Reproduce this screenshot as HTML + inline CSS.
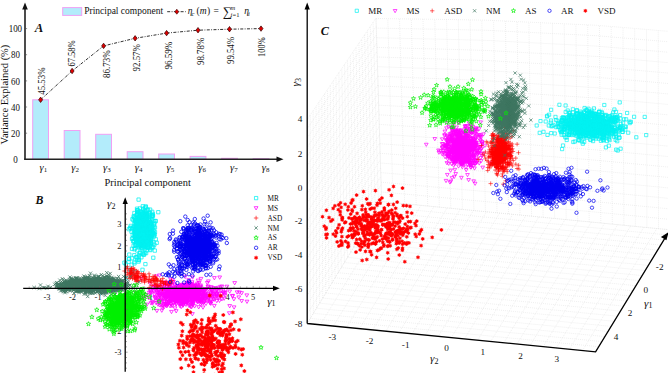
<!DOCTYPE html>
<html><head><meta charset="utf-8"><style>html,body{margin:0;padding:0;background:#fff;overflow:hidden}
svg{display:block}
text{font-family:"Liberation Serif",serif;fill:#111}
.p{fill:none;stroke:none}
.ta{font-size:9.6px}
.tp{font-size:9.8px}
.t95{font-size:9.5px}
.t104{font-size:10.4px}
.tb{font-size:8.4px}
.tc{font-size:9.2px}
.tl{font-size:7.3px}
.tlc{font-size:9px}
.it{font-style:italic}
.g{font-size:10.5px;font-style:italic}
.g9{font-size:11.2px;font-style:italic}
.sub9{font-size:8px;font-style:normal}
.sub{font-size:7px;font-style:normal}
.sub2{font-size:6.5px}
.sig{font-size:13px}
.lbl{font-size:12.8px;font-weight:bold;font-style:italic}
.lbl2{font-size:11.8px;font-weight:bold;font-style:italic}
.lbl3{font-size:12.2px;font-weight:bold;font-style:italic}
</style></head><body>
<svg width="668" height="373" viewBox="0 0 668 373">
<defs>
<marker id="bsq" markerUnits="userSpaceOnUse" markerWidth="1" markerHeight="1" overflow="visible"><path d="M-1.65 -1.65h3.30v3.30h-3.30z" fill="none" stroke="#00f2f2" stroke-width="0.75"/></marker>
<marker id="btr" markerUnits="userSpaceOnUse" markerWidth="1" markerHeight="1" overflow="visible"><path d="M-1.90 -1.32h3.79l-1.90 3.30z" fill="none" stroke="#ff00ff" stroke-width="0.75" stroke-linejoin="round"/></marker>
<marker id="bpl" markerUnits="userSpaceOnUse" markerWidth="1" markerHeight="1" overflow="visible"><path d="M-2.23 0h4.46M0 -2.23v4.46" fill="none" stroke="#ff0000" stroke-width="0.64"/></marker>
<marker id="bcr" markerUnits="userSpaceOnUse" markerWidth="1" markerHeight="1" overflow="visible"><path d="M-1.65 -1.65l3.30 3.30m0 -3.30l-3.30 3.30" fill="none" stroke="#3e7660" stroke-width="0.75"/></marker>
<marker id="bst" markerUnits="userSpaceOnUse" markerWidth="1" markerHeight="1" overflow="visible"><path d="M0.00 -2.31 0.58 -0.80 2.20 -0.71 0.94 0.31 1.36 1.87 0.00 0.99 -1.36 1.87 -0.94 0.31 -2.20 -0.71 -0.58 -0.80z" fill="none" stroke="#00f000" stroke-width="0.75" stroke-linejoin="round"/></marker>
<marker id="bci" markerUnits="userSpaceOnUse" markerWidth="1" markerHeight="1" overflow="visible"><circle r="1.73" fill="none" stroke="#0000f0" stroke-width="0.75"/></marker>
<marker id="bas" markerUnits="userSpaceOnUse" markerWidth="1" markerHeight="1" overflow="visible"><path d="M0.00 -1.98 0.62 -1.07 1.71 -0.99 1.24 0.00 1.71 0.99 0.62 1.07 0.00 1.98 -0.62 1.07 -1.71 0.99 -1.24 0.00 -1.71 -0.99 -0.62 -1.07z" fill="#ff0000" stroke="#ff0000" stroke-width="0.38"/></marker>
<marker id="csq" markerUnits="userSpaceOnUse" markerWidth="1" markerHeight="1" overflow="visible"><path d="M-1.60 -1.60h3.20v3.20h-3.20z" fill="none" stroke="#00f2f2" stroke-width="0.7"/></marker>
<marker id="ctr" markerUnits="userSpaceOnUse" markerWidth="1" markerHeight="1" overflow="visible"><path d="M-1.84 -1.28h3.68l-1.84 3.20z" fill="none" stroke="#ff00ff" stroke-width="0.7" stroke-linejoin="round"/></marker>
<marker id="cpl" markerUnits="userSpaceOnUse" markerWidth="1" markerHeight="1" overflow="visible"><path d="M-2.16 0h4.32M0 -2.16v4.32" fill="none" stroke="#ff0000" stroke-width="0.59"/></marker>
<marker id="ccr" markerUnits="userSpaceOnUse" markerWidth="1" markerHeight="1" overflow="visible"><path d="M-1.60 -1.60l3.20 3.20m0 -3.20l-3.20 3.20" fill="none" stroke="#3e7660" stroke-width="0.7"/></marker>
<marker id="cst" markerUnits="userSpaceOnUse" markerWidth="1" markerHeight="1" overflow="visible"><path d="M0.00 -2.24 0.56 -0.78 2.13 -0.69 0.91 0.30 1.32 1.81 0.00 0.96 -1.32 1.81 -0.91 0.30 -2.13 -0.69 -0.56 -0.78z" fill="none" stroke="#00f000" stroke-width="0.7" stroke-linejoin="round"/></marker>
<marker id="cci" markerUnits="userSpaceOnUse" markerWidth="1" markerHeight="1" overflow="visible"><circle r="1.68" fill="none" stroke="#0000f0" stroke-width="0.7"/></marker>
<marker id="cas" markerUnits="userSpaceOnUse" markerWidth="1" markerHeight="1" overflow="visible"><path d="M0.00 -1.92 0.60 -1.04 1.66 -0.96 1.20 0.00 1.66 0.96 0.60 1.04 0.00 1.92 -0.60 1.04 -1.66 0.96 -1.20 0.00 -1.66 -0.96 -0.60 -1.04z" fill="#ff0000" stroke="#ff0000" stroke-width="0.35"/></marker>
<marker id="dm" markerUnits="userSpaceOnUse" markerWidth="1" markerHeight="1" overflow="visible"><path d="M0 -2.7L2 0 0 2.7-2 0z" fill="#e00000" stroke="#300" stroke-width=".7"/></marker>
</defs>
<rect x="32.7" y="99.8" width="15.8" height="59.5" fill="#b3ecfb" stroke="#f0a0f4" stroke-width="1"/>
<rect x="64.2" y="130.5" width="15.8" height="28.8" fill="#b3ecfb" stroke="#f0a0f4" stroke-width="1"/>
<rect x="95.7" y="134.3" width="15.8" height="25.0" fill="#b3ecfb" stroke="#f0a0f4" stroke-width="1"/>
<rect x="127.2" y="151.7" width="15.8" height="7.6" fill="#b3ecfb" stroke="#f0a0f4" stroke-width="1"/>
<rect x="158.7" y="154.0" width="15.8" height="5.3" fill="#b3ecfb" stroke="#f0a0f4" stroke-width="1"/>
<rect x="190.1" y="156.4" width="15.8" height="2.9" fill="#b3ecfb" stroke="#f0a0f4" stroke-width="1"/>
<rect x="221.6" y="158.3" width="15.8" height="1.0" fill="#b3ecfb" stroke="#f0a0f4" stroke-width="1"/>
<rect x="253.1" y="158.7" width="15.8" height="0.6" fill="#b3ecfb" stroke="#f0a0f4" stroke-width="1"/>
<path d="M25 159.3V8" stroke="#383838" stroke-width="1.8" fill="none"/>
<path d="M24.1 159.3H278" stroke="#222" stroke-width="1.5" fill="none"/>
<path d="M25 2.5L22.2 9.5H27.8z" fill="#111"/>
<path d="M283.5 159.3L276.5 156.5V162.10000000000002z" fill="#111"/>
<text x="15.4" y="162.9" class="ta" text-anchor="middle" textLength="4.5" lengthAdjust="spacingAndGlyphs">0</text>
<text x="15.4" y="136.8" class="ta" text-anchor="middle" textLength="8.9" lengthAdjust="spacingAndGlyphs">20</text>
<path d="M25.5 133.2h1.6" stroke="#444" stroke-width=".6"/>
<text x="15.4" y="110.6" class="ta" text-anchor="middle" textLength="8.9" lengthAdjust="spacingAndGlyphs">40</text>
<path d="M25.5 107.0h1.6" stroke="#444" stroke-width=".6"/>
<text x="15.4" y="84.5" class="ta" text-anchor="middle" textLength="8.9" lengthAdjust="spacingAndGlyphs">60</text>
<path d="M25.5 80.9h1.6" stroke="#444" stroke-width=".6"/>
<text x="15.4" y="58.3" class="ta" text-anchor="middle" textLength="8.9" lengthAdjust="spacingAndGlyphs">80</text>
<path d="M25.5 54.7h1.6" stroke="#444" stroke-width=".6"/>
<text x="15.4" y="32.2" class="ta" text-anchor="middle" textLength="13.4" lengthAdjust="spacingAndGlyphs">100</text>
<path d="M25.5 28.6h1.6" stroke="#444" stroke-width=".6"/>
<text x="39.5" y="170.9" class="g">γ<tspan class="sub" dy=".9">1</tspan></text>
<text x="71.3" y="170.9" class="g">γ<tspan class="sub" dy=".9">2</tspan></text>
<text x="103.0" y="170.9" class="g">γ<tspan class="sub" dy=".9">3</tspan></text>
<text x="134.8" y="170.9" class="g">γ<tspan class="sub" dy=".9">4</tspan></text>
<text x="166.5" y="170.9" class="g">γ<tspan class="sub" dy=".9">5</tspan></text>
<text x="198.3" y="170.9" class="g">γ<tspan class="sub" dy=".9">6</tspan></text>
<text x="230.1" y="170.9" class="g">γ<tspan class="sub" dy=".9">7</tspan></text>
<text x="261.8" y="170.9" class="g">γ<tspan class="sub" dy=".9">8</tspan></text>
<text x="104.5" y="186" class="t104">Principal component</text>
<text transform="translate(7.5 94.6) rotate(-90)" class="t104" text-anchor="middle" textLength="99.8" lengthAdjust="spacingAndGlyphs">Variance Explained (%)</text>
<path d="M40.6 99.8 72.1 71.0 103.6 45.9 135.1 38.3 166.6 33.1 198.0 30.2 229.5 29.2 261.0 28.6" fill="none" stroke="#1a1a1a" stroke-width=".9" stroke-dasharray="3 1.4 .9 1.4"/>
<path class="p" d="M40.6 99.8 72.1 71.0 103.6 45.9 135.1 38.3 166.6 33.1 198.0 30.2 229.5 29.2 261.0 28.6" marker-start="url(#dm)" marker-mid="url(#dm)" marker-end="url(#dm)"/>
<text transform="translate(45.4 94.7) rotate(-90)" class="tp" textLength="27.2" lengthAdjust="spacingAndGlyphs">45.53%</text>
<text transform="translate(75.0 66.6) rotate(-90)" class="tp" textLength="26.3" lengthAdjust="spacingAndGlyphs">67.58%</text>
<text transform="translate(109.6 78.0) rotate(-90)" class="tp" textLength="27.6" lengthAdjust="spacingAndGlyphs">86.73%</text>
<text transform="translate(140.0 71.5) rotate(-90)" class="tp" textLength="27.5" lengthAdjust="spacingAndGlyphs">92.57%</text>
<text transform="translate(172.1 69.5) rotate(-90)" class="tp" textLength="27.7" lengthAdjust="spacingAndGlyphs">96.59%</text>
<text transform="translate(203.9 65.0) rotate(-90)" class="tp" textLength="27.3" lengthAdjust="spacingAndGlyphs">98.78%</text>
<text transform="translate(234.1 64.0) rotate(-90)" class="tp" textLength="27.0" lengthAdjust="spacingAndGlyphs">99.54%</text>
<text transform="translate(265.4 56.9) rotate(-90)" class="tp" textLength="19.5" lengthAdjust="spacingAndGlyphs">100%</text>
<rect x="62.7" y="7.6" width="19" height="7.8" fill="#b3ecfb" stroke="#f0a0f4" stroke-width="1"/>
<text x="84.2" y="13.8" class="t95">Principal component</text>
<path d="M167.2 11.7H185.7" stroke="#1a1a1a" stroke-width=".9" stroke-dasharray="3 1.4 .9 1.4"/>
<path d="M176.8 9.2L178.7 11.7 176.8 14.2 174.9 11.7z" fill="#e00000" stroke="#300" stroke-width=".6"/>
<text x="187.8" y="13.8" class="t95 it">η</text>
<text x="191.5" y="15.9" class="sub2 it">c</text>
<text x="196.4" y="13.8" class="t95">(</text>
<text x="199.7" y="13.8" class="t95 it">m</text>
<text x="206.9" y="13.8" class="t95">)</text>
<text x="213.6" y="13.8" class="t95">=</text>
<text x="222.9" y="16.2" class="sig">∑</text>
<text x="230.6" y="9.9" class="sub2 it">m</text>
<text x="230.6" y="16.6" class="sub2 it">i</text>
<text x="232.6" y="16.6" class="sub2">=1</text>
<text x="244.2" y="13.8" class="t95 it">η</text>
<text x="248.0" y="15.9" class="sub2 it">i</text>
<text x="34.8" y="31.9" class="lbl">A</text>
<text x="46.9" y="300.2" class="tb" text-anchor="middle">-3</text>
<text x="72.5" y="300.2" class="tb" text-anchor="middle">-2</text>
<text x="98.1" y="300.2" class="tb" text-anchor="middle">-1</text>
<text x="150.8" y="300.2" class="tb" text-anchor="middle">1</text>
<text x="176.4" y="300.2" class="tb" text-anchor="middle">2</text>
<text x="202.0" y="300.2" class="tb" text-anchor="middle">3</text>
<text x="227.6" y="300.2" class="tb" text-anchor="middle">4</text>
<text x="253.2" y="300.2" class="tb" text-anchor="middle">5</text>
<text x="121.5" y="227.3" class="tb" text-anchor="end">3</text>
<text x="121.5" y="248.6" class="tb" text-anchor="end">2</text>
<text x="121.5" y="269.9" class="tb" text-anchor="end">1</text>
<text x="121.5" y="312.5" class="tb" text-anchor="end">-1</text>
<text x="121.5" y="333.8" class="tb" text-anchor="end">-2</text>
<text x="121.5" y="355.1" class="tb" text-anchor="end">-3</text>
<path class="p" d="M150.4 222.1 136 234.6 152.2 211.8 146.5 228.7 139.8 242 135.3 238.9 145.9 238.5 148.4 238.9 145.2 242.5 146 227.4 139.6 215.5 141 226.7 148.3 248 143.8 233.1 145.2 210.6 144.8 237.3 145.7 226 139.7 234 145.3 224.5 147.4 234.6 146.3 231.7 149.8 227.1 146.7 214.5 150.4 231.6 145.4 226 140.6 216.8 141.4 233.7 143.4 231.9 143.1 227.9 146.8 224.8 138.2 237.2 143.3 226.7 142.4 233.2 141.1 239.1 146.1 243.5 142.1 224.3 139.8 234.3 133.5 241.1 137.2 211.6 140.6 227.5 149.7 233.6 152 232.6 150.1 229.4 145.3 232.6 145.8 218.5 144.5 227.6 135.3 231 150.1 209.6 141.7 240.9 145.6 243.6 138.2 217 148.2 235.7 142.3 241.8 147.7 214.4 141 233.9 138.6 232.2 139.4 227.6 141.3 233.5 133.5 220.1 137 214.6 148 209.8 137.2 241.3 145.9 230.7 145.4 264.1 139.9 221.8 134.2 233.2 137.9 245.4 146.3 223.9 141.6 236.9 142.4 248 141.1 225.6 144 224.7 146.4 239 139.6 220.6 134.9 232 149.9 222.9 146 228.7 144.4 237.9 134.3 236.8 151.7 228.5 147.7 235.2 142 228.5 147.8 234 145.5 229.8 143.2 244.7 146.5 240.1 136.5 235 141.1 232.6 140.6 224.7 146.7 230.6 152.5 233 147.1 234.1 146.3 224.4 135.1 236.5 146.8 228.1 152.3 216 138.4 232.9 145.2 243.9 141.2 230.4 142.5 221.7 151.5 228.7 135.7 228.1 142.4 235.5 142.1 230.5 149.2 224.8 153.9 224.6 130.6 228.1 141.8 224.4 149 220.4 153.3 257.7 140.1 233.6 132.1 229.2 146.7 225.2 146.3 232.5 144.4 218 139.4 243.1 138.4 221.6 135.6 230.8 137.5 234.4 149.8 225.5 147.7 242.9 147.7 223.4 148.1 245.9 151.7 228 143.4 231.2 142.1 232.3 138.9 212 147.6 242 146.6 220.1 146.1 233.7 146.4 241.3 151.1 233.2 133.7 216.3 143 231.6 142.4 234.7 146.7 234 143.3 224.6 148.9 224 140.7 245.4 144.8 226.8 143.4 226.9 147.6 227.9 141.4 222.8 139.7 225.5 148.2 224.4 148 232.5 137 226.5 146 226 150.3 218.9 135.8 233.9 130.7 225.9 152 223.6 136.5 238.6 150.1 249.4 143 236.5 135.3 228.9 146.1 211.5 146.2 236 137.3 250.5 144.7 239.9 143.3 239.8 152.3 227.6 137.7 225.6 142.3 240.8 140.9 218.6 143.7 220.1 147.6 224.2 139.6 253 136.2 232 142.4 227.9 150.9 241.4 155.7 221.1 151.8 233.8 144.3 237.1 141.1 238 142.6 235.2 147.6 239.6 144.5 225 142.6 226.7 154.4 244.6 140.8 243.8 135.8 233.8 140.1 213.9 143.2 214.6 148.7 241.2 142.4 242.9 131.5 231.7 137.6 221 137.1 236 151.6 235.2 155 232.2 147.1 229.6 140 227.6 140.9 219.2 144.9 219.4 151.4 242.8 136.9 220.4 146.3 235.8 142.5 224.6 149.1 223.6 140.2 233.6 135.6 227.2 153.3 246.8 141.1 219.2 145.9 207.1 139.1 240.8 139.9 244.4 135.7 220.3 141.2 219.8 132.7 238.1 141.1 247.7 138.6 232.6 156.7 242.8 155.8 239.3 143.6 221.8 146.6 240.6 147.2 227.8 138.8 223.4 139.1 231.4 150.1 233.8 148.1 240 135.8 222.2 143 219.3 136.6 214.9 144.5 234 149.8 232.9 147.5 226.8 144.2 236.2 147.6 227.2 145.1 234.7 148.5 226.9 146.4 223 149.8 232.5 139.9 208.4 139 218.9 151.9 226.9 140.7 230.7 153.6 220.8 149.2 226.4 149.2 232 144.5 241.8 136.8 227.2 145.4 236.5 150.1 238.6 142 212.9 144.9 230.2 137.4 213.5 141.7 237.6 142.8 217.8 139.6 217.1 149.9 233.5 147.3 235.8 148.7 224.6 138.7 230.3 142.8 244.6 149.6 234.7 139.2 219.1 139.7 240 137.5 242.7 141.3 247.2 133.6 245.8 143 224.6 143.4 209.5 147.8 224.4 135.4 229.2 138.2 242.1 143.4 234.9 141.2 223.8 148.8 229.3 145 218.7 145.1 208 146.6 213.8 140.9 223.4 136.9 236.6 142.5 220.9 148.6 244.3 136.8 227.6 144.3 235.9 137.4 233.1 139.7 231.6 146.5 236.3 143.1 213.1 143.7 245.3 154.7 234.7 146 230.9 138 245.1 146.7 250.5 135.5 244.8 137.7 233.2 143.4 233.3 137 235.7 141.7 229.6 143.5 230.5 146.6 234.7 145.9 234.1 151.4 231.7 145.8 234.9 145.1 233.3 150.4 244 139 227.8 139.7 231 138 232.4 141.6 219.4 144.4 229.7 152.9 232.9 139.7 232.8 142.9 241.1 145.5 229.1 141.7 239 142.2 214.3 150.4 222.7 145 235.3 137.6 212.4 148.8 220.3 149.3 226.6 144.5 237 147.1 225.6 146.6 219.5 148.4 232.3 152 233.4 142.7 214.2 141.9 239.8 143.1 223.3 132.7 234.7 155 227.5 138.5 261.6 136.6 232.4 145.3 221.9 146.7 216.5 139 225.9 147.4 217.7 133 227.8 142.5 232.4 138.1 227.9 143.3 228.4 137.4 210.2 144.6 229.4 145.4 231.8 146.4 229.4 138.5 219.8 143.4 232.1 143.1 232.1 135.6 245.7 144.3 235.9 136.8 239.7 136.3 241.8 140.9 245.1 145.7 243.9 144.3 230.4 150.3 245.8 151.6 216.8 146.8 237.8 146.5 228 141.8 225.5 136.2 257.1 147.2 234 149.1 213.7 143.6 229.9 145.6 228.6 143.7 226.8 152.3 232.3 136.4 224 145.2 224.4 146.1 253.1 134.9 235.5 132.4 219.2 144.1 224.9 142.1 239.4 144.6 225.6 144.9 233.7 140.5 227.3 150.4 224.6 150 224.2 136.7 239.9 140.4 242.3 140.9 215.8 145.2 227.9 145 231.8 141.3 229.7 141 231 146.5 243.9 140.7 212 139.2 241.6 143.4 254.4 150.1 224.9 142.5 253.5 146.5 236.3 149.6 230.5 141.2 229.8 138.6 199.6 143.3 219.7 141.1 245.8 140.8 231.3 144 226.6 150.6 242.7 144.3 241.1 141.2 242.9 142.9 219.1 140.8 211.3 151 224.1 134.5 217.7 148.6 228 138 231.9 147.4 220.4 142 241.5 142.3 244.6 154.8 250.6 143.3 231.4 142.7 233.8 138.1 234.9 139.3 232 148.2 228.1 147.4 209.6 145.4 228.6 135.6 233.4 148.3 226.4 148.1 227.4 143.3 236.6 141.8 229.3 145.5 241.6 142.2 231 139.9 233.4 144.1 237.2 155.3 221 146.6 244.1 141.4 257.3 140.4 237.9 145.8 237.2 146.3 236.3 136 241.8 149.3 231.9 143.1 223.8 147.8 247.6 144.5 218.2 145.3 233.1 140.8 241.3 148.5 227.3 138.6 223.3 150.9 226.8 150.2 226.3 146.3 230.6 137.7 210.4 147.6 225.9 143 236.2 142.9 236 145.8 218.9 153 227.7 146.3 214.5 128.9 229.2 141.3 228.7 140.3 237.2 151.7 247.8 141.9 232 143.7 243.4 134.4 230 144.2 234.1 152 219.2 143 230.3 141.6 231.9 144.7 223.4 154 236.4 152.8 233.8 153 215.8 136.9 237.2 145.3 246.1 149.1 223.7 141.6 231 150.3 223.2 141.6 234.7 138.9 234.7 138.2 230.3 143.4 221 154.5 223 150.5 226.6 148.4 238.6 140.4 234.6 145.3 238.3 148.9 233 150.4 231.2 141.9 226.7 146.8 216.4 147.2 233.6 149 224 152.6 215.4 153.5 242.3 139.3 234.7 147.2 216.2 144 220.4 150.7 239.3 151.1 237.6 137.5 213.7 143.5 232 152 236.3 135.4 218.3 148.4 243.5 149.3 241.8 137.6 226.1 139.4 225.7 146.7 238.2 149.1 230.4 140 235.6 139.4 233 135.7 244.1 139.5 237.6 145.1 239.2 139.6 232.3 142.8 206.3 144.3 239.3 146.3 229.1 147.6 225.5 136 237.5 151.3 231.8 144.7 237.5 152.5 247 145.3 223 145.3 225.2 145.4 222 143.3 236.9 142.5 223.7 144.6 245 142.8 223.4 148.9 230.1 145.4 228.2 147.6 235.2 148.5 236.4 141.3 215.4 141.5 215.1 146.6 228.6 139.2 239.6 141.3 227.3 140.5 219.7 148.4 227.5 150.3 236.9 146 235.2 142.4 234 144.3 236.9 147 241.2 136.7 226.1 140.3 233 140.7 234.5 146.3 223.4 143 226.4 146.7 239.2 145.3 244.1 139.7 231.6 135.5 223.6 139.3 231.2 147.3 228.8 135.8 231.7 141.6 222 148.8 224.3 136 227.9 142.9 240.7 145.8 220.1 135.3 219.7 130.2 227.7 148.9 231.9 139.6 220.2 153.6 233.2 139.5 241.9 142.6 233 144 254.8 135.4 236.2 150.5 250.1 145.5 220.9 133.9 217.2 145 215.6 144.7 224.8 141.3 225.1 144.2 233.3 140.4 215.7 143.5 232.3 146.5 229.9 144.9 217.8 137.5 221.1 134.1 226.6 147.1 225.2 144.3 231.6 143.3 227.5 144.6 213.6 141.5 224.9 139.5 226.9 151.9 215.2 145.7 206.4 140.2 216.2 137 208.7 135.3 221.3 136.1 235.3 142.6 228 141.9 223.2 145.3 222.7 142.6 217.1 145.3 221.7 147.4 233.5 140.8 226.4 138.8 220.7 144.8 227.7 150.1 228.8 140.4 229.9 146.4 237.6 144.3 237.7 142.9 225.4 150.6 234.9 137.8 241.5 145.6 227.5 149.8 212.7 139.7 222.7 132 238.9 146.1 227.8 147.2 227.6 142.1 232.1 135.2 226.2 144.4 235 144.5 235.6 136.1 241.1 144.8 213.7 144.2 228.9 145.1 233.5 148.9 237.5 143 235.7 145.5 235.5 149.3 233.2 140.9 221.9 145.9 222 144.1 236.3 140.9 228.1 142.3 231.7 146.6 246.9 136.9 218.4 151.4 238.6 145.6 228.4 142.6 221 140.7 224.4 145.3 225.5 145 242.3 141.2 231 143 208.7 140.4 225.9 147.3 221.9 137.9 232.7 144.7 249.2 141.1 230.9 135.2 237.1 139.6 217.9 142.1 243.1 140.6 217.1 145.1 234.6 139.6 214.6 142.4 240.9 145.3 245.8 142.4 229.6 142.3 249.1 150.2 221.8 146.7 230.6 143.6 222.8 145.3 244.5 154 231.1 134.4 223.4 145.1 234.5 138.7 229.3 138.9 222.3 145.9 228.2 147.8 231.8 151.6 225.4 143 241.9 137.3 233.3 146.3 232 139 235.6 148.8 225.8 142.3 241 142.3 223.3 140.3 246.2 140.4 252.8 134.4 213 135.2 248.3 149.2 233.2 137.8 224.4 149.4 227.8 142.9 221 145.5 243 148.1 247.1 144.4 241.2 146.6 238.1 146.1 216.5 144.8 216.8 154 234.5 147.9 232.3 143 225.5 139.9 219.6 149.1 218.7 148.7 225.7 143 233.8 143.9 237.3 149 236.3 149.4 223.7 144.3 230.9 139.2 247.2 158.3 212.2 139.4 235.3 141.7 235 143 224.9 136.5 224.7 152.8 213.9 145.2 222.5 136 221.8 147.2 239.7 145.8 243.6 137.3 223.7 147.8 226.5 149.8 228 146 247 154.1 226.8 145 246.2 134.4 241.2 151.6 232.4 133.4 241.5 149.5 231.6 145.9 232.3 144.9 247.3 146.1 237.4 143.8 230 142.6 244.5 140.2 237.7 137 241.7 148.6 232.4 149.1 241.5 152.9 233.9 144.4 226 139.4 228.9 140.8 224.1 143.7 212.5 145.9 234.5 140.6 237.8 149.1 215 139.5 238.5 147.4 243.7 144.7 253.3 138.2 226.6 145.5 216.8 148 222.6 144.1 213.8 138.6 235.2 137.3 210.3 144.8 241.5 138.3 228 146.4 229.4 142.7 224.4 146.5 232.4 147.8 228.4 142.8 235 125.9 264.4 131.6 271.6 134.9 272.2 137.3 259.8 134.4 249.3 139.2 255.2 130.1 269.8 129.2 258.9 138.6 257.3 128.7 259.1 132.3 273.5 124.4 262.7 138.8 259.7 136.8 257.4 129.3 254.6 134.4 262 134.5 263.4 139 260.1 142.5 269.8 134.3 255.2 132 248.8 131.9 258.3 131.6 264.7 126.2 278.2 128.6 261.8" marker-start="url(#bsq)" marker-mid="url(#bsq)" marker-end="url(#bsq)"/>
<path class="p" d="M193.2 293 210.1 303 173.9 299.4 185 302.1 185.2 276.6 162.1 294.2 205.5 296.1 162.4 307.7 188 286.1 211.4 290 170.3 289.3 157.6 287.3 156 276.2 164.6 296.5 175 285.3 169.4 298.9 187 284.6 199 300.7 190 296.1 181.5 289.5 185.3 288.8 172.5 280.3 201.4 302.7 170.3 300.8 177.1 292.2 181.6 296.7 189.2 291.5 179.2 293.3 210.7 300.6 167.6 303.6 174.2 297.2 154.1 291 184.6 287.5 180.8 291.1 221.2 290.7 180.5 292 164.4 295.1 188.4 298 185.6 290.5 168.7 301.8 189.7 286 176.7 288.4 180.9 299 182.4 290.5 166.3 293.4 172.8 299.1 182.6 296.6 174.2 292 178.5 296 185.5 289.4 182.9 297.4 183 302.5 181.3 287.5 201.3 296.9 189.2 293.5 202.4 295.5 170.1 306 185.1 289 198.6 289.6 190.9 294.5 204.9 298.4 165.8 295.5 179.3 298.2 187.3 299 182.4 292.1 178.6 288.9 188.4 283.1 188 289.6 170 296.4 181.2 306.7 179.8 295.8 176.1 288.8 188.5 289.3 171.7 305.5 180.2 290.5 158.3 300.5 141.3 297.1 190.1 302.4 195.7 298.9 214.4 299.4 150 290.4 175.8 297.1 173.3 291 190.7 288.5 167.4 296 202.5 290.6 181.8 303.5 200 297.1 186.1 295.1 184.6 295.6 186.8 293.3 187 298.1 178.5 273.2 183.4 300.9 179.2 289.8 204.7 290.6 168 295.9 211.6 301.8 221.4 293.8 200.6 299 171 300.4 165.7 304.6 224.1 293.7 179.9 285.4 135.5 292.6 185.3 288.5 188.7 280 191.7 294.9 187.8 302.2 185.8 287.6 190.3 290.9 185.5 288.6 180.1 293.6 176 294.4 168.8 289.9 176.3 294.5 173.1 293.6 203 307.3 164.5 303.9 195.5 293.8 166 283.7 203 296.1 194 294.6 183.7 290.6 216.8 293.9 179.9 305.8 171.5 296.1 192.7 297 170.1 300.7 183.3 297 186.4 296.1 169.7 296.9 170.4 298.5 198.1 280.4 183.4 304.5 192.6 277.2 187.2 295.9 169.2 286.1 181.6 300.8 177 286.4 161.5 288.9 193.4 303.2 214.8 292.7 180.1 303 193.8 290.9 191.4 289.4 171.5 311.7 174.3 292.8 212.1 290.1 193.6 292.1 205.1 294.7 191.5 285 184.2 289.6 167.7 297.1 166.6 289.1 196.7 293.3 216.4 294.2 190.3 294.7 184.1 298.1 182.2 296.1 174.3 291.7 201.8 293.1 199.9 298.2 199.6 290.6 156.9 310.7 153.4 290.7 197.3 299.4 159.4 275.3 165.4 293.9 176.2 311 198.1 295.6 192.2 286.8 193.4 286.2 176.9 288.4 176.5 295.9 202.2 288.6 200.8 300.5 178.3 296.7 194.1 287.8 197.5 283.4 183.7 291.9 189.4 302 179.7 288.5 184.1 302.7 197.5 302 176 289.7 175.9 297.5 203.8 298.3 194.6 291.2 184.9 290.9 157.1 292.7 171.5 296.9 176 300.4 180.4 296.8 206.4 295.8 186 304.5 194.6 296.5 174 295.7 184.1 301.7 197 296 173 302.6 185.6 292.6 175.6 292.1 193.5 295.1 189.8 287.2 166 290.8 173.1 298 158.7 291.1 218.3 297.7 173 295 176 301.7 193.2 302 186.1 293.3 152.6 303.2 173 295.1 167.2 297.3 185.7 291.4 182.4 284.6 190.3 287 184.9 294.8 186.7 301.1 169.8 301.2 187.2 293.7 163.5 298.2 199.2 282.8 201.4 290 195 289.6 209.9 302.2 187.7 289.8 193.2 300.3 200.2 291.8 190.5 293.7 194.6 296.7 192.4 293.3 208.4 281.2 208.5 298.3 194.9 290.8 198.3 292.2 198.5 290.6 191 291.9 192.8 290.9 184.8 300.7 163.5 304.2 156.1 288.1 196.7 291.1 179.6 303.7 189.6 287.8 139 299.7 159.2 293 169.9 286.7 193.5 295.5 202.3 296.3 166.7 305.9 167.9 293.8 200.5 285.3 209.3 297 191.9 296.7 187.5 282.5 157.7 292.4 192.5 292.3 195.2 289.8 204.3 301.5 166 284.6 193.7 285.6 218.4 287.6 198.7 290.7 199.1 292.4 169.1 292.6 167.4 303.3 212.7 291.7 194.4 295.6 204.9 295.8 180.7 288.1 176.1 294.3 187.3 301 183.4 292.3 195.9 288.4 184.3 292.9 181.2 288.8 207.8 294.1 164.3 286.3 187.5 296.7 188.7 291.7 148.7 297.8 171.5 293.6 201.5 296 180.6 304.2 182.7 292.5 211.4 287.2 185.7 284.5 167.4 294.9 156 300.4 178.9 293.3 205 294.5 202.3 293.3 173.3 289.4 174.8 293.5 200.8 286.7 193.7 293.3 180 300.4 188.7 293.4 201.4 292.3 155.4 296.6 163.3 282.8 205.8 292.6 174.9 300.2 193.7 297.9 180.3 292.8 175.1 298.2 200.3 286.4 222.1 286.4 163 306 199.2 288.7 186.3 293.2 192.8 300.8 168.1 291.8 159.6 295.4 183.2 301.9 200.4 296.9 174.6 293.4 197.3 290.7 169.9 292.8 190.7 290.7 194.1 298.1 186.8 302.6 170.5 284.4 151.4 291.2 171.9 297.3 196.3 288.2 204.7 290.3 207.9 295.2 182.4 301.8 170.4 290.1 189.9 283.9 190.8 306.5 157.3 287.2 190.1 289.5 180.4 289.8 194.7 298.8 190.4 290.3 192.6 285.5 162.4 300.6 166.6 297.2 174.8 288.4 166.9 283.4 191.9 283.7 161.8 299.5 196.6 293.5 200.6 301.6 169.5 292.4 173.3 297 194 286.7 189.8 290.6 186.8 297.6 180.2 287 205.4 293.8 199.7 291.8 181.8 298.9 167.2 294 170.9 304.2 177.6 300.4 181.3 296.6 180.1 287.7 182.9 305.5 169 289.1 172.8 288.5 179.5 291.6 170.7 301.4 204.2 301.3 177 297.5 176.3 293.4 158.6 295.1 167.3 305.3 208.5 289 184 299.7 172.7 299.2 178.7 286.5 211.2 296.5 181.8 293.5 150.8 292.8 197.7 297.6 185.1 285 179.3 297.9 164.1 307 175.3 301.9 189.6 291.4 181.4 299.7 191.6 301.9 183.4 304.7 192.3 297.3 151 303 196 294.8 194.3 296.1 183.6 289.8 165.9 290.1 164 301.4 176.6 292.6 200.1 299.9 180.2 289.9 162.7 293 160.8 294.4 190.9 288 197 295.5 170.2 292.5 143.7 298.1 188.9 299 179 295 214.2 296.7 185.4 289.8 199.2 287.9 186.1 292.4 181.1 293.3 180.9 297.1 181.7 290.8 196.3 299.4 183.7 284.6 169.6 285.4 186.4 291.6 175.1 308.2 189.9 298.6 201 298.7 179.2 298.9 175.8 288.3 202.8 291.2 192.1 293 178.1 290.9 183.1 302.8 206.6 288.8 203.8 291 185 290.6 174.5 288.9 194.6 306.1 168.8 286.1 214.4 277.9 183.9 300.1 194.6 285.9 146.3 295 166.5 304.3 178.4 295 173.6 299 188.7 296.7 187.6 282.8 191.2 290.7 192.1 282.1 212.3 296.6 184.8 299 195.3 289.1 172.5 305.4 191.5 307 168.2 297.4 154.4 294.5 161.8 310.4 173.3 292.9 178.8 300 182.2 299.7 207.9 286.5 181.5 288.7 194.8 287.1 181.2 294.1 162.8 290.6 174.3 288.6 174.4 297.6 159.8 305 197.3 295.2 202.1 294.7 195.9 287.1 152.4 301.8 193.8 296.7 203.6 297.3 184.5 288.5 168.6 295.8 174.1 294.9 181.4 285.3 171.4 294.8 180.7 286.3 187.1 291.9 198.6 292.2 191.5 296.9 176.6 288 185.9 299.1 188.2 291.5 188.9 305.5 179.6 292 187.2 288.1 178.5 291 153.1 287.9 187.7 296.2 183.7 296.7 177.1 300.4 166 298.2 162.7 295.4 177.7 292.9 177.7 298.6 188.5 285.7 161.8 298.3 223.1 292.2 197.8 301.2 193.9 299.3 216.4 288.5 204.9 289.2 173.3 281.8 199.2 298.8 185.5 290.4 169.5 301.8 195 296.1 159.7 300.1 192.8 299.3 162.7 291.9 199.8 301 182 290.2 141.2 278.4 161.3 304.3 166 298.4 175.3 300.4 189.1 300.4 176.1 304.2 177.1 287.3 176.2 290.2 169.5 294 178.9 298.4 186.9 287 178.1 297 205.5 297.9 168.4 295.4 154.6 285.8 181.3 295 158.4 297.5 198.1 293.2 184.2 300.1 186.9 296.5 192.4 313.9 173.8 295.3 158.6 289.8 176.5 289.9 207.8 299.7 171.8 295.4 174.7 301.7 165.4 288.6 193.5 300.2 194.1 285.1 198 296.8 181.7 291.5 192.8 305.1 167.7 295 168.6 291.9 176.2 303.7 169.2 292.9 177.8 294.6 161.4 293.8 176.7 295.6 197.5 284.8 164.2 301.3 190.2 291.5 185.3 294.7 203.2 295.9 175.8 300.5 216.6 295.6 201 278.7 161 291.7 189.3 294.8 205.2 295.8 193.8 298.1 198.9 294.6 186.8 301.9 186.5 302.4 203.4 297.9 169.7 288.3 181.1 288.8 156.9 291.9 187.2 294 182.6 294.1 193.4 288.3 179.8 302.3 171.5 294.7 160 295.2 163.4 287.4 207.3 282.8 208.3 286.5 183 290.3 192.3 301.5 169.3 289.7 174.1 295.7 172.2 298.4 180.2 290.5 191.9 287.4 211.1 287.4 195.5 290.8 174.9 288.3 154.6 297.3 168 291.4 168.8 285.4 194.9 286.2 184.6 302.9 193.8 295.3 173.1 281.8 188.2 295.8 156.7 287.6 174.1 299.6 212 290.5 179.6 293.1 195.6 298.9 185.5 297.2 177.3 296.6 163.8 289 176.4 300.3 185.9 286.7 166.7 301.6 193.1 286.8 196 297.3 174.7 284.3 188.1 290.8 165.6 298.4 197.3 289.1 183.1 296.7 225.1 295.1 189.9 305.6 173.5 287.5 182.1 296.8 131.3 297.3 196.3 297.3 190.1 289.2 212.5 294.4 196.1 295.2 166 293.3 188.2 292.7 191.5 296.6 199.6 299.1 184.8 298 178.9 287.1 184.7 299.3 187.7 294.5 171.9 285.7 181.1 300.7 179.1 294.8 197 300.7 213.9 295.5 191.7 303.1 196.3 294.1 186.6 291 187.1 292.5 181.5 286.6 195.5 287.2 180.2 291.7 166.6 292.1 217.2 290.2 165.2 288.9 170.6 279.2 206.5 297.6 165.8 282.3 177.5 294.6 154.5 287 177.1 294.4 155.7 298 170.6 288.6 196.9 287.1 196.1 297.4 204.6 295 187.3 292.5 184.3 290.2 168.3 285.7 158.1 304.4 208.9 298.4 172.3 301.4 174.4 294.5 159.2 290.3 165.3 295.3 187.1 294.7 180.4 289.5 182.4 285.8 198.7 307 186.6 291.5 176.3 290.2 190.5 293.7 176.5 292.8 170.7 282.6 183.1 291.2 163.5 288.7 170.5 298.1 177.8 298 156.1 302.8 199.1 290.2 180.3 294.8 198 291.5 200.5 304.2 186.9 300.6 203.5 302.1 196.7 293.4 210.9 293.6 195.3 297.6 169.5 289.5 198.9 291.7 216.6 293.6 167 303.6 194.4 297.9 173.7 292.5 149.2 292.6 192.6 293.1 160.1 285.6 199.4 292.8 180.9 293.2 210.8 303.5 165.2 297.1 192.1 288.8 192.6 290.3 176.5 297 176.2 296.6 159.9 295.9 178.9 294.4 172.6 298.7 192.9 303.3 181.4 292.9 194.9 291.2 188.5 290 190 293.3 184.2 288 192.7 290.6 186 299.3 189.9 284 201.4 299.8 156.4 288 176 299.6 185 294.7 196.3 299.5 198 291.3 200.2 292.8 195.1 297.4 170.4 291.4 174.7 300.2 166.8 303.4 194.3 298.9 172.8 299.9 166.9 294.8 187.7 295.5 157.9 299 180.9 294.1 150.8 292.1 182.6 291.6 190.7 297.5 165.2 284.2 180.7 288.9 185 290.8 167.9 291.7 188.6 289.3 189.8 290.8 178.6 286.4 175.4 298.9 175.1 289.5 196.3 285.9 219.7 277.3 185 284.9 193.3 286.4 178.7 292.2 185.8 298 199 290.2 190.1 297.2 183.3 288.9 174 295.3 179.6 292.5 189.1 294.1 168.6 291.4 199.5 300.4 146.9 304.4 202.4 295 179.5 295.9 195 296.2 162.9 295 195.6 298.6 184.7 292.2 183.8 294.7 191 297.3 183.4 295.4 189.9 288.6 189.3 293.9 196.7 299.1 179.6 300.2 171.7 295.8 167.9 291.1 168.3 302 165.1 282.6 179.3 289.2 166.2 298.8 184.5 289.4 150.2 283.5 173.9 295.2 180 292.8 188.3 298.2 172.2 295.4 186.6 285.3 198.2 294.4 159.3 302.8 190.7 291.2 172.8 299 180.4 291.5 187.3 285.2 181 292.3 189.8 294 169.1 302.2 201.1 300.5 182.5 291.2 189.2 295 218.7 290.8 210.6 292.6 224.1 298.4 217.2 294.9 219.5 300.5 237.1 292.2 225.3 292.8 203.4 303.1 229.7 305.9 213.7 299 241.6 293 206 303.6 214.3 305.7 232.5 295.7 246.8 295.2 206.3 300.1 220.6 296.3 214.6 288 241.7 300.8 247 301.5 226.9 286.5 234.1 307.2 216.5 290.1 210.7 289.5 229.7 291.3 218.7 296.5 232.5 296.1 220.6 286.6 238.8 297.2 221.9 299 223.6 292.4 234.7 282.9 225.7 289.8 239.4 292.3 216.8 300.8 213 293.6 233.9 299 229.3 313.1 216.8 296.4 210.7 295.3" marker-start="url(#btr)" marker-mid="url(#btr)" marker-end="url(#btr)"/>
<path class="p" d="M149.2 287.6 154.7 281.1 152 285.5 137.6 276.1 136.9 275.4 160.6 283.2 165.5 283.1 132.8 274.1 154.1 281.1 162.8 278.4 141.8 281.2 155.5 283.6 157.7 281.4 169.7 283.4 159.8 285.4 156.4 284.3 157.1 279.1 134.7 279.1 129.1 278.4 140.5 277.5 136.3 271 136.7 277.4 137.9 278.3 131.6 268.5 138 271.6 156.5 279 143.8 276 156.4 279 153.8 280.4 150.5 280.9 127.4 266.7 144.2 279.1 157.5 286.3 155.2 276.2 160.7 281.1 169.6 282.5 130.3 269.2 144.7 278.1 143.5 273.7 127 274.9 131.4 272.1 134.6 269.5 135.4 275.6 124.6 271 154.5 285 163.5 283.8 144.1 276.5 134.8 277.8 137.8 276.6 134 276.1 136 277.9 162.8 281.7 163.8 283 166.1 281.4 132.5 278.6 157.3 280.4 153.9 278 171.6 280.5 130.5 277.6 129.9 275.9 138.8 273.4 131.8 268.7 162.4 288.9 152.8 278.8 135.9 273.8 144.3 276.5 136.1 281.6 146.4 278 149.6 276.7 130 274.3 149.2 279.7 138 276.2 145.2 276.7 133.3 268.1 133.2 271.1 156.9 287.1 155.4 277.9 134.9 278.1 135.8 279.7 131.9 275.1 150.9 282.6 157.8 285.9 138.3 281.2 137.6 272.3 130.2 273.2 133.1 272.5 149 273.8 160.8 286 171.2 281.6 141.3 279.8 145 274.9 137.1 280.3 127.6 272.6 134.4 274.9 142.7 275.4 130.1 271 138.1 276.7 136.7 273.3 126.1 268.1 168.2 285.2 145.3 279.8 144.6 282.3 144.5 280.7 160.4 280.3 153.4 280.5 141.3 274 131 270.6 130.3 273.3 148.1 279.6 165.7 284.5 161.9 281.8 131.8 273 170.9 283.2 148.3 281.6 135.1 277.1 137.9 280.7 151.6 279.8 153 276.4 127.6 268.8 131.5 276.5" marker-start="url(#bpl)" marker-mid="url(#bpl)" marker-end="url(#bpl)"/>
<path class="p" d="M111.9 286.5 99 285.3 90.4 282.9 105.9 279.4 93.4 280.9 99.5 282.4 89.6 287.4 98.2 284.3 89.6 277.2 103.7 286.9 101.6 283.8 91.8 281.5 112.6 280.8 95.1 285.6 118.4 287.9 88.5 285.7 89.4 282.2 125.2 284.2 95.7 280.6 95.3 285.9 115.8 281.7 110.5 284.6 91.1 283.9 106.7 284.1 96.6 282.6 83.8 286.3 107.6 286.8 105.6 281.8 97.7 288.4 94 279.4 112.7 281 87.3 284.9 106.7 282.3 77.6 291.4 78.5 282 112.4 287.3 108 282 92.7 281.8 111.6 280.1 109.1 283.6 85.9 291.4 89.3 292.6 108 279.6 94.5 285.3 101.9 281.4 96.3 288.7 94.1 282.2 104.4 285.6 104.9 291.7 88.9 285.9 121.8 280.6 110.5 282.1 87.4 287.9 98.2 283.9 116.8 284.5 96.9 288.3 69.6 282.2 103.7 284.1 99.6 285.2 97.4 287.7 105.1 286.8 92.2 279.3 122.5 286.1 100.1 288.7 115.6 284.3 106.6 284.8 94.1 285.9 86.6 288.2 100 289.5 84 276.1 86.3 282.1 86.3 282.3 96.1 279.9 88.6 288.3 92.5 277.3 122.1 283.3 94.8 287.6 102.2 285.5 90.6 279 98.2 288.9 97 280.6 97.4 286.5 115.6 287.7 81.9 289.1 112.5 282.5 109.9 283.7 96.4 285.4 101.3 288.7 102 290 94.3 289.7 81.8 285.7 113.7 283.5 94.6 283.4 98.5 287.5 91.3 288.1 93 293.2 85.9 286.8 104.9 284.9 117.1 281.4 98.1 283.5 87.3 285.3 92.6 286.2 71.2 278.8 88.5 286.9 109.3 277.6 110.6 285.5 103.1 290.6 113.8 283.3 90.9 282.2 103.8 287.3 109.1 281.7 95.2 287 98.9 283.2 106.5 281.1 105.3 281.6 90 293.3 88.6 284 103.1 284.2 93.6 282.1 103.8 287 90.3 286.2 108.9 291.5 104.1 289.9 89.7 280 118.3 286.3 102.4 283.8 92.4 283.2 81.5 289.2 108.8 281.2 108.7 285.7 95.8 287.5 83.8 285.3 102.7 283.1 88.2 280.4 118.3 279.9 120.1 281.3 96.4 285.9 101.6 280.6 97.7 290.4 102.8 289 94.2 286 79.3 289.1 121.5 282.7 94 285.2 96.4 282.6 88.9 286.6 100.8 288.3 96.8 282.2 103.4 289.7 90.8 290 79 290.3 105.2 280.7 84.6 278.9 106.2 285.6 123.9 286.5 97.8 286.6 107.8 279.6 117.9 282.9 94.7 284.3 104.7 286.8 116.4 286.5 84.4 284.7 113.7 284 113.4 290.8 114.2 279.3 108.5 289 96.7 282.5 93.6 282 87 285.1 114.9 290.4 111.4 281.9 130.4 276.6 111.6 285 92.5 289.3 112.9 279.6 101.6 288.3 79.8 279.6 91.6 292 108.8 286.4 100.4 282.3 101.7 288 100.2 284.2 99.1 285.5 99.9 289.1 110.6 288.1 106.1 283 114.7 286.8 94.1 281.8 95.5 281.8 97.7 278.1 108.6 287.4 114.8 283.5 101.2 288.2 82.7 286.2 127.4 285.6 111.4 281.5 101.1 283.6 110.8 285.3 92.9 288.6 103.7 277.8 96.6 278.8 114.9 289.7 99.5 285.6 105.6 282.8 120.3 286.2 100.7 280.8 120.2 285.8 96.7 288 103.8 286.6 112.6 289.5 109.3 286.8 115.5 282.6 89.1 285.6 113.4 283.3 82.9 282 81.8 287.3 71.9 288.2 88.8 284.4 84.4 288.5 84 283.9 100.6 288.8 109.6 286.2 87 289 100.4 278.9 100 286.2 96.1 285.5 94.6 285.2 101.3 284.8 102.2 281 91.7 290.4 96 281.1 87 282.8 89.1 280.1 107.8 283.6 97.3 292 109.1 285.1 101.3 283.8 86.1 284.7 82 284.7 122.3 281.8 87.2 285.5 109.8 290.5 99.9 292 102 283.7 81.2 281 96 287.6 117.8 283.2 98.8 276.1 97.7 282.2 101.4 284.2 100.9 285.3 94.5 279.3 74 286 89.7 286.5 105.5 278.6 100.9 287.9 114.6 285.7 86.6 280.2 101.2 287.4 98 280.1 102.5 282.6 115.2 288.1 103.8 288.5 103.6 279 99.4 278.7 74.8 286.6 88.9 285.8 97 283.9 91.9 284.8 96.2 279.4 106.6 280.5 107.3 286.2 86.8 285.1 83.8 283.6 103.5 284.5 81.5 283.2 75.9 283.5 95.6 281.3 112.7 289.3 80.4 287.8 79.1 292.3 115.8 282.1 94.8 287.5 92.1 279.4 111.6 283.1 88.2 280.1 85.7 283.8 93.7 287.6 102.3 281.9 100.1 282.4 81.4 290 121 288.5 123.5 286.4 95.4 283.1 103.3 287.3 86 282.4 100.9 283.3 80.3 290.7 111.1 282.8 77.5 282.9 76.6 291.2 99.5 286.9 90.2 283.6 108.6 277.5 100.7 281 100.2 282.3 105.8 280.4 99.9 284.1 96.5 283.7 109.1 285.4 98.3 285.1 103 285.9 85.4 281.6 86.6 284.2 116.2 282.3 106.1 281.8 114.6 282.4 87.9 291.4 102.9 286.3 96.8 285.2 123.5 286.6 97 291.9 110.2 285.2 78.7 282.9 97.3 282.9 91.3 281 95.8 285 104.3 289.4 86.2 277.9 103.5 282.6 107.3 282.5 83.9 283.7 110.3 290.2 104.3 280.2 108.6 274.7 77.6 284.3 113.8 278.6 101.3 286.5 102 281.9 95 289.1 99.7 291.8 98.8 286.8 110.4 280.9 91.8 282.2 113.6 282 101.6 280.9 111.8 281.1 98.7 284.3 110.4 287.9 84.7 285.6 103.5 285.3 80 278.1 113.8 281.9 88.5 283.6 112.6 278.3 84.6 289.5 90.5 284.2 81.9 285.5 96.2 283.7 86.3 284.5 95.5 279.6 121.3 287.7 102.7 291.8 105.5 287.1 83.3 282.8 78.2 283.9 102.4 283.3 112.4 285.5 77.5 278.2 93.4 286.1 87.3 289.8 94.4 288.1 92.7 283.5 91.5 292.9 117.4 283.4 101.1 287.1 93.9 290.9 91.3 282.9 92.5 280.9 93.9 282.6 84.7 284.7 105 286.9 118.6 276.5 108.9 283.7 104.7 280.5 94.2 283.3 94.5 287 84.7 278.5 98.1 287.6 93.1 290.8 102.7 284.4 119.2 283.3 103.4 281.3 111.3 291.1 117.8 285.2 107.4 284.8 109.8 287.6 87.4 286.7 71 286.8 100.7 289.5 92 283.9 115.5 290.9 107.8 286.5 94.9 288.4 103.5 281.6 93.6 288.6 109.2 283.5 88 277.4 99.6 282.2 119.4 284.8 79.6 288.2 104.1 283 90 280.5 97 282.7 97.8 281.3 103.3 282.9 113.5 282.8 115.2 294.6 85.7 293.9 88.4 282.8 107.1 276 81.4 283.3 121.9 282.3 86 284.1 109.1 283.9 69.2 284.8 127.9 283.1 101.7 286.4 90 285 84.9 286.5 95.2 287.9 96 278.5 95.3 284 92.9 281.8 76.6 285.5 103.3 292.8 105.5 280.4 98 276.8 112.8 282.9 119.6 286.4 94.8 289.4 118.1 284.8 88 284.6 121.3 287.7 114.9 283.2 93.7 282.8 92.4 288.3 97.8 288.2 106.8 272.7 94.6 285.6 104.2 284.5 110.6 283.6 94.7 279.1 89.6 284.6 112.4 281.3 84.3 294 99.1 283.4 107.5 287.6 113.3 283.2 96.4 280.2 101.7 294 77.9 287.2 113.8 283.2 78.9 286.7 80.8 279.7 100.3 279.7 100.2 286.5 109.4 283.1 85.1 288.5 116.9 281.3 99.9 284.4 96.3 281.8 95.4 284.5 126.2 289.6 110.3 289.2 90.2 286.9 89.4 275.6 99 283.9 75.6 287 105.1 286.1 99.6 289.8 99.2 287.7 79 287.5 110.7 286.9 119.5 285.7 96.2 277.7 120.5 286.3 101.9 283.5 112.4 290.1 98.4 284.6 113.1 290 106.4 276.2 119.5 284.1 93.9 283.9 88.3 280.1 69.9 286.4 101.8 284.1 92.1 283.8 80.3 286.7 83.8 283 118.4 282.9 94.2 279.1 96.4 287.4 96.2 280.6 98.8 287.9 109.1 287.5 73.6 286.5 83.7 285.1 98.4 287.7 121.3 289.8 105.2 280.7 123.7 276.5 104.7 277 108.6 281.6 94.1 281.2 114.4 294.6 86.2 282.4 100 284.8 96.1 279.3 108.5 285.6 99.1 282.2 104.8 281.7 102.1 291.1 105.4 284.5 108.3 285 92.4 283.7 109 289.1 98.1 285.7 92.1 282.6 105 280.5 119.7 287.9 102.1 283.9 92.8 284.5 94.9 285.8 111.7 292.1 84.1 290.7 91.9 280.2 85.1 282.3 70.7 282 108.3 285.1 112.5 284.1 94.2 286.5 86.4 285.3 88.8 286.9 95.3 282.1 90.4 286.3 74.1 286.5 94.2 282.5 79.8 282.2 94.7 282.9 102.6 280.1 100 289.4 82.1 282.3 89.9 291 107.3 280.2 72.5 283.5 111.7 284.3 107.1 279.7 93.6 285.8 116.7 285.6 71.8 287.8 84.6 280.4 100.2 291.6 87.7 286.5 122.3 289 105.4 287.4 90.6 285.3 85.2 292.4 99.2 285.4 104 288.8 82.3 290.6 97.7 285.7 98.2 285.3 114.2 286.7 91.2 284.9 106.9 283.4 111.5 284.3 93.4 290.5 101.8 285.9 92.3 284.3 98.6 285.5 70 277.1 108.1 289.4 78.7 283.1 97.6 286.2 101.4 287.4 118.3 287.6 101.9 284.1 99.2 282.5 111.6 290.9 100.6 282.9 74.8 280.3 111.4 286 125.3 288.9 107.5 288.7 89.7 281.7 96.7 282.9 120.8 289.1 116.5 285.5 99.4 278.5 96.9 286.8 127.3 292.8 103.2 285 93.9 283.1 82.8 279 104.8 277 97.7 291 109.3 283.9 104.7 284.9 98.6 286.6 119.4 281.9 97.4 285.9 95.3 283.4 101.7 286.2 114.2 286.4 72.1 280.1 96 289.3 87 283.6 94 285.5 91.2 288.7 118.9 288 95.4 284.3 104.6 286.9 107.3 287.2 99.8 281.1 83.8 290.3 88.6 286.9 109.5 280.8 115.3 285.1 99.5 284.1 95.3 281.5 84.2 287.4 95.1 292.9 86.2 288.2 88.7 284 103.5 287.3 111.1 282.3 106.9 289.9 93.1 287.3 91.8 284.8 106.6 287.3 117.3 278.3 66.6 281.2 83.6 278.4 138.9 282.2 121.7 286.1 86 279 96.8 287.9 104.3 287 81.2 284.7 100.6 281 100.2 285.5 82.8 282.1 105 282.7 89.1 285.6 81.9 288.2 100.4 286.5 86.2 283.5 100.3 284.5 104.8 280.6 108.8 285.5 111.9 281.2 80.1 284.2 98.7 284.9 91.6 287.3 87.8 286.4 95.1 284.3 71.3 287.8 118.2 288.6 118.2 287.9 79.8 283.1 120.9 281.4 94.5 280.5 120.5 285.1 105.3 287.6 118.6 286.9 77.6 284.1 121.8 282.5 96.6 288.9 96.8 284.2 85.3 282.5 120.2 279.2 108.8 280.9 88.4 287.6 114.9 285.6 116.9 287.3 84.2 278.6 105.2 285.3 97.7 283.3 71.4 286.8 97.8 285.5 91.1 287.2 107 283.7 84.6 279.1 85.1 292.5 89.9 284.5 104.1 290.2 103.2 288.3 91.2 281 96.7 290 91.6 284.8 100 287.9 98.1 283.7 89.8 282.7 78.7 281.1 106.4 293 85.6 286.2 108.7 281.6 125.9 278.2 74.7 282.2 87.1 283.3 92.4 286.2 95.7 282.2 95.7 280.3 79.7 290.7 102.7 278.9 87.7 277.3 99.2 288.2 114.6 285.8 101.4 282.4 93.4 286.1 80.1 284.6 74.7 289 91.1 285.7 97.7 278.8 105.7 283.3 96.4 286.5 86.6 289.7 98.4 280.2 124.9 287.1 106.6 280.7 84.2 288.4 119.9 282.6 103.1 285.1 91.3 288 94.5 276.4 87.1 280 101.6 286.7 100.1 284.5 115.1 282.6 98.4 276.6 79.1 281 122.9 284.6 105.1 284.1 111.4 287.1 116.7 290.6 109.2 286.4 96.9 283 93.2 282.1 106.8 285.3 91.4 287.4 96 285.7 98 283.9 106.1 291.3 95.9 279.7 102.5 283.8 114.3 286.5 99.6 279.6 106.7 291 100.8 281.7 101.6 288.8 91.5 284.3 99.2 280.7 101.9 287.5 78 280.4 109 283.8 95 286 98.9 280.3 97.6 287.8 99.5 288.3 80.5 286.6 105.2 280 87.8 290.3 104.1 285 93.9 279.6 108.8 285.2 103 283.3 128.4 286.4 108.9 282.1 91.5 283 114 280.7 118.9 283.1 85.5 291.4 87.8 288.5 71.2 278.1 89.6 285.4 104.5 285.5 98.4 280 73.2 281.9 85.9 289.2 106.2 291.6 107.8 290 115.2 284.9 104.1 287.5 88.8 284.5 101.3 284.8 104.2 283.7 76.6 290.4 94.7 285.2 117.1 281.2 78.6 283.8 87.7 283.6 98.3 286.1 104.7 292.1 126.6 287.9 122.4 280.9 90.6 284.7 93.1 283.9 85.5 280.8 95.6 279.9 95.2 282 110.4 281.5 101.6 282 97 283.1 92 283.8 97.4 285.3 106.9 285.6 87.8 282.7 78.3 281.7 97.2 288.6 107.5 289 86.9 286 87.8 285.1 109.4 284 110.2 273.5 100.2 284.6 100.9 286.8 88.1 288.7 85.6 284.9 102.7 284.9 109.3 285.2 115.8 280.8 110.3 280.2 99.9 282.1 89.2 288.8 95.4 284.8 105 280.9 91.5 283.5 105.5 291.8 106.4 287.2 82.9 282.9 86.3 288.7 104.1 288.4 93.5 286.9 122.5 290.1 112.9 285.8 116.4 286.5 118.4 282.9 90.2 282.9 114.6 281.5 117.4 285.2 96.8 285.8 95.2 287.3 92.8 279.4 96.1 289.9 65.4 288.4 123 280.5 106.4 292.5 98.5 283.7 103.5 291.9 91.4 285.2 87.4 278.5 103.4 284.1 95 281 86.1 285 87 292.1 75.7 281.8 97.5 282.6 93.3 282.5 115.5 283.3 116 285.6 95.1 279 113.4 286.9 102.5 282.8 117.1 279.5 99.5 283.5 91.5 286.2 104.6 286.2 105.2 295.4 92 290.6 92.6 289.4 74.5 283.7 102.1 282.5 78.5 286.7 106 283.7 104.9 282.5 106.8 283.4 96.5 282.4 126.1 286.2 112.5 283.1 81.4 284.1 110.5 282.4 99 278.7 101.2 284.9 115.9 284.3 106.1 286.7 112.4 281.2 78 285.6 99.7 283.5 101.5 287.3 100.9 278.6 87.4 277.5 112.4 281.2 96.8 286.7 85.1 285 96.3 285.5 110.3 279.3 61.2 287.2 113.2 283.5 102.2 280.2 98 284.1 95.5 284.9 110.2 279.7 107.3 281.9 107.1 283.1 98.9 285.8 110.8 287 117 281.9 86.5 285.3 92.3 279.9 114.7 287.6 104.8 286.3 98.9 290.3 90 285.9 78.5 285.6 126.3 284.4 99.1 283.7 116.3 284.1 107.8 285.6 87.7 296.5 105.1 286.4 118.1 289.5 122.9 285.9 102.8 289.7 94.2 281.8 94.2 284.9 89.9 287.2 116.9 282.7 94.7 286.6 99.8 287.3 91.3 287.4 98.5 282.7 85 286.9 103.4 280.2 95.3 285.9 100.3 287.6 107.5 288.1 103.3 285.2 91.6 281.2 96.4 289 101.4 285.5 106.2 285.9 86.1 287.4 98.6 279.9 109.1 278.2 84.6 283.8 107.7 286.8 86.9 283.9 94.9 285.7 90.6 279 88.9 292 114.3 291.2 118.6 287 103.3 281.7 98.1 281.8 83.2 290.2 102.5 275.8 96 285.1 84.7 286.6 95.9 289.3 87.7 281.7 85.2 286.9 100.9 289.3 100.8 282.5 100.6 293.5 80.5 280.6 78.9 287.7 95.2 283.2 88.2 288.7 108.7 280.4 95.8 285.1 72.1 280.5 92.5 282.6 111.3 287.5 92.9 279.9 97.4 284.9 100.4 286.1 105.7 288.2 105.3 288.4 91 291.6 103.8 288.3 82.8 284.4 83.3 283.8 100.9 292.5 79.4 285.8 95.1 289.2 111 294.6 110.3 291.7 98 287.5 94.7 284.2 127.7 281.6 106.2 278.1 111.8 279 113 287.1 124.1 287.8 80.2 285.7 126.2 283.1 108.8 289.2 103.9 281.7 98.1 291 96.7 281.9 100.8 283.5 97.4 288.7 120.8 289.7 87.7 278.3 112.9 283.9 120.3 292.5 84.8 277 92.4 285.1 98.4 286.7 105.7 288.7 88.9 280.3 107.2 284.7 91.5 293.1 101.4 281.9 83 287.3 93.6 283.1 110.1 284.1 120.1 290.1 99.3 288 100.3 282.2 109.1 279.3 101.1 287.6 109 283.2 102.4 284.6 78.8 284.7 96.5 282.3 105.3 279.4 97.8 285.4 112 279.6 115.7 287.1 112.5 284.8 106.2 283.1 106.2 285.2 125.2 284 108 280.7 107.1 283.6 95.7 282.4 109 283.9 104.7 286.6 100.6 281.7 77.7 286.1 98.3 281.4 89.7 283.9 100.3 285 77 286.3 88.9 281.9 115.3 286.7 103.6 282.3 101.6 284.9 117.6 281.5 87.9 288.5 93.9 278.6 109.3 283.7 89.8 283.4 90.3 285.4 92.6 286.8 109.7 287.5 100.8 285.5 87.2 286.3 84 289.7 87.7 277.5 71.8 279.4 106.4 283.1 84.8 288.2 100.1 284.9 106 282.7 92.4 287.1 95.3 283.4 96.5 286.1 110.9 291.5 96.2 282.3 77.8 290.3 104.5 284.4 107.8 284.4 119.5 282.5 109.5 285 103 288.1 97.8 282.2 92.7 286.9 96.8 285.3 115.7 283.2 93.5 285.8 99.6 286.5 102.7 280.7 109.3 285.6 108.3 288.1 107.1 284.6 93.4 278.4 96.1 286.6 97.2 289.4 102.6 284.7 72 279.4 91.9 283.4 112.8 288.4 113.2 286.9 86.9 287.1 108.3 283.7 82.7 280.7 108.8 282.8 96.6 288.4 107.5 284.6 104.1 284.5 108.5 280.6 105.6 283.9 89.7 282 77.8 284.9 118.7 288.9 83.7 278.7 86 285.3 89.1 279.3 93.8 283.6 119.6 280.7 101 278.8 95.8 289 92.9 286.1 109 279.7 87.1 283.7 96.1 285.1 102.5 293.2 94.2 279.5 111.8 279.9 90.5 280 92.8 285.7 97.1 278.8 122.2 282.2 95.4 286.2 113.2 289.7 114.2 285.6 95 281.9 107.4 285.3 87.2 283.5 82.6 282.6 106.4 286 105.1 281.6 110.1 279.4 99.2 283.2 84.1 283.4 91.9 289.6 92.9 291.1 107.3 277.5 102.4 284.6 107.5 288.1 96.3 284.6 111 287.6 104.4 277.6 117.7 289.7 101.9 284.5 78 285.4 94.2 283.8 111.5 287.2 106.1 282.6 90.9 289.2 107.2 286.5 86 287.5 92.8 284.4 74.1 284.3 84.9 287.8 88.7 289.8 101.5 279.8 97 285.1 89.3 284.4 83.4 288.9 107.4 282.5 105 286.8 100.9 284 104 288.9 90.4 283.3 94.5 283.4 90.9 287.2 117.2 282.2 104.6 282.2 107.6 289.9 93.2 283.4 99.7 288.7 108.2 284.2 103.5 280.4 87.5 288.4 117.8 287.1 103.7 284.4 74.8 283.1 97.6 282.7 106.4 287.2 96.7 282.2 76 277.7 89.8 283.5 104 283.4 96.3 289.3 94.7 285.8 103.6 286.3 105.3 286.9 135.1 285.9 125.6 288.6 113.4 284.3 91.9 285.9 87.8 283.1 104.4 282.2 109.6 286.4 94.3 285.6 85.3 286.9 97.5 282.5 98.1 288.3 90.7 288.2 98.7 283.4 106.4 282.6 98 288.6 93.3 283.6 107.9 283.4 93 281.8 79.6 284.5 103.8 286.5 84.7 283.4 112.1 282.1 89.6 290.6 90.2 284.2 108.9 286.2 90.6 285.7 119.3 289 90.3 285.8 100 281.5 109.2 287 105 286.3 89.3 281 94.3 289.1 93.2 290.4 85.9 283.4 77.8 282.3 98.2 286.4 100.7 289.4 84.9 286 106.1 285.4 117.8 291.1 89.2 286.8 93.3 283.6 98.6 284.4 73.9 286.8 96.2 280.8 84.6 283.9 112.6 283.7 109.9 287.8 90.9 287.9 94.4 279.3 92.5 283.7 117.2 288.2 85.6 281.6 129.2 285.7 103.6 281.6 96 280.4 94.7 283.7 111.8 286.5 91.2 280.7 130 285.1 88.9 283.9 88.2 284.2 107.5 288.3 80 280 118.5 282.8 111.2 281.8 115.6 284.1 109.7 281.8 106.7 285.9 99.2 284.7 104 281.9 111.2 286.1 111.7 284.8 105.5 289.9 101.4 274.7 93.7 287.1 108.6 286.3 92.1 281.7 108.3 277.3 77.7 282.6 106 284.4 127.4 285.9 112.9 286.7 91 290.3 94.2 280.9 107 282.5 97.7 287 91.8 292.1 103 279 88.2 288.5 101.3 288.7 89.5 286.6 93.4 284.5 82.4 286.6 112.2 282.2 90.5 273.2 85.8 283.2 91.5 286 91.4 283.4 98.3 288.5 105.2 279.6 73.2 283.4 117.2 281.2 111.4 284.6 99.1 279.4 104.6 278.2 81.5 280.8 88.8 282.8 90.7 285.2 84.4 283.3 84.2 286.4 79.4 281.5 115.2 285.9 81.4 282.1 109 285.3 97.5 285.1 71 283.2 74.3 287.7 93.7 283.3 92.1 284.2 85.9 285.5 105.8 280.5 71.7 282.9 103.4 292.4 89.8 287.4 100.5 280.8 95.6 289.3 80.6 287.7 116 280.3 86.3 284.9 107.5 288.6 104.6 283.9 95.2 282.7 117.8 282.3 98.1 282.9 82.2 280.2 90.9 280.7 90.4 287.2 110.6 280.7 101.5 289.2 81.8 285.5 76.8 287.8 107.8 282.8 101.1 281.5 87.6 282.6 113.8 278.8 99 277.1 77.6 281.6 95.8 281.8 82.2 286.9 118.9 285.3 96.9 285.6 109 276.4 103.5 281.5 82.3 284.5 108.7 281.7 82.3 285 102.5 284.5 90.3 285.1 96.7 283.7 88.5 283.8 115.2 283.8 90.2 283.3 93 291.2 112.6 284.1 97.2 280.4 89.5 285.3 85.3 285.2 93.8 287.9 113.3 290.2 119.9 281.5 99.4 285.5 87.6 281.3 100.3 281.6 94.5 275.2 121.3 281.1 110.2 284.2 102.1 286 120.9 285.2 97.3 291.8 110.6 281.2 96.7 284.3 119.3 285 103.9 282.1 84.3 280.3 133.3 288.5 120.2 286.4 109.3 287.5 100.1 282.2 79.7 289 97.2 286.9 101.1 281 97.3 282.4 101.5 292.6 111.8 277.4 103.2 285 105.6 285.6 74.5 279.6 57.2 285.2 75.3 286.4 60.6 290.9 74.5 283.3 76.4 286.6 70.9 286.8 67 287.7 79.5 284.7 83.3 289 62.2 290.5 75 283.2 80.7 283.8 76.8 287.5 67 289.6 66.8 285.1 57.5 287.1 72.8 280.9 63.9 281.3 75.9 282 76 291.6 73.9 282.8 81.7 285.6 70.1 287.4 87.7 288.1 76.9 285 64.1 285.9 63.2 279.7 79.3 285.1 75.2 281.5 56.9 282.9 74.6 284.9 86.6 280.2 74.6 282 63.6 285.6 78.7 287.5 79.8 286.7 65.9 288.1 76.1 283.2 59.5 287.8 87.1 285 74.3 285.9 57.6 284.5 67.5 284.2 66.8 284.4 62.2 286.3 81.7 287.6 77.6 283.5 74.9 287.9 79.9 282.2 65.3 285.9 67.5 287.2 79.7 287.6 77.4 285.9 74 284.9 70.1 285.9 74 280.2 66 286.6 61.9 284.1 76.3 283.6 82.8 284.5 68.8 286.6 79.6 283.3 72.6 285.1 65.7 280.2 79.5 280.5 69.3 284.3 68.8 286.8 71.8 282.7 68.8 285.2 60.4 282.5 65.6 291 64.7 283.6 73.6 284.4 77.3 290.9 83.7 288.8 75.3 285 60.5 287.5 61.8 284.7 71.1 288.9 82.8 281.4 66.7 281.7 73.1 284.2 67.2 283.2 74.7 280.9 68.9 284.2 77.5 285.5 71.5 287.8 78.5 291.4 65.6 284 76.7 278.1 73.9 285.7 75.9 280.6 70 282.7 77.5 282.2 75.3 281.7 71.5 285.8 79.2 288.6 67.4 288.1 85.4 285.6 59.3 288.9 73.3 289.5 78.5 288.4 70.6 281.9 76.9 286.5 69 281 78.5 288.3 79.4 280.8 61.4 286.8 58.5 287.4 72.3 288.3 62.4 290.2 73.6 282.5 76.5 278.3 59.6 285 73.5 288.6 69.1 283.3 75.4 286.7 64.6 287.8 74.6 289.2 70.5 280.1 56.7 286.4 65.2 288.3 80.3 283.9 74 293 75.7 289.2 76.5 285.3 70.1 290 61.5 285.6 76 287.1 63.8 283.6 57.4 285.3 73.2 281.2 79.3 281 71.7 285.4 64.4 282.6 55.8 283.4 75.2 288.4 81.2 292.1 66.6 286.8 74.2 286.8 61 283.5 64.7 289.7 75.4 278.5 73.6 280.2 65.3 283.2 64.5 289.9 72.2 285.7 72.1 286.5 69 285.3 71.4 286.2 80.2 282.6 68 287.9 73.9 283.4 76 286.7 59.9 280.2 65.5 290.4 70.2 291 64.1 286.7 79.2 283.1 79.3 289.2 79.6 288.4 69 287.1 60.5 288.6 76.2 289.3 66.1 286 57 282.6 67.7 284.8 83.9 281.1 70.2 280.8 68.7 287.8 77.6 287.6 72.5 285.3 68.3 289.3 76.1 283.9 59.6 287.9 63 289.2 83.4 281.6 79 288.8 56.2 287 58.1 287.1 72.3 287.7 76.5 281 64.5 282.2 73.9 284.1 58.3 284.4 83.9 283.3 87.9 285.7 77.9 286.4 62.4 278.8 68 289.4 66.6 291.5 70.9 288.6 75.1 282.1 69.2 285.7 78.7 287.9 86 284.5 78.8 281.3 65 291.6 76.3 280 58.5 287.4 67.1 283.7 81.6 285.2 83.7 284.7 63 289.3 67.5 283.1 67.3 284.5 76.7 285.9 71.9 283.8 69.9 279.2 65.9 283.7 63.7 291.6 77.8 286.8 62.1 288 66.8 285.7 79.4 291.3 77.3 281.5 72.4 289.2 80.4 288.5 59.9 288.5 77.1 283.7 74.9 287.9 84.2 286.1 71.1 286.4 62.1 288.2 74.3 282.9 59.9 285.1 66.9 283.1 63.8 286.9 80.2 290.5 77.6 289.8 63.2 283.5 72.8 287.2 69.2 289 62.8 282.9 78.9 289.1 72.1 286.9 84.6 287.5 73.9 280.6 70.4 287.5 68.2 290 62.7 282.6 65.4 285.1 66.4 282.9 73 283.5 76.6 279.4 76 285.9 64.9 283.8 74.8 288.5 76.9 288.5 77.8 282.4 63 286.3 66.3 287.3 65.5 288.7 80.7 290.4 66.8 280.8 82.8 283.8 63.5 285.2 72.8 287.7 77.9 281 73.5 283.1 83.2 287.5 72.4 282.6 76.9 278.7 78 288.6 84.8 287.1 65.8 289.4 60.3 286.3 74.2 282 69.4 281.7 70.8 286.3 73.6 280.3 72.5 287 65 292.7 73.5 287.1 75.6 283.9 75.1 284.6 74 288.2 59.6 284.1 75.7 286.7 63.5 291 66.8 282.6 84 284.4 75.8 288.1 75.7 278.6 75.2 286.5 70.2 284.8 81.8 281.8 69.9 282.9 69.9 286.6 80 281.3 68 286.1 74.4 283.8 78.5 288.2 66.9 289.6 85.6 282.5 80.1 285.3 73.4 290.6 80 284.9 69.9 286.4 54.7 284.3 50.7 287.3 44.7 287.7 43.4 287.8 46.7 288.1 40.5 285 39.2 288.6 48 286.3 34.1 287.5" marker-start="url(#bcr)" marker-mid="url(#bcr)" marker-end="url(#bcr)"/>
<path class="p" d="M107.5 301.5 117.7 314.2 115.9 323.5 128.2 295.7 140 309.6 113.7 312.6 112 321 136.8 296.2 126.3 311.5 127.1 307.8 119.9 323.1 136.2 295.2 126.1 310.2 128.2 307.3 109.3 299.6 121.8 316.5 125.6 317.3 118.3 303.4 126.7 295.7 117.2 302.5 118.4 310.7 114.3 307.8 125.4 321.4 113.2 324.8 107.6 323.1 127.2 325.3 123.8 307.5 118 322.6 120.9 311.7 111.1 310.6 113 324 128.3 312.4 122.8 318.4 119.9 319.5 130.9 298 120.8 315.4 130 313.5 98.3 318.7 141.2 304.4 130.4 311.3 114.6 318 124.4 303.9 108.9 290.5 121.6 318.3 116.3 316 125.4 310.6 123.8 305.6 121 310.7 119.2 314.6 109.3 309.1 116.3 312.5 118.4 303.1 127.2 307.7 121.6 298 134.9 328.6 115.7 297.5 104.5 313.6 118.8 297.2 110.2 308.1 136.6 284.9 116.8 298.1 116.6 320 137.7 310.1 125.8 311.9 109.5 309.9 134.1 306.9 128.4 301.9 117.6 321.7 124.8 306.1 106.6 311.2 124.3 309.8 105 317.3 124.9 307.1 119.2 315.3 124.5 301 123.2 311.2 120.1 298.5 124.9 313.1 116.6 311.2 128.2 304.5 121.2 311.7 115.4 308.4 124.2 295.4 110.6 308.4 118.8 309.3 120.9 299.3 129.2 313.1 122.6 313.9 107.7 312.9 126.1 305.5 131.6 299.6 111.9 322.9 117.8 312 131.2 298.1 120.4 306.3 108.1 306.6 128.2 308.4 123.2 305 119.7 319.2 114.5 308 113.6 312.6 113.7 316.8 121.1 319.4 122.6 305 126.8 302.6 111.6 296.1 119 308 100.2 320.1 116.5 316.9 121.8 320.6 102.2 311.3 124.5 316.4 126.2 311.9 120.5 319.4 124.7 321.6 121.8 311.3 124 299.6 128.9 298.3 131.4 307.5 119.7 303.8 133.2 309.8 116.4 322.4 128.3 299 129.1 302.5 121.8 312.8 127.9 319.9 137.5 315.2 127.3 292.1 124.7 305.4 120.1 328.6 121.7 310.6 130.6 331 127.5 304.8 125.6 301.8 127 300.9 119.9 302.4 134.1 299.6 125.7 314.5 107.9 313 125.1 312.3 131.1 313.8 132.2 303.4 126.5 304.5 121.6 318.7 124.4 323.9 133.7 313.5 110.7 306.2 123.7 325.8 132.2 303.8 125.3 301.3 127.7 331.1 142.6 308.4 109.9 316 116.5 310.4 129.5 293.2 128.3 301.9 109.1 312.9 126.2 295 107.8 314.3 108.8 315.9 128.6 303.7 115.4 315.6 122 319.6 129.3 300.7 116.8 310.8 127.8 311.9 116.1 316.1 106.7 317.8 123.7 298 112.2 302.4 112 302.1 121.2 323.6 114.6 309.2 108.6 318.5 110.4 306.8 112.9 317.3 109.9 324 109 304.8 117.7 319.3 124.2 295.1 129.4 303.7 114.6 296.4 116.7 323 108.6 299.5 120.2 315.8 110.2 309.9 123 307.1 105.9 310 129.3 308.9 123.3 308.9 120.7 307.7 115.6 321.3 121.2 303 117.8 312.3 119.4 313.6 108.7 313.2 128.3 310.5 125.5 313.9 128.6 307.1 114 331.8 119.7 311.5 114.2 321.7 124.6 312.1 122 303 131.7 303.9 123 312.2 120.8 298.1 108.3 318.9 128.4 317.6 117.4 306 113 305.8 128.3 314.7 127.7 293 119.9 314.8 128.1 315.6 116.3 303.3 109.5 309.8 127.8 305.9 128.8 294.9 124.4 318.1 118.4 301 122.6 298.7 111.5 321.3 107.6 306.4 132.7 307.3 118.7 296.3 112.5 303.6 123.2 310.1 120.8 323.2 105.4 301.7 114.4 311.9 118.4 320.5 121.3 317 129.8 322.1 113.3 304.5 121.8 305.8 129.4 302.2 124.8 309.4 116.3 306.6 126.3 306.7 118.3 321.6 131 313.2 132.6 302.9 135 305.8 115.5 303.5 116.5 305.9 136.6 291.2 123.6 300.7 123.3 308.2 126 303.9 140.8 309.1 128.8 309.1 117.8 312.8 111.9 326.4 113.8 321.3 120.5 314.5 126.7 318.5 138 302.3 118 310.6 115.3 321.5 109.6 310.2 134.3 304.2 113.6 318.9 129.5 321.1 117.5 313.3 138 301.2 119.5 314 111.7 303.8 136.4 305.7 105.4 301.6 131.1 306.3 112.4 322.1 122.5 318.3 118.4 311.4 130 323.3 121.7 327.2 109.5 312.3 117 319.6 123.9 304.2 131.6 308.5 113.5 315.6 122.4 307.9 116.6 325.9 131.1 304.3 109.7 306.1 127.3 318.8 119.8 318.9 120.8 306.8 112.9 318 127.7 313.6 130.9 309.3 119.9 310.7 130.2 299.4 116.1 314.3 123.9 307.1 110 303.5 127.3 307.3 113.9 306.4 125.7 315 112.1 307.5 143.5 300.8 128.5 310.8 121.8 302.8 135.9 304.4 111.5 322.2 113.8 312.1 121.5 308.5 122.9 314.8 115.9 317.3 120.3 306.6 123.9 302.4 138 301.1 114.2 300.1 133.2 319.8 125 298.2 129.3 310.1 121.4 318 131.6 302.5 124.3 307.3 111.3 312.3 129.6 295.9 114.2 284.2 124.7 309.5 126 313.7 109.8 312.7 112.9 319.7 116.9 304.8 133 298.2 118.2 317.1 105.1 326.7 128 321 129.1 299.5 117.1 312.3 109.3 310.6 122.6 310.2 137.3 316.9 139.7 306.6 118.8 318.1 118.6 304.4 125.1 294.5 106.9 306.8 91.9 317 131.4 306 122 295.6 134.8 303.2 129.9 299.3 133 315.5 110.2 310.4 111.5 311.2 111.4 310 118.9 321.1 126.9 308.4 122.2 303.5 127.9 300.2 123.1 308.4 118.2 297.8 121.7 307.3 129.6 291.3 122 300.3 122.9 312.3 118.2 306.6 120.5 300.5 125.3 312.6 106.3 312.5 128.6 319.1 119.1 311 127.2 307.1 118.9 301 134.1 315 122.5 307.6 113.5 329.2 138.6 304.4 119.5 312.8 111.8 312.4 123.9 315.5 128.1 304 108.5 313 124.5 305.5 134.3 307.4 118.5 317.6 119.2 319.1 118.3 300.8 120.5 316.5 132.5 306.2 119.3 299 119.1 303.5 123.6 317.8 117.5 321.7 130.8 300 119.4 314.4 133.4 292.5 130.8 310.3 113.7 311 124.6 314.1 118.7 304 111 309.2 139.8 292 129.8 313.8 112.6 308.1 137.1 299.7 120.2 296.7 123.9 320.5 130.3 307 109.6 315.6 101.3 317 120.1 295.2 113.3 311.1 106.1 314 112.8 311.1 106.4 316.4 128 320.5 127.9 308.3 124 296.2 120.8 302.2 115.2 297.7 131.9 306.3 123.6 303.1 121 305.2 118.6 316.9 118.8 312.2 110.2 326.2 124.5 302.9 132.8 323.9 136.2 311.7 107.7 316.7 133.7 300.4 126.1 306.4 120.6 314.2 126.6 301.7 122.3 316.4 131.4 301.7 127.3 295.2 118.1 309.1 115 311.4 122.3 313.6 124.8 308.7 124.1 305.7 130.5 322.4 108.5 309.8 120 306.8 119.9 311 137.2 306.6 128.3 313.4 128.6 309.8 116.1 304 116.3 318.7 132 301.1 126.5 315.7 120.3 316.2 102.7 319.6 117 315.4 123.7 306.4 117.8 314.7 124.6 317.7 133.9 314.9 119.3 323.6 113.9 333.8 117.4 307.1 121.5 309.6 124.9 312.9 134.6 330.3 129.1 301.2 112.6 310.7 120.7 309.6 136.8 305.8 132.1 306.4 117.6 324.9 116.1 321.2 122.7 299.9 119.1 310.4 121.6 311.9 138.1 316.1 124.5 311 115.8 313.6 127.2 307.2 124.5 324.7 131.5 304.9 124.3 304.1 145.2 308.6 122 305.2 112.1 318.9 116.8 310.8 129.5 317.5 130.1 318.6 124 297.2 128.3 316.5 114.3 324.6 121.9 308.7 126.1 309.3 115.6 312.7 131.1 313.8 126.9 315.7 127.1 325.8 111.2 310.6 117.7 316.3 122.2 314.3 96.8 309.9 127.3 326.6 117.6 318.6 128.3 305.3 111.6 300.5 112.9 305.4 105.4 314.9 129 310 131 302.3 120.7 304.4 116.8 299.5 123.2 317.8 130.8 305.5 120.9 307.5 111.2 299.6 134.6 308 115.5 310.9 119.1 322.5 131.6 307.8 120.6 300.5 116 315.1 137.1 312.2 120.2 305.2 114.4 306.5 118.2 311.9 115 314.3 126.9 315.7 121.8 308.1 129.9 307.1 129 301.6 119.2 309.8 106.1 324.2 104.9 303.5 119.8 308 121.4 297.4 131.6 313.1 119.6 311.9 123.3 299.6 130.6 309.9 120.2 301 121.4 308.7 128.3 316.9 120.6 305 110.6 310.5 123.1 311.7 113.6 309.9 132.1 295.4 111.5 313.4 119 307.4 123 297 123.2 316.2 105.4 315.6 120.2 305.1 127 317.3 110.9 299.1 107.1 325.2 109.4 297.9 124.2 304.2 119 309.1 121.9 305 115.5 309.5 126.7 308.2 117.3 308.7 132 315.5 115.4 327.3 133.2 312.8 116.6 311.9 128.6 312.8 118.8 314.8 116.8 314.5 113.2 315.4 116.9 319.5 138.4 306.6 130.9 316.2 107.7 315 110.1 319.4 131.4 292 119.7 324.8 120.3 295.3 103.1 304.4 125 305.4 122.6 297.2 122.6 309.1 128.5 315.3 118 311.6 112.2 320.6 127.1 300.7 107.9 318.8 123.4 298.7 135.2 317.3 115.2 323.4 109.3 329.3 117 329.6 144.1 296 118 303.7 110 305.4 121.4 284.6 123 304.5 121.9 307.5 111.1 324.7 121.5 321.1 120.3 313.9 137 317 122.8 325.2 117 317.1 114.3 309.8 120.5 305.7 119.7 317 110.8 321.1 115.4 308.5 127.3 310.9 115.3 322.8 136.3 322.4 128.6 313 113.9 314.7 114 306.5 129.1 305.4 105 321.5 128 306.4 122.8 309.2 117.5 318.8 118.3 299.5 111.7 315.3 123.2 313.7 137.6 312.8 127.8 310.1 120.7 313.6 116.8 309 121 319.8 136 306.6 136.8 295.9 125.9 316.4 118.5 309.6 119.8 309.3 124.4 296 123.1 308.7 125 309.8 118.8 321.6 113.6 312.3 115.6 311.1 119.1 296.5 119.1 304.1 130 316.6 121.7 317.4 131.8 314.3 116.2 312.9 120 292.2 121.7 328.7 120 309.1 137 306.2 137.5 309.5 120.4 310.8 115.1 305.5 119.8 313.5 113.5 299.6 122.5 309.9 128.3 311.7 119.9 320 125.2 306.8 120.6 312.5 136.5 306.4 122.8 311.2 119.7 317.4 119.2 300.7 129.3 316 114 312.4 125 312 128.6 313.7 130.6 303.4 111.4 309.9 119.3 307.5 124.2 300 137.1 310.3 132.5 317.4 121.3 301.4 116.9 305.4 114 294.3 132.2 305.9 134.9 306.9 126.8 308.7 111.7 306 123.8 302.4 133.2 309.6 128.4 298.9 113 330.5 112.4 306.9 129.2 304.4 114.9 313.3 121.6 316.3 132 309.8 123.3 308.4 118.9 307.6 117 305 139.9 315.4 114.7 305.1 124 303.8 114.1 326.9 114.6 309.6 116.6 312.6 115.5 304.8 114.8 314.6 140.2 293.2 143.4 292.9 131.7 305.7 130.6 301.5 133.8 285.5 122.4 307.5 131.8 297.7 144.7 304.7 134.3 299.9 136.5 293 134.1 298.2 141.2 289.5 139.5 297.6 133.1 308.7 121.5 296.5 141.6 307.1 145.6 294.6 138.7 299 120.9 304.3 159.2 301.5 153.7 308.1 139 295.5 141.5 311.2 138.3 293 140.7 297.7 138.6 297.7 149.4 296.9 135.9 294.9 144.5 299 127.6 302.8 140.9 289.3 143.1 289 130.4 305.5 141.9 300.6 134.2 296.5 140.8 307.9 144.2 307 136.6 308.8 143.4 293.9 121.7 298.3 137 314.4 131.6 303.5 120.6 301.7 261 347.5 276.5 358 88.5 324" marker-start="url(#bst)" marker-mid="url(#bst)" marker-end="url(#bst)"/>
<path class="p" d="M193.7 229.1 194.7 253.6 202.1 232.3 203.1 247.7 195.1 253.7 200.6 265.3 194.5 244.2 192.4 251 187 239.7 169.6 239.1 208.8 249.5 204.2 252.4 194.2 241.6 218.6 253.2 204.8 255.6 201.2 259.2 208.2 241.5 197 254.4 198.9 242.4 195 250.8 195.9 257.8 174.6 243.5 193.3 251.5 196.3 236.5 195.1 251.3 203.9 259.7 193 245.5 191.7 230.1 214.5 244.3 194.6 239.2 198 246.9 190.9 249 184.3 262.3 188.8 235.4 216.2 232.3 192.3 249.6 170.1 238 198.3 243.2 191.7 238.5 184.4 250.9 196.6 231.6 181.8 237.4 201 264 208.3 259 203.8 229.1 205.9 238.8 186.3 252 207.9 242 193.2 254.9 191 256 193.9 253.5 179.8 249.3 186.8 229.8 197 254.3 180.5 245.7 203 240.3 199.3 239.8 193.9 244.4 190.6 238.7 193.4 243.9 195.7 252.7 211.5 247.9 206.3 255.9 209.9 235 197.8 246.1 200.1 263 200.2 243.3 176.8 245.8 180.3 241.7 200.6 269.5 212.9 251.4 204.6 234.2 192.1 260.5 205.7 244.4 213.1 263.2 181 253.5 189.8 239.2 187.8 230.2 191.1 243.3 184.7 239.9 198.3 245.9 189.9 254.1 206.4 259.9 190.4 241 195.4 253.4 195 241.8 181.3 231.8 207.6 235.1 204.7 247.3 196.8 254.8 204.1 247.5 210.2 248.8 201.2 249.8 215.5 252.4 196.8 246 192.8 256.6 194.1 224.4 172.9 233.7 198.5 271 197.4 230.1 191.3 257.9 209.3 227.8 199.7 246.5 197.8 233 202.7 242.3 194.5 241.6 168.8 264.4 184.6 247 191.6 256.6 204.1 252.2 184.5 255.9 192.2 258.2 200 227.2 198.3 240.7 206.6 237.1 209.7 247.8 186.7 265 199.7 233.5 195.3 235.7 194.2 249.3 200.2 265.7 194.8 263.3 183 261.9 207.4 246.4 204.9 249.6 196.2 248.8 187.8 230.4 187.5 245.9 195.2 251.2 200.9 250.4 201.9 243 181.1 245.7 197.1 245.2 187.7 220 184.3 249.2 201.3 245.4 184.2 234.2 198.5 238.6 204.5 265 198.4 230.7 207 244.3 185 244.3 192.1 260.7 182.8 236.8 195.1 268.8 209.8 260.1 199.9 241.5 200.3 241.6 212 242.4 203.5 263.9 208.7 254.2 191.6 253.1 208 241.9 192.5 260 195.9 267.3 191.9 227.3 205.7 268.3 184.3 233.9 208.3 252.3 192.9 233.9 189.2 236.5 178.2 259.9 182.2 265 190.2 239.4 202.2 263.5 204.9 265.9 201.7 242.2 199.8 232.2 201.9 254.3 178.1 244.3 198.8 244.5 187.5 250.8 185.9 230.5 205.5 250.6 187.8 252.1 198.3 253.3 186.2 247.7 206 265.5 207.9 248.1 193.8 262.1 197.9 239 192.9 259.5 199.4 242.1 200.7 247.8 196.1 240 194.8 239.4 194.8 261.3 199.7 241.4 204 250.8 198.9 229.9 185.6 239.6 199.4 249.3 197.2 239.3 214.2 250.6 183.8 229.3 176.9 257.1 223 238 194.5 241.4 207.6 246.1 196.7 256.6 196.6 243.2 215.9 235.6 183.5 246 198.1 232.1 200 247 191.5 261.5 199.7 251.1 197.6 255.5 195 223.3 196.1 246.6 188.4 229.3 193 246.8 192.5 229.1 185.6 251.1 202 249 208.1 254.9 199.6 246.8 202.1 242.1 186.9 263.7 188.1 241.3 193.6 267.7 203.3 246.6 214.6 248.5 198.8 243.2 198.4 241.5 196.5 240.5 203.5 265.3 199.9 248.6 169.8 234 198.8 234.6 190.6 254.5 189.3 251.8 189.7 257.9 197.6 235 211.4 256 196.8 254.8 201.2 259.2 204.5 224.2 195.5 254.9 186 234.5 196.2 254.4 208.9 231 208.7 240.7 195.7 248.1 192.3 243.6 202.8 257.7 203.5 242.8 200.4 233.1 187 239.9 199.9 227.5 200.3 235.8 201.1 243.8 201 240.3 199 237.3 203.1 263.5 205.4 252 195.7 247.1 206 268.1 188.5 243 192.4 244.2 207.5 262.9 195.9 238 200.6 246.8 183.5 236.8 205.1 242.6 204.9 254.6 226.8 243 199.6 244.2 185.3 235.5 201.7 252.9 200.2 236.9 190.9 255.2 188.3 253.6 192 267.9 192.3 228.2 194.9 238.2 197.8 253.2 196.6 252.9 186.7 237.9 197.5 245.3 195 248.1 201.6 241 197.7 234.8 212.6 241.6 196 263.6 197.7 243.1 191.9 248.5 208.7 254.5 192.2 256.5 195.5 235.3 191.1 250.8 205 255.3 190.6 244.2 199.3 240.3 190.9 252.2 197.4 235.6 195.8 246.8 194.2 236.1 194.9 232.3 197.9 249.1 215.2 244.8 186.7 248.9 205.3 259.5 200.1 245.5 201.8 236.8 196.3 231.3 189.6 240.8 198.2 243.2 185.2 252.2 196.7 258.7 196.6 245.2 195.5 241 193.8 251.1 202.9 269.6 206.6 240.9 194.8 230.8 211.5 230.4 201.1 231.5 206.5 233.2 204.8 249.8 208.1 250.9 205.8 265.8 213.9 259.2 207.3 240.7 186.1 244.6 206.3 251.2 204.4 240.6 191.4 245.8 192.4 239 200.6 247.7 196.2 242.1 204.7 248.8 211.8 238 204.8 246.5 200 238.4 206.8 255.6 197.3 234 218.8 233.8 200.6 235.5 213.8 233.7 182.2 257.1 198.1 230 199.9 233 206.5 241.8 191.9 247.2 202.8 245.5 205.9 240.2 193.2 255.3 190.9 247.6 221.6 234.6 213.3 261.6 185.8 248.3 210.7 266.7 209.8 259 204.2 256.8 199 254.8 201.1 248.5 188.2 236.9 216.1 248.3 199 226.4 184.3 254.6 196.5 238.7 215.2 246.1 188.1 242.2 174.9 246.9 200.4 252.6 203.9 252 185.8 238 181.8 248.3 206.4 274.9 199.6 245.4 209.3 250 199.7 250.1 190.3 250.8 209.2 244.5 216.5 242.9 187.2 252.1 197.2 246.8 186.9 232.9 213.5 244.5 204.8 236.1 201.4 261.2 198.7 247.2 204.2 241.9 213.1 246.9 185.3 216.6 193.3 222.4 188.8 254.4 214 230.3 196.9 258.2 195.3 244.8 192.4 260.9 217 251.8 208.6 239 183 236.9 202.5 240.4 192.4 263.6 195.2 250 192.5 245.5 185.6 232.9 203.9 256.5 193.1 240.9 197.6 246.9 198.5 245.1 207.7 239.4 184.7 259 200 236.7 207.7 247.2 203.6 218.5 186.6 241.1 199.4 242 193 246.2 179.4 245.8 183.8 238.3 193.9 240 198.3 257.8 194.8 263 182 246.5 182.2 248.6 190.7 244.9 207.7 215.7 188.7 231.7 180.5 246.6 214.2 234.5 174 245.4 188.5 227.8 180.4 243.8 208.1 246.2 191.8 249.8 205.5 236 199.4 236.5 176.8 248.4 201 247.9 189 232.8 193.8 257.5 203.3 239.8 208.6 239.1 192.2 243.8 179.8 237.5 198.6 254.4 188.9 274.2 198 248.4 200.1 260.7 201.4 247.2 208.6 254.4 190.6 234.5 197.1 248.7 204.7 231.3 194.2 248.3 195.6 242.9 183.6 253.7 196.4 240.9 211.2 242.1 212.4 256.3 207.1 242.3 191.6 257.7 201.7 247.9 193.4 242.8 192.7 240.9 174.1 249.9 219.6 266.5 202.5 237.9 201.1 246.9 199.5 251.4 195.8 246 201.1 256.4 196 252.8 192.2 259.3 205.8 228.8 212.4 257.2 186.9 244.1 196.8 244.4 183.1 228.1 205.6 254.1 198.4 247.8 184.5 251.3 189.3 257.3 196.9 242.3 197.9 262.2 176.2 240.4 201.1 232.6 192.5 251.2 180.5 243 193.6 244 195.3 240.5 194.7 238.2 186.8 249.2 181.5 263.4 208.7 258.2 181 250.1 186 261.7 199.6 248.9 197.8 245.4 191 244 201.7 257.6 194.5 238.5 209.7 247.9 205 235.1 208.3 246.9 204.5 248 199.3 249.1 179.5 243.1 186.9 243.4 205.3 247.6 199.9 234.2 205.2 257.7 199.6 248.8 193.6 231.9 195.3 250.6 197.9 233.1 190.3 250.9 190.5 248.4 186 244.9 200.2 261.5 187.4 249.6 179.7 246.8 204.6 236.7 185.5 258.4 201.9 253.4 190.6 239.4 204.3 235.6 184.3 246.9 200.3 239.8 214.7 248.6 210.6 222.4 191.9 251.8 188.2 237.9 202.8 254 197.1 225.3 182.2 238.9 193.3 253.1 209.7 232.1 191.2 248.9 203.1 253.6 189.3 252.4 198.5 248.6 203.6 251.7 202.3 258.7 207.9 237 195.8 247 196 255.7 187.9 264.9 210.6 258 208.6 247.9 190 246.9 208.4 245.3 196.5 252.6 189.4 249.4 195.7 245.9 202.4 249.3 197.2 236.5 205.8 258.2 204.6 241.2 199.7 228.9 194.1 256 184.3 255.1 193.6 241 175.9 239.4 190.5 247.3 195.4 253.9 194.5 248.1 186.7 246.5 200.2 262.8 208 232.5 186.6 250.7 209 251.5 188 258.2 189.7 246.1 190.8 253.8 195.7 245 189.4 241.2 194.9 258.4 209.2 234.7 188.7 251.6 207.6 246.5 187.9 229.4 183.2 245.5 195.5 243.3 197.4 235.6 204 245.5 173 230.6 174.2 251.7 200.2 248.9 202.6 228.3 212.2 256.8 216.4 249.3 200.3 247.4 210 243.2 184.7 258.4 201.6 245.7 192.7 232.7 201.2 234.7 205.6 231.8 202.1 242.2 197.6 239.4 208.9 248 209.7 236.1 193.3 240.3 193.3 246.5 204.3 255.8 199.6 249.3 205.8 264.9 197.9 264.5 194.5 268.3 205.3 258.6 196.3 249.8 183.5 234.5 212.1 242.2 199 255.2 212.5 255.3 190.1 244.9 204.5 255.9 189.9 237.8 204.9 245.5 191.4 241.3 213.6 245.5 200 251.5 201.9 264.9 212.6 235.5 211.6 244.9 181 241.6 193.7 243.4 197.6 249.5 198.7 248.6 211.1 234.6 184.3 251.8 203.1 235 199.1 248.3 193.2 248.4 192.5 246.3 195.3 263.9 200.4 224.5 205.1 221.6 199.9 245.2 182.5 255.2 187.7 225.3 188.1 266.5 192.4 256.3 205.2 242.7 197.5 232.9 191.4 243.6 208 258.4 205.9 246.9 191.4 242.2 208.2 254.4 195.6 253.2 191.2 228.8 195.2 250.8 195.5 260.1 200 245.3 203.4 237.2 205.9 245.2 194.1 253.6 196.5 255.7 203.5 260.6 199.2 252.8 195 263.9 200 239 197.8 244.6 216.8 253.8 182 268.8 193.7 246.7 210.9 257 200 264.7 201.7 244.8 198.6 245.6 192.2 239 199.8 233.5 192.2 240.2 215.5 235.7 212.8 228.3 189.2 241.3 207.1 258.2 193 249 198.3 225.3 206.6 256 188.6 263.8 188 228.4 210.7 243.4 193.6 241.8 186.7 266.8 189.8 251.5 201.1 254.1 193.7 246.5 199.1 246.9 193.9 243.5 181.1 244.4 195.7 253.6 189.4 222.1 206.7 233.4 174.3 242 207.4 240 193.9 250.6 187.2 255.8 195.9 241.6 195.7 250.4 188.6 241.2 197.3 243.7 192 235.2 197.3 252.2 210.3 274.6 197 242.9 191.3 239.9 178.1 259.3 186.3 256 200.1 257.8 192.4 260.4 205.2 233.8 203 244.1 206.9 256.1 199.3 253.6 212 250.9 198.2 235.5 188.7 240.3 200.7 243.6 202.6 247 200.1 238.6 208 248.1 210.3 236.9 189.5 251.3 196.5 242.7 179.7 246.5 187.7 253.3 206.5 260.3 191.7 241.5 192.8 263.4 216.1 237.5 176.8 248.5 197.7 225.6 218.6 251.1 209.5 261.3 209.4 252.2 200.3 255.4 207.6 242.5 192.2 255.1 204.6 236.2 209.9 251.3 187.7 246.5 213.9 244.3 195.5 243.6 204 263.7 207.3 238.1 204.5 251.4 190.2 242.1 196.9 242.7 216.1 256 206.1 257.3 194.8 219 186.3 240.4 199 235.5 192.2 245.8 198.7 235.9 208.5 244.4 207.8 250.1 186.8 244.7 186.7 245.5 192 255 203.4 242.1 220.8 239.5 181.6 251.9 200.6 245.1 197.1 254 199.8 248.8 195.2 248.7 186.5 242.1 209.8 261.4 190.1 249.9 204.2 251.1 203.2 240.4 195.1 242.6 192.9 250.3 193 255.3 194 243.4 206.5 242.3 190.5 248.9 189.4 243.4 192.1 242.7 207.8 251.4 213.6 253.5 196.4 234.1 189.9 254.7 179.9 240.6 188.2 230.8 199.9 240 186.9 254.9 199.5 257.5 197.4 230.8 196.7 252.9 199.3 233.5 190 248.5 181.3 258.8 205.4 259.3 191.3 230.2 207 250 187.1 244.4 186.9 253.7 184.7 256.2 200.1 247.3 196 235.6 194.9 259.2 204.3 229.9 185.2 251.8 208.8 253.4 193.2 256.8 192.4 244.2 219.3 239.2 179.8 253.6 214.4 256.2 210.2 245.8 199.3 236.6 202.9 235.9 195.5 231.8 199 240.4 199.4 256.1 192.5 264.8 217.5 245.8 207 252.8 196.1 245.8 220.1 234.1 177.8 244.7 196.5 240.5 199.6 252.8 193.1 239.1 183.6 245.9 195.6 251.1 186.7 260.7 215.2 256.9 201.9 234.9 194.8 255.2 197.3 245.2 190.3 244.5 190.5 256 212.1 235.8 199.8 270 205.9 253.9 202.9 245.7 191 239.5 194.7 244 191.9 239.8 178.5 252 210.6 239.5 201 248.7 196.4 225.8 210.4 236.5 198.9 258.9 212.7 246.7 195 267.2 205 259.2 197.7 270.8 189.5 262 205.5 250.2 196 260.9 196.9 260.7 190.6 250.3 197.2 247.4 204.6 240.4 189.4 237.2 206.8 250.9 205.4 258.7 193.3 251.6 217.2 259.3 209.8 248.1 191.1 254.4 198.7 247.6 210.7 255.1 197.9 237.4 198.9 248.8 194 247.4 201.8 246.3 208.9 241 182.6 257.1 205.2 241.6 195.9 228.9 180.7 257.5 197.1 240 200 244.5 202.3 241.7 206.7 224.5 209.4 241.4 188.4 231.5 180.5 249.9 197.8 254.5 189.8 251.3 188.1 262.1 198.7 253.6 187.8 228.1 189 242.1 208.6 242.5 213.4 245.4 197.3 257.3 191.5 241.7 207.7 268.1 185.5 236.1 192.7 258.9 211.1 244.7 210.8 247 193.2 244.3 212.8 247.1 200.6 249.8 195 267 192.3 237.5 193.1 264.6 202.3 250 205.8 239.2 176.6 241.8 202.7 262.3 196.7 228.5 226.3 238.2 195.8 245.3 190.9 225.4 199 249.3 185.9 237.3 180.3 221.2 200.5 240.7 187.2 236.4 185.7 242.4 198.4 261.8 209.7 261.9 193.9 254.1 196 264.4 197.6 241.1 186.7 246 188.3 252.9 200.7 239.8 209.5 236.2 195.9 252.2 203.6 252.8 197.6 255.1 195 264.6 193.5 259.4 210.9 234.9 203.4 229.2 208.7 230.9 178.8 261.6 207.6 251.8 205.6 245.7 207.8 237.2 197.8 254.3 193.3 257.8 219 269.2 206.9 238.8 203.2 238.9 198.8 237.8 179.6 237.4 200.7 264.2 206.3 255 196.4 244.4 189.1 248.1 193.2 245.9 177.4 251.5 196.5 250.6 209.5 263.7 205.3 236.3 198.2 242.7 187.3 240.8 202.3 233.2 195.4 253.9 195.8 258.1 201.2 245.5 191.9 257.6 205.8 249.5 191.6 251.3 203.1 248.8 183.9 228.4 196.2 238.4 179 256.6 187.3 263.6 215.7 259.8 207.2 231 182.3 237.3 198.7 238.6 204 240.3 185.3 234.2 202.9 260.1 198.7 228.3 207.2 244 195.4 245.9 200.3 246.1 198.8 243.1 193.7 248.7 210.6 227.5 185 240 193.3 243.6 193.7 244 218.3 235.4 208.4 256 190.1 237.2 206 249.7 207.2 243.1 193.6 267.6 192.3 242.4 203.1 249.6 194.5 269.4 221.7 237.3 198.7 228.7 208.4 250.3 212.5 245.1 201.3 251.4 185.6 236.1 194.5 251.4 181.3 271 189 281 169.2 272.3 177.4 269 174.3 269.2 179.4 274.2 183.9 268.4 181.6 276.3 181.9 268.4 167.4 273.6 192.3 275.6 177.8 272.9 175 273.2 168.6 275.5 185.1 265.9 180 267.2 174.3 276.7 170.1 282 184.2 275.2 173.5 265.2 180.5 265.4 180.5 268.9 180.9 273.6 193.1 271.4 184.8 266.3 184.1 282.5 178.6 265.6 179 263.8 171.9 275.8 181.8 273.2 162.7 274.3 177.4 283 186.4 269.9 168.3 274.6 170.6 266.7 189.4 282.4 177.5 271 166.1 275 179.8 268 173.1 271.7" marker-start="url(#bci)" marker-mid="url(#bci)" marker-end="url(#bci)"/>
<path class="p" d="M214.3 339.6 226.9 350.1 229.4 334.3 214.6 316.5 180.8 352 206 344.9 211.6 354.5 226.7 335.4 222.8 349.2 201.9 327 228.6 348.6 209.7 295.5 201.7 355.2 212.7 339 217.9 333.1 224.2 355.3 202 342.8 221.7 369.3 203.1 342.9 181.7 335.6 233.6 329.3 240.8 319.3 232.4 340.9 190.8 340.3 226.4 334.8 181.3 368 192.9 336.3 220.2 335.3 220.3 333.6 217.5 343 212.6 337 202.5 344.1 198.6 343.8 241.3 365.4 212.6 344.3 193.4 367 210.5 359.7 192.7 334.8 210.7 338.7 216.2 351.9 215.9 354.8 215.4 361.2 223.8 346 204.4 362.1 212.2 332.1 193.7 350.6 194.9 336.3 196.8 346.1 207.6 347 206.1 341.6 226.5 347.4 203 328.2 199 348.8 211.8 333.7 207 339.6 223.8 345.1 208.6 321 201.6 349.4 206.4 331.7 211.2 342.6 195.6 358.4 196.6 353.4 213.9 345 210.1 349.8 205.7 355.6 222 365.8 187.1 336.6 201.5 354.6 224.4 330.3 218.8 345.8 219.2 347.1 194 323.4 202.5 337.1 217.6 328.3 215.9 329.7 191.4 340.7 230.9 341.3 195.8 354.7 211 346.4 212.5 338.5 238.7 348.5 205.8 346 204.2 369.9 201.8 319.9 189.8 342.6 183.2 343.3 178.9 347.7 207.6 338.5 190.2 312.2 203.8 341.3 200.2 353.6 214.3 365.5 244.4 371.1 188.7 365.5 178.4 344.4 214.1 359.1 200.1 344.4 188.5 351.6 214.1 365.9 193.3 349.6 208.3 333.2 185.9 359.3 196.6 337.2 190.6 359.5 218.6 364.5 195.6 320.2 204 352.9 195.7 341.5 215.1 314.4 187.3 339.1 228.3 331.2 204.7 342.1 235.9 342.1 195.6 326.3 209.9 352.6 218.6 361 202.7 350.9 217.5 341.8 208.5 356.1 233 347.9 197.4 322.4 222.1 348 203.4 359.7 205.3 339.8 221.6 356.9 194.2 355.3 189.9 336.2 219 341.7 216.9 361.7 180.3 359.1 228.4 352.3 212.9 362.9 203.1 352.1 195.3 358.3 202.2 345.3 211.3 334.2 201 340.7 197.7 350.6 222.3 344.9 199.8 353 220.7 353.3 203.9 374 200.7 335.2 204.6 340.8 208.7 338.6 205.4 327.5 217.7 342.9 212.3 346.5 241.4 349.6 208.7 344 216.1 365.1 214.1 347.7 216.9 359.4 192 336.1 215.9 338.6 197 335.7 207.2 360.3 193.4 340.1 211.9 331.5 207.5 332 243.1 349 198.8 338.8 182.4 331.3 225.7 340.5 198.2 359.4 186.8 344.9 220.9 347.1 231 324.8 205.7 339.8 204.2 353.7 235.6 353.9 206.4 355.1 239 330.1 225.6 330.2 209.3 339.3 229.3 341.9 187.4 310.4 199.5 335.3 192.8 339.2 220.3 329 229.8 326.8 185.3 351.9 192.3 325.4 207.5 325.1 209.7 338.1 204.4 364.9 223.8 321.9 214.5 374.8 237.7 340.8 220.4 345.8 223.3 315 202.1 332.4 211.8 345.2 208.7 341.7 189.5 332 218.7 346.8 211.7 356 235.3 345.5 225.4 341.4 203.8 349.4 207.8 339.3 224.4 359.4 203.7 350.8 192.6 330.8 229.2 338.8 206.3 362.5 211.6 348.6 207.6 332 207.1 333.7 197.7 341.9 226.6 336.7 188.9 346.3 242.3 354.7 219.1 341.6 217.6 351.3 190.7 324.7 235 321.4 193.7 342.5 205.8 347.3 211.7 346.4 206.2 347.6 210.7 351.7 218.1 356 228.1 349.4 223.9 332.6 201.3 323.8 179.9 340.7 215.7 325.8 222.1 333.3 219.8 344.5 193.9 321.3 211.8 328.6 183.6 347.5 192 362.1 206.9 327.7 222 353.5 197.4 337.7 224.9 348 205.9 355.3 207.2 346 183.1 341 206.8 342.8 213.3 317.9 196.8 346.2 214 331.1 212.9 331.6 196.6 344.9 199.7 339.5 203.6 353.6 225.4 344.3 208 330.9 218.2 346.1 219.8 329 213.5 345 182.5 355.2 208 340.4 207 358.9 208.4 350.1 207 350.9 230.3 346.5 222.1 372.1 213 338.7 207.7 335.2 218.8 341.3 182.7 324.5 196.1 353.1 197.2 347.4 222.9 363.6 207 356.2 185.6 342.8 231 324.3 186.7 314.5 205.6 334.5 218.3 347.8 189.7 355.1 212.3 336.4 204.7 337.4 193.5 372.2 212.8 320.5 224.4 322.2 203.9 354.1 208.6 349.3 232.4 338.3 209 337.5 232.9 312.4 198.1 345.6 191.9 339.3 223.8 355.6 226 338 210.1 321.4 207.1 339.4 198.7 341.5 209.7 357.2 205.2 344.5 222.6 335.4 207.4 343.9 220.8 295.7 216.5 352.1 212.5 366.8 219 360.9 195.8 327.6 194.1 347.7 212.6 364.1 222.7 346.8 194.7 328.3 186.4 343.3 191.6 327.3 228.6 343.4 217.9 332.4 226.6 340.2 197.1 335.1 217.5 368.7 217.8 346.3 197.8 348.5 230.6 347.5 215 352.5 215.2 320.3 214.8 347.8 235.6 347.3 199.9 328.8 224 368.4 222.4 350 199.8 349.2 190.7 330.9 209.7 328.1 212.4 340.4 180.9 322.8 211.6 346 220.7 355.3 208.7 318.6 208.4 345.3 201.5 364.1 193.6 334.5 197.3 331.5 198 335.6 209.6 323.4 222.3 331.6 198.6 349.4 204.4 350.1 194.9 340.7 222.8 358.3 226.7 329.4 231 330.2 230.2 339.9 211.3 341.2 219.3 331.1 201.7 329.9 193.3 330.3 211.3 329.9 219.3 372.5" marker-start="url(#bas)" marker-mid="url(#bas)" marker-end="url(#bas)"/>
<path d="M29.2 287.7v-1.2M35.6 287.7v-1.2M42.0 287.7v-1.2M48.4 287.7v-1.8M54.8 287.7v-1.2M61.2 287.7v-1.2M67.6 287.7v-1.2M74.0 287.7v-1.8M80.4 287.7v-1.2M86.8 287.7v-1.2M93.2 287.7v-1.2M99.6 287.7v-1.8M106.0 287.7v-1.2M112.4 287.7v-1.2M118.8 287.7v-1.2M131.6 287.7v-1.2M138.0 287.7v-1.2M144.4 287.7v-1.2M150.8 287.7v-1.8M157.2 287.7v-1.2M163.6 287.7v-1.2M170.0 287.7v-1.2M176.4 287.7v-1.8M182.8 287.7v-1.2M189.2 287.7v-1.2M195.6 287.7v-1.2M202.0 287.7v-1.8M208.4 287.7v-1.2M214.8 287.7v-1.2M221.2 287.7v-1.2M227.6 287.7v-1.8M234.0 287.7v-1.2M240.4 287.7v-1.2M246.8 287.7v-1.2M253.2 287.7v-1.8M259.6 287.7v-1.2M266.0 287.7v-1.2M125.8 368.2h1.2M125.8 362.9h1.2M125.8 357.5h1.2M125.8 352.2h1.8M125.8 346.9h1.2M125.8 341.6h1.2M125.8 336.2h1.2M125.8 330.9h1.8M125.8 325.6h1.2M125.8 320.2h1.2M125.8 314.9h1.2M125.8 309.6h1.8M125.8 304.3h1.2M125.8 298.9h1.2M125.8 293.6h1.2M125.8 283.0h1.2M125.8 277.7h1.2M125.8 272.3h1.2M125.8 267.0h1.8M125.8 261.7h1.2M125.8 256.4h1.2M125.8 251.0h1.2M125.8 245.7h1.8M125.8 240.4h1.2M125.8 235.1h1.2M125.8 229.7h1.2M125.8 224.4h1.8M125.8 219.1h1.2M125.8 213.8h1.2" stroke="#666" stroke-width=".6" fill="none"/>
<path d="M23.2 288.3H275M125.2 371.7V203" stroke="#000" stroke-width="1.3" fill="none"/>
<path d="M125.2 197.2L122.60000000000001 204H127.8z" fill="#000"/>
<path d="M279.8 288.3L273 285.7V290.90000000000003z" fill="#000"/>
<text x="267.2" y="304.6" class="g9">γ<tspan class="sub9" dy="1.3">1</tspan></text>
<text x="107" y="207.4" class="g9">γ<tspan class="sub9" dy="1.3">2</tspan></text>
<text x="35.4" y="204.3" class="lbl2">B</text>
<path class="p" d="M256.1 198.1h.01" marker-start="url(#bsq)"/>
<text x="267.6" y="200.7" class="tl">MR</text>
<path class="p" d="M256.1 208.0h.01" marker-start="url(#btr)"/>
<text x="267.6" y="210.6" class="tl">MS</text>
<path class="p" d="M256.1 218.0h.01" marker-start="url(#bpl)"/>
<text x="267.6" y="220.6" class="tl">ASD</text>
<path class="p" d="M256.1 227.9h.01" marker-start="url(#bcr)"/>
<text x="267.6" y="230.5" class="tl">NM</text>
<path class="p" d="M256.1 237.8h.01" marker-start="url(#bst)"/>
<text x="267.6" y="240.4" class="tl">AS</text>
<path class="p" d="M256.1 247.8h.01" marker-start="url(#bci)"/>
<text x="267.6" y="250.3" class="tl">AR</text>
<path class="p" d="M256.1 257.7h.01" marker-start="url(#bas)"/>
<text x="267.6" y="260.3" class="tl">VSD</text>
<path d="M307.2 323.5L381.6 201.5M320.3 324.8L394.7 202.8M333.4 326.1L407.8 204.1M346.5 327.4L420.9 205.4M359.6 328.6L434.0 206.6M372.7 329.9L447.1 207.9M385.9 331.2L460.3 209.2M399.0 332.5L473.4 210.5M412.1 333.8L486.5 211.8M425.2 335.1L499.6 213.1M438.3 336.4L512.7 214.4M451.4 337.6L525.8 215.6M464.5 338.9L538.9 216.9M477.6 340.2L552.0 218.2M490.7 341.5L565.1 219.5M503.8 342.8L578.2 220.8M516.9 344.1L591.3 222.1M530.1 345.4L604.5 223.4M543.2 346.7L617.6 224.7M556.3 347.9L630.7 225.9M569.4 349.2L643.8 227.2M582.5 350.5L656.9 228.5M595.6 351.8L670.0 229.8M307.2 323.5L595.6 351.8M310.3 318.4L598.7 346.7M313.4 313.3L601.8 341.6M316.5 308.2L604.9 336.6M319.6 303.2L608.0 331.5M322.7 298.1L611.1 326.4M325.8 293.0L614.2 321.3M328.9 287.9L617.3 316.2M332.0 282.8L620.4 311.1M335.1 277.8L623.5 306.1M338.2 272.7L626.6 301.0M341.3 267.6L629.7 295.9M344.4 262.5L632.8 290.8M347.5 257.4L635.9 285.7M350.6 252.3L639.0 280.6M353.7 247.2L642.1 275.6M356.8 242.2L645.2 270.5M359.9 237.1L648.3 265.4M363.0 232.0L651.4 260.3M366.1 226.9L654.5 255.2M369.2 221.8L657.6 250.1M372.3 216.7L660.7 245.1M375.4 211.7L663.8 240.0M378.5 206.6L666.9 234.9M381.6 201.5L670.0 229.8M381.6 201.5L376.0 18.5M393.1 202.6L387.8 18.7M404.7 203.8L399.5 18.8M416.2 204.9L411.3 19.0M427.7 206.0L423.0 19.1M439.3 207.2L434.8 19.3M450.8 208.3L446.6 19.4M462.4 209.4L458.3 19.6M473.9 210.6L470.1 19.8M485.4 211.7L481.8 20.0M497.0 212.8L493.6 20.5M508.5 214.0L505.4 21.1M520.0 215.1L517.1 21.6M531.6 216.2L528.9 22.2M543.1 217.3L540.6 22.7M554.6 218.5L552.4 23.3M566.2 219.6L564.2 23.8M577.7 220.7L575.9 24.4M589.2 221.9L587.7 24.9M600.8 223.0L599.4 25.5M612.3 224.1L611.2 26.5M623.9 225.3L623.0 27.5M635.4 226.4L634.7 28.5M646.9 227.5L646.5 29.5M658.5 228.7L658.2 30.5M670.0 229.8L670.0 31.5M381.6 201.5L417.7 205.0L453.7 208.6L489.8 212.1L525.8 215.6L561.9 219.2L597.9 222.7L634.0 226.3L670.0 229.8M381.3 191.9L417.4 195.2L453.5 198.6L489.6 202.0L525.7 205.5L561.7 208.9L597.8 212.3L633.9 215.8L670.0 219.4M381.0 182.2L417.1 185.5L453.3 188.7L489.4 191.9L525.5 195.3L561.6 198.6L597.8 201.9L633.9 205.4L670.0 208.9M380.7 172.6L416.9 175.7L453.0 178.7L489.2 181.8L525.4 185.1L561.5 188.3L597.7 191.6L633.8 195.0L670.0 198.5M380.4 163.0L416.6 165.9L452.8 168.8L489.0 171.7L525.2 174.9L561.4 178.0L597.6 181.2L633.8 184.6L670.0 188.1M380.1 153.3L416.4 156.1L452.6 158.8L488.8 161.6L525.1 164.7L561.3 167.7L597.5 170.8L633.8 174.2L670.0 177.6M379.8 143.7L416.1 146.3L452.4 148.9L488.6 151.5L524.9 154.5L561.2 157.4L597.5 160.4L633.7 163.8L670.0 167.2M379.5 134.1L415.8 136.5L452.2 138.9L488.5 141.4L524.8 144.3L561.1 147.1L597.4 150.0L633.7 153.3L670.0 156.7M379.2 124.4L415.6 126.7L451.9 129.0L488.3 131.3L524.6 134.1L561.0 136.8L597.3 139.6L633.7 142.9L670.0 146.3M378.9 114.8L415.3 116.9L451.7 119.0L488.1 121.2L524.5 123.9L560.9 126.6L597.2 129.2L633.6 132.5L670.0 135.9M378.7 105.2L415.1 107.1L451.5 109.1L487.9 111.1L524.3 113.7L560.7 116.3L597.2 118.8L633.6 122.1L670.0 125.4M378.4 95.6L414.8 97.3L451.3 99.1L487.7 101.0L524.2 103.5L560.6 106.0L597.1 108.4L633.5 111.7L670.0 115.0M378.1 85.9L414.6 87.5L451.0 89.2L487.5 90.9L524.0 93.3L560.5 95.7L597.0 98.1L633.5 101.3L670.0 104.6M377.8 76.3L414.3 77.7L450.8 79.2L487.4 80.8L523.9 83.1L560.4 85.4L596.9 87.7L633.5 90.8L670.0 94.1M377.5 66.7L414.0 68.0L450.6 69.2L487.2 70.7L523.7 72.9L560.3 75.1L596.9 77.3L633.4 80.4L670.0 83.7M377.2 57.0L413.8 58.2L450.4 59.3L487.0 60.6L523.6 62.7L560.2 64.8L596.8 66.9L633.4 70.0L670.0 73.2M376.9 47.4L413.5 48.4L450.2 49.3L486.8 50.5L523.4 52.5L560.1 54.5L596.7 56.5L633.4 59.6L670.0 62.8M376.6 37.8L413.3 38.6L449.9 39.4L486.6 40.4L523.3 42.3L560.0 44.2L596.6 46.1L633.3 49.2L670.0 52.4M376.3 28.1L413.0 28.8L449.7 29.4L486.4 30.3L523.1 32.1L559.9 33.9L596.6 35.7L633.3 38.8L670.0 41.9M376.0 18.5L412.8 19.0L449.5 19.5L486.2 20.2L523.0 21.9L559.8 23.6L596.5 25.3L633.2 28.3L670.0 31.5M307.2 323.5L307.5 119.0M310.3 318.4L310.4 114.8M313.4 313.3L313.2 110.6M316.5 308.2L316.1 106.4M319.6 303.2L318.9 102.2M322.7 298.1L321.8 98.0M325.8 293.0L324.6 93.8M328.9 287.9L327.5 89.5M332.0 282.8L330.3 85.3M335.1 277.8L333.2 81.1M338.2 272.7L336.0 76.9M341.3 267.6L338.9 72.7M344.4 262.5L341.8 68.5M347.5 257.4L344.6 64.3M350.6 252.3L347.5 60.1M353.7 247.2L350.3 55.9M356.8 242.2L353.2 51.7M359.9 237.1L356.0 47.5M363.0 232.0L358.9 43.2M366.1 226.9L361.7 39.0M369.2 221.8L364.6 34.8M372.3 216.7L367.4 30.6M375.4 211.7L370.3 26.4M378.5 206.6L373.1 22.2M381.6 201.5L376.0 18.0M307.2 323.5L381.6 201.5M307.2 314.2L381.3 193.2M307.2 304.9L381.1 184.8M307.2 295.6L380.8 176.5M307.3 286.3L380.6 168.1M307.3 277.0L380.3 159.8M307.3 267.7L380.1 151.5M307.3 258.4L379.8 143.1M307.3 249.1L379.6 134.8M307.3 239.8L379.3 126.4M307.3 230.5L379.1 118.1M307.4 221.2L378.8 109.7M307.4 212.0L378.5 101.4M307.4 202.7L378.3 93.1M307.4 193.4L378.0 84.7M307.4 184.1L377.8 76.4M307.4 174.8L377.5 68.0M307.4 165.5L377.3 59.7M307.4 156.2L377.0 51.4M307.5 146.9L376.8 43.0M307.5 137.6L376.5 34.7M307.5 128.3L376.3 26.3M307.5 119.0L376.0 18.0" stroke="#dedede" stroke-width=".5" fill="none" stroke-dasharray="1 1"/>
<path class="p" d="M588.5 133.8 583.9 125.9 578.3 119.1 596.6 117.1 562 131.9 581.8 119.7 582.6 123.9 591.7 126.8 579.9 121.8 597.1 136.4 587.1 128.1 582 125 577.4 132.1 574.8 124.2 569.7 131.8 608.6 130.7 607.6 122.4 624.1 119.3 609.6 116 584.6 123.6 580.6 124.8 597.5 120.6 607.4 131.1 606.4 120.7 561.1 132.3 611.8 132.9 575.2 120.3 600.6 124.7 580.5 124.1 594.1 124.7 585.2 130.6 620.2 115.1 584.6 108 547.3 115.8 609.6 118.5 561.2 121.6 572.1 115.4 604.5 122.1 591.7 118.3 585.7 119.1 578.7 118.6 617.5 125.8 548.8 125.5 599 123.7 561.6 134.6 578.7 129.3 596.1 128.5 554.7 133.5 605.2 116.6 597.5 121.2 583.6 132.1 576.7 119.6 579.7 114.9 594.8 131.8 581.1 118.5 594.8 115.9 592.5 126.9 562 119.9 573.2 123 577.9 117.3 580.1 128.9 547 116.5 562.1 149.1 596.1 119.4 594 130.8 577.1 130.8 569.4 115 565.2 132.3 601.4 124.3 569.2 123.1 590.1 131.8 553.4 124.9 595.9 120.8 614.6 121.9 588.7 111.6 578.5 133.7 595.8 118.6 634.1 116.8 584.9 126.1 565.7 129.1 570 115 609.6 140.1 577.8 114.3 573.3 142 607.1 120.7 596.7 129 576.1 135.6 583.3 115.5 592.3 123.6 573.6 124.2 593.8 126 585.8 121.9 566.7 140 597.4 115.1 591.4 132.4 590.9 111.9 592.9 114.3 563.8 129.8 591 113.4 582.4 126.5 587 122.1 618.1 120.7 551.5 126.3 602.9 130.3 569.4 134.8 595.2 126.5 600.1 137 568.7 124 595.6 123.2 600.2 123 583.7 116.6 572 133.4 566.6 137.5 579.1 139.8 584.1 129.5 617.7 150.5 586.5 130.7 564.5 128.6 557.5 125.5 582.8 127.1 572.3 135 587.5 118.1 618.6 130.3 606.8 126.6 584.1 112.8 595.8 121 571.3 116.6 582.7 128.8 601.5 126.2 586.5 110.3 600.4 136.2 602.6 139.4 619.4 128.2 576.6 130.9 599.4 129.7 597.3 116 595.4 135.9 609.5 120.4 598.3 125.1 596.1 113.9 604.2 130 588.2 125.2 591 112.4 602.7 126 599.6 116.4 596.8 117.3 598 122.2 578.7 119.2 607.8 130.3 612.9 130.1 569.3 133.6 612.7 130.2 586.6 122.3 597.3 132 585.6 116.5 596.8 121.1 604.7 132.5 574.9 125.5 593.3 134 588.4 120.4 593.4 128.2 566.6 123.8 578.5 123.2 610.8 127.1 595.8 130.1 611.9 116.7 592.6 124.4 613.8 130.4 571.7 120.1 588.9 124.9 585.6 132.9 602.8 128.7 578 119.3 596.5 132.8 594.4 137.2 595.8 138.6 585.3 113.2 598.7 138.7 575.4 125.1 590.7 126.1 577.6 130.5 597.1 125.2 623.1 122.8 585.9 124.2 580.5 130.3 577.2 122.8 613.4 123.3 596 126.4 594 121 550.7 122.7 569.2 116.3 604 121.6 584.6 126.9 576.9 119.3 587.3 122.7 594.9 115.7 600.5 116.8 606.5 126.3 590.1 125.4 589.9 126.5 580.9 125.1 588.1 125.5 585 121.3 577.6 119.8 591.8 125.6 592.2 114 593.8 129.1 613.7 131.3 627.1 113 549.1 114.7 587.6 123.9 577.3 114 573.4 128.6 573.7 121.1 602.2 130.9 603.3 126.9 594.9 120.1 597 129 586.1 130.4 583.2 126.8 604.1 126.6 599 119.6 603.6 140.5 576.8 121.3 608.7 139.1 571.1 121.2 589.6 123.9 587.6 119.6 599.9 120.9 623.4 128 605.5 129.3 576.7 123.3 571.6 126.6 616.3 135.8 609.5 126.7 565.5 126.6 580.9 128.2 607.3 135.5 576.9 110.2 590.5 134.2 611.8 129.2 573.7 116.9 620.2 128 571.7 127.5 611.6 126.4 636.3 137.3 591.9 115.5 589 120.4 611.3 119.9 579.6 132.6 584.9 123.9 612 121.3 587.8 125.5 560.4 130.7 551 120.5 606.9 129.3 587.1 113.9 593.1 141.1 586.5 109.7 592.5 135.5 579.3 121.4 567 121.8 563.4 117.8 608.8 145.7 588.2 115.8 564.6 128.2 577.1 132.8 596.4 117.3 607.6 124.3 601.4 130.2 588.6 125.5 646.2 135.1 598.2 118.5 563.1 126.8 586.4 129.3 601.3 132.2 615.3 122.2 584.5 117 579.2 135.4 596.2 119.1 603.2 124.7 573 124.3 626.1 119.3 577.9 130.8 609.9 116.4 601.7 114.7 612 118.6 576.9 130.2 619.7 102.4 583.3 118.4 578.5 120.2 591.3 119.4 582.6 115.1 601.1 117.9 592.1 110.6 582.1 117.8 612.3 114.9 562.4 121.4 597.8 127.9 584.6 122.2 578.9 124.6 618.6 135.2 581.6 118.7 610.1 128.4 579.8 127.6 607.4 132 629.8 123.1 580.8 135.9 587.5 133.3 582.7 125.4 579 132.4 572.6 120.8 607.1 130.4 560.9 125.1 594 120.7 597.2 131.3 577.4 119.9 595.1 114.3 576.2 124.6 578.7 120.5 584.9 120.5 565.1 123.9 565.6 126.1 606 118.9 584.1 127.6 581.4 128.7 567.3 123.7 574.1 117.8 601.1 125.3 587.6 122.3 590.3 118.8 576.9 129.1 608 127.1 607.2 126.9 596.5 118.8 593.2 130 574.9 141.5 576.8 120.6 588.3 133.8 596 133.9 587.1 113.3 606.7 122.4 595.3 123.8 567.7 117.4 605.7 124.1 589.2 131.1 581.6 126.3 594.8 113.6 621 123.9 587.5 122.3 603.7 120.6 621.1 126.1 573 123.8 580.7 113.9 562 120.3 591.5 126.6 597.2 120.5 590.8 126.8 599 122.6 601.3 133 588 119.3 581.2 132.6 593.8 134 579.6 140.5 628.2 132.7 583.4 119.1 603.4 139.7 583.8 131.2 574.9 128.5 603.5 137.7 593.4 121.1 611.3 135.3 584.4 127.5 595.1 133.2 581.4 132.4 565.6 105.5 569.6 125.3 604.7 126 591.6 129.4 572.8 130.5 563 117.1 592.8 127.6 579.7 124.2 582.3 131.1 580.2 128.4 567.9 124.6 586.1 128.4 603.8 136.8 594.7 129.4 574.7 125 591.6 117.6 575.2 133.2 594.6 122.1 581.3 112.8 615.5 118.3 605.9 147.4 568.5 125.3 593.4 130.6 587.9 127.9 615.3 131 589 122.6 613.2 112.4 596.8 128.4 586 136 591.1 122.3 622 129.7 615.5 132.1 556.1 120 603.4 134.9 571.6 129 609 137.5 604.7 131 586.4 117 596.1 120.7 590.8 129.8 575.6 117 599.5 111.8 598.5 118.4 607.3 132.8 616 111.9 594 125 583.5 133.9 617.3 116.4 591.8 130.8 563 145.5 603.5 132.5 576.9 113 576.1 114.6 612.4 130.6 588.5 122.2 607.7 126.1 591.7 134.8 613.9 136.7 578.2 127.2 609 126 582.6 125.8 604.4 136.2 584.3 112.1 581.9 141.5 592.2 113.4 615.3 130.9 602.6 128.9 561.8 118.3 581 113.8 557.8 126.9 589.1 135.8 575.6 126.4 576.1 130.6 565.8 122.3 575.6 131.9 620.6 148.7 604.3 105 584.8 121.4 597.6 122.6 543.5 131.8 577.8 130.7 583.1 134 596.3 131.4 596.3 122.8 616.2 149.6 586.9 130.8 587.4 123.2 597.4 129.5 578.1 121.3 586.3 137.7 598.9 122 605.2 115.6 572.8 112.3 577.7 136 581.6 122.2 560 123.9 613.7 119 572.3 121.7 594.9 116.2 595.5 133 593.5 128 604.1 133.8 604.2 127 603.6 134.9 620.3 118.6 585.4 124.9 598.2 131.5 577.6 131.3 593.4 135.1 599.5 119.9 598.3 127.7 606 129 587.4 121.2 564.5 118.2 601.5 119.9 588.3 123.5 577.8 119 581.4 124.9 582.8 143.7 593.9 108.4 600.2 126.2 602.7 121.8 611.6 118.6 588.8 114.7 592.1 128.9 597.7 135.1 616.2 120.8 610.3 121.8 601.9 123.7 590.4 136.4 582.5 129.9 570 112.7 598.7 122.9 587.3 127.8 567.7 110.5 558.5 122.8 567.2 130.5 574.4 127 565.7 121.1 583.7 123.3 606.2 121.6 592.6 138.6 584.5 132.3 599.8 129.2 601.6 111.9 570.6 129.3 590.3 124.3 570.1 127.7 571.4 119.9 578.6 126.5 564.6 127.1 599.3 112 572.9 109.3 569 121.7 580 128.9 610.4 121 616.8 120.4 576.6 113.7 575.9 117.2 576.8 113.7 582.6 129.3 611.2 120.4 585.5 130.6 590.5 124.8 588.4 135.6 607 132.9 624.9 126.7 567.6 127.5 596.7 131.4 551.2 133.1 590.6 134.5 599.4 119.9 588.5 123.1 604.2 120.8 601.9 129.4 608.1 129.7 573.3 125.6 598.1 129.7 600.2 117.4 602.9 117.2 570.8 122 582.7 123.4 617.2 129.2 588.8 131.8 613.7 117.8 586 119.1 586.1 129.8 570.3 129 612.5 121.2 577.4 128.4 576.1 121.2 612.6 121.1 599.1 111.6 582.7 126.1 620.5 127 596.1 120.5 580.9 121.2 600.8 124.9 602.9 123.1 581.4 122.7 578.6 116.6 605.7 122.3 552.4 126 589.9 130.3 573.8 121.4 607.9 116.8 611.3 121.2 568.7 120.2 594.7 114.1 557.5 120.8 585.5 135.4 601.6 117.1 612.3 128.1 589.3 122.6 600.9 140.8 591.8 131.7 576.6 114.2 580.2 130.4 585 127.1 594 117.3 596.5 123.9 591.3 131.9 572.7 120.2 563.9 135 589.9 113.4 591.7 115.8 572.3 127.5 607.4 136.5 596.3 125.6 593.4 122.3 586.1 134.8 618.9 130.8 602.7 120 569 112.8 575.3 126.8 572.7 129.6 594.4 135.9 600.1 133.4 606.9 122.7 558.4 123.6 571.5 116.9 597.5 117.8 606.9 141 584.2 142 569.2 121.6 590.3 115.2 604.8 121.4 568.6 134.9 606.3 131.5 582.5 118.6 562.4 120 605.9 125.7 578.3 126 592.9 122.2 610.4 120.7 611.7 127.4 564 118.4 607.9 133.6 570.3 133.3 592.1 128.4 588.5 133.5 582.7 122 607.8 122.7 595.5 122 576.9 128.9 559.1 126.7 576.1 128.5 602 130.1 615.6 139.8 586.7 116.8 576 120.7 596.3 135.2 614.4 109.5 588.4 120.5 570.9 126.1 600.4 118.9 584.4 137.5 569.2 125.7 574.9 122.5 569.2 123.5 580.1 135.4 588.4 108.7 571.1 116.8 584.8 116.3 574.3 125.9 601.1 117.9 598.4 131 614.8 119.5 591.3 118.2 613.8 119.5 574.6 133.1 580.7 124.4 575.7 121.7 601.1 131 602.5 133.9 596.9 124 613.6 124.8 629.5 121.7 615.4 118 594.2 129.7 563.5 121.2 601.1 122.2 577.5 124.1 586 121.4 589.4 126.3 578 129.8 613.7 131.9 592.7 129.4 589.3 125.9 602.3 120.5 574.1 134.5 607.4 123.7 580.5 137.4 598.8 114.8 584.7 133.2 571 123.6 586.9 114.7 587.2 128.2 601.9 115 580.5 111.6 620.4 129.6 615 126.9 620 127.8 556.2 127.2 569.5 125.9 600.6 129.1 540.5 121.1 592.7 114 571.7 126 586.4 119.3 585.2 125.2 576 119.4 588.9 126.2 592.7 121.6 596.6 126.4 588.5 124.1 593.8 123.4 589.5 113.7 586.1 132.4 582.2 124.4 622.5 131.9 578.1 129.1 559.4 104.8 581 115.8 597.5 124 561.6 128.9 597.8 116.9 587.2 110.8 570.8 125.2 603.4 123.9 600.9 128.8 605.5 122.5 586 125.4 585.4 127.2 563.4 124.2 616.4 117.1 599.5 125.2 614.6 128.1 615.2 120.8 591.7 119.9 595.3 115.2 567 133.6 619.4 137.4 587 124.9 602.7 138 579.1 132 613 117.6 581.4 114.5 589.3 122.2 581.1 133.1 625.3 129.5 612.4 128.9 590.2 127.8 595 134 597.8 129 571.7 117 586.3 134.7 590.7 116 588.2 121.7 590.2 139.5 622.6 131.9 579.3 129.2 583.9 126.4 587.2 130.2 568.2 127.7 602.1 117.2 604.6 131 598.7 130.1 617.2 141.2 547.5 134.9 598.7 127.3 610.6 131.5 603.1 120.2 585 125.3 581.8 124.3 588.1 131.5 590 129.7 588.9 126.2 590.7 140 591.6 123.4 586.4 120.4 571.9 131.3 608.2 127.4 577.1 120.1 562.2 130.8 574.2 129 576.7 110.7 589.4 121.3 603.5 127.4 581.6 136.2 610.1 130.5 606 128.2 580.2 115 581.8 120.5 567.7 128.5 568 123.1 586.6 127.8 630.9 121.9 605.5 115.6 578.5 131 602.1 134.5 585.4 124.8 591.6 133.7 579.6 136.4 551.1 109.8 592.6 127.9 583.6 131 545.7 121.5 600.8 119.9 605.3 127.4 593.5 122.7 609.3 134.4 560.4 129.9 605.2 125.4 588.4 133.4 594.4 134.1 616.3 118 587.7 122.4 594.9 127.6 565.9 119.5 600.9 128 598.5 114.6 568.8 124.6 601.4 123.8 574.9 116.6 600.3 126 584 129.5 609.1 122.8 567.1 118.6 565.7 112 600.8 122.7 598.3 126 575.1 119.9 604.2 137.9 539.7 132.8 601.5 131.1 579.2 126.7 602.2 113.2 613.2 121 577.3 121.5 576.4 128 611.7 133.2 606 114.9 593.9 124.9 564.6 126.2 595.1 113.8 536.7 125.5 615.8 134 577.1 134.3 589.8 115.7 565.9 123.1 615.9 137.3 585.9 135.3 585.7 123.6 586.6 130.9 583.5 131.5 569.1 118.3 615.9 117.3 595 122.7 579.4 118.1 602.5 133.3 565.3 137.3 593.4 125.6 555.5 116.9 597.1 136.1 615.3 121 618.4 127.2 607.6 122.5 568.6 134.7 583.6 122.5 565.8 121.4 589.3 125.4 593.3 113.9 561.6 125.5 580 119.4 612.3 133.9 619.4 137.8 608.6 126.8 570.5 127.4 591.2 113.2 605.7 130.4 584.1 136 577.2 117.3 587.4 129.6 599.2 132.5 599 120.1 607.8 129.6 609.7 126.4 598.3 117.9 644.7 116.9 585.3 118.1 581.6 127.3 567.1 117.3 582.7 114.7 602 136.6 573.6 128.1 625.9 126.7 584.6 126.7 563.8 129.4 581.6 122.3 617.8 119.3 592 135.1 578.1 140.1 577.1 118.2 594.4 120" marker-start="url(#csq)" marker-mid="url(#csq)" marker-end="url(#csq)"/>
<path class="p" d="M461.5 156.7 475.7 138.2 469.9 148.5 461.8 147.9 453.8 123 480.2 136.2 468.6 146.6 467.5 174.8 452.6 139.5 463.5 163.1 475.3 163.5 461.9 147 460.8 162.8 451.9 159.8 466.6 146.5 466.9 125.9 456.4 146.9 471.3 146.4 458.1 151.1 469.9 137.4 462.7 154.7 475.1 183.5 451.7 140.4 472.2 144.5 463.8 144.2 474.4 147.6 457 150.3 451.1 133.6 449.7 134 458.5 166.2 473 142.6 446.9 162.9 447.5 135.6 463.4 145.1 450.8 181.4 462.6 141.7 448.7 126.7 444.6 145.5 474.5 168.2 482.7 167.4 446.2 153.4 464.5 155.1 463.4 152.7 461.1 133.2 471.8 149.2 480.4 137.1 452.6 128.5 474.6 155.5 467.1 148.1 454.7 157.7 426.3 144.5 468 142.4 471.4 144.8 472.8 141.9 464.3 138.1 457.4 158.9 453.8 141.9 457 149 459.2 150.3 469.8 156.8 462.1 151.7 459.4 154.8 463.1 153.7 475.5 144.2 467.3 148.9 460.5 137.1 452.3 152 470.1 159 442.1 147.3 466.4 146.9 452.1 147.2 457.4 153.7 468.8 142.3 460.8 156.6 475.1 142.2 466.7 135.7 451.6 163.8 465.2 141.7 475.9 142.4 470.1 150.3 461.7 151.7 459.3 139.8 469.7 162.5 474.8 140 459.1 150.7 472.5 145.4 446.7 151.9 462.3 142.6 456.6 141.7 452.6 135.3 447.7 152.4 471.7 154.3 448.6 155.6 455 143.1 466.8 146.4 458.4 133.9 476.7 162.4 466.1 140.8 445.7 146.2 482.2 142.6 476.2 129.5 467.3 154.7 477.6 144.7 453.2 145.4 470.5 138.8 466.2 158.1 454.8 169.6 480.8 157.8 466.7 144 472.3 151.4 456.7 147.7 475.2 129.7 472.7 131.9 456.6 127.3 477.6 154.5 446 145.5 477.4 136.9 465.1 136.1 473.4 165.8 470.7 142.8 467.5 137.7 448.3 155.9 475.1 140.1 458.3 135.8 475.1 133.7 440.4 151 458.6 133.4 445.6 147.3 464.7 147 455.9 152.1 467.8 135.9 461.4 140.4 469 151.3 456.4 144.2 452.4 150.8 466.5 151.3 471 145.9 448.9 156.1 450.7 147.9 450.6 170.4 467.9 158.7 478.1 152.9 458.6 130.1 465.2 160.6 474.3 142.8 459.3 160 470.5 141.6 460.2 145.2 451.1 158.3 454.1 159.3 443 147 453.3 132.7 461.5 157.2 468.6 179.8 442.5 148.2 472.3 146.2 455.3 161 457.5 142.3 468.8 149.1 462.8 156.2 465.4 143.7 469.4 143.7 459.2 151.1 480 146.8 470.8 165.1 468.9 141.6 455 139.9 444.1 152.9 457.8 151 467.8 148 454.2 142 460.7 144.8 467.6 147.6 454.1 145.6 456.9 135.6 462.5 140.7 463.7 141.2 447.5 140.9 460.7 148.6 480.6 140.4 467.1 141.9 463.2 153.8 464.6 150.3 461.9 159.8 457 161.5 466.7 146.7 464.4 153.8 456.6 161.3 471.9 137.9 476.1 136 467.8 149.4 452.1 177.9 471 143 456.8 147.7 475.1 145.1 464 143.9 454.2 157.2 465.6 142.3 472.9 156.1 463.6 151.4 478.4 148.3 457.7 158.8 475.3 163.3 468.9 130.1 452.4 146.4 460.5 152.4 458.4 122.8 444.7 134.7 453.5 152.4 442.3 154.2 466.1 138.2 453.5 151.4 460.3 161.4 453 142.5 474.5 152.8 468.7 161.4 469.9 130.3 466.4 149 464.1 162.5 457.9 132.4 451.7 139.7 467.2 145.4 472.6 146.8 451.7 128.7 462.6 163.3 454.1 152.5 455.4 148.1 469.9 141 461.4 177.6 465 149.5 462.2 163.8 458.5 136.5 458.1 137.1 470.7 165.1 461.4 155.3 468.9 154.4 460.9 146.1 477.3 135.2 468.6 154.7 460.8 155.5 464.9 151.4 447.3 174.7 459.2 135.6 459.1 148 460.4 159.7 456.8 148.8 456.4 151.7 454.5 157.7 457.8 133.4 450.6 152.5 462.1 148 462.2 147.2 448 154.9 447.7 145.3 469.3 151.3 467 160.3 471.3 141 460.5 130.9 458 149.8 456 145.3 456.4 142.2 466.3 157.7 453.5 150 466.6 154.9 454.1 160.5 449.7 152.6 455.1 131.6 464.5 156.7 457.6 147.9 459 139.8 474 147.2 463 142.3 457.8 131.4 455.3 158.2 456.5 157.6 458.5 151.4 453.8 155 449.8 139.8 463 143.3 452 132.7 451.4 153.8 456.1 134 445.1 156.9 455.1 154.3 471.3 132.7 453.5 161.8 484.9 145.5 472.4 151.5 471.1 139 454.8 154 458.1 155.8 446.2 144.8 457.6 139.9 458.2 162 462.1 153.4 465.7 161.3 468.6 146.7 461.4 157.3 466.6 149.1 465.7 141.6 473.7 157.3 466.1 146.4 473.4 143.4 451.9 136.7 466.5 161.3 459.8 136.4 466.8 158.9 466.2 152.4 466.7 145.5 456.2 152.4 474.6 148.8 469.4 141.4 453.1 149.7 469.2 157.9 474.5 156.8 464.3 146.1 460.8 161 468.1 149.6 457.8 154.4 448.3 156.3 472.8 149.2 469.2 145.9 459.7 151.1 465.5 160.3 482 155.8 467.3 137.7 465.5 138.8 469.7 159.6 451.5 146.8 460.7 155.8 451.3 157.9 443.1 150.7 466 144.2 474.5 143.2 470.2 155 458 142.6 444.9 131.4 479.7 147.7 460.4 155.7 466 144 468.5 150.7 473.4 141.2 470.4 140.7 455.6 145.6 466.5 135.8 460 156 455.3 139 465.4 125.8 448.8 141.9 475.8 144.5 473.4 157 467.9 146 471.8 160.8 469.6 128.9 482.2 143.8 462.6 152.9 456.8 148.2 467.3 151.9 460.3 157.5 455.9 131.6 449.5 149 453.6 140.2 468.1 141.5 446.1 145.8 461.1 153.8 455.3 147 476.6 142.8 481.1 149.2 454.1 144.1 438.5 150.3 464.8 147 452.4 150.3 450.3 140.9 468 133.5 458.4 144.3 464.9 159.1 470.9 131.7 456 148.4 452.6 137.4 464.1 151.6 476 145.4 461.7 146.1 449.1 141.3 468 154.2 460.9 154.3 481.5 136.8 474.2 162.9 471.3 146.5 467.1 161.2 455.7 131 462.7 137.6 454.5 162.1 464.3 156.8 478.6 146.7 476.9 150.4 447.6 137.4 472.9 148.5 447.3 140.1 461.9 162.9 457.7 146.1 463.8 161.4 463.1 154.4 451.8 145.5 466.8 148.3 467.9 144.3 448.9 147.1 457.9 155.7 451.1 141.6 457.9 137.1 460.6 140.8 466.9 157.9 466.8 146.1 466 141.1 482.2 141.8 477 150.8 460 144.9 454.6 140.7 464.3 146.2 466.5 136.1 473.7 181.1 453.3 149.9 467.1 156.8 466.6 150.1 471.7 145.3 460.2 151.9 451.6 158.6 464.1 136.2 447.8 143.5 447.4 122.6 459.3 137.6 456.2 144.3 445.5 151 466.7 154 466 145.5 468.5 148.2 465.2 132.8 453.9 147.7 472.1 143.7 468.6 162.5 452.8 148.6 465.6 159.7 465.1 128.8 470.5 167.2 463.7 160.1 465.6 141.9 469.8 128.8 444.5 135.7 472.9 162.8 447 155.7 442.1 143.9 475.8 145.7 449.2 144.2 457.6 142.2 471.1 142 455.9 146.4 459.2 135.8 469.8 150.5 473.8 160.6 460 135.8 460.4 147.4 468.7 113.6 463.2 132.1 472.3 161.1 457.9 159.3 454.1 132.4 461.3 157.6 460.4 152.8 456.6 136.7 463.2 152.8 479.2 134.7 470 143.8 451 157 446.5 128.1 463.6 152.4 454.1 134.3 462.6 148.6 462.5 148.1 447.9 142.2 466.5 155 461.4 146.1 447 140.5 469.1 133.8 459 140.4 466.2 146.6 462.1 154.6 465.4 143.4 456.2 154 459.9 145.6 453.2 161.6 457.3 143.8 461 137.1 479.8 150.7 466.5 150 478.1 152.7 475.7 131.4 475.5 160.6 456.1 130.5 468 148.3 458.9 153.3 459 150.5 457.6 159.1 460.6 135.6 458.6 132.8 473.3 144.8 467.7 164.5 473.3 146.5 461.6 147.7 449.4 136.9 454.9 136 451.9 137.9 456.7 140.3 458.1 141.3 460.5 147.2 465.7 149.6 476.4 162.5 472.8 150.9 472.7 149.1 438.9 152.4 464.7 132.3 468.6 160.9 460.2 150.6 465.7 155.5 476.3 128 465.6 140.7 461.1 130.1 470.1 164.7 472.2 146 459.3 148.1 470.4 132 448.1 149.3 470.6 145.5 448.3 153.8 469.8 162 477.6 153.8 451 135.7 470.7 131.9 454.2 143.7 465.4 150.8 452.2 141.3 465.5 146.3 457.2 152.5 466.5 147.1 469.7 145.4 455.3 145.3 459.6 141.5 463.7 146.7 480.5 135.1 447.7 159 459.4 134.7 475.4 150.3 474.9 145 463.4 151 472.8 130.7 469.4 161.6 461.1 154.6 450.7 137.4 465.9 167.1 475.7 143.8 455.5 162.4 452.9 152.4 462.4 139.9 468.7 108.3 459 154.7 481.1 160.9 460 160.1 455.3 151.5 453.9 145 443.1 143.9 457.9 152.3 452.4 128 473.1 138.8 460.3 163.1 481.4 153.6 464.3 145.9 463.9 141.6 474.1 144.7 457.9 139.4 462.1 139.1 451 134.9 456.9 150.5 449.9 151.7 452.2 129.7 458.1 146.4 455.7 156.9 480.7 122.2 472.6 150.1 448.3 149.4 453.4 123.9 454.3 176.6 462.8 138.9 463.8 146.3 469 142.5 469.3 160 469.5 157.9 463 154.6 476.4 158.2 454.5 143.3 447.8 145.1 456.8 143.3 483.3 153.4 471.5 145.7 479.2 163.2 456.8 156.9 458.6 144.8 454.4 161 466.1 130.2 449.9 182.2 466.9 140 457.2 147.5 461.3 148.6 465.8 159.8 454.1 147.9 474.4 148 455.3 134 460.8 133.3 462.7 150.3 455.3 131.7 460.2 148.8 448.1 156.7 468.8 150.5 470.9 148.5 468.8 155 463.8 146.3 454.1 150.5 460 157 473.4 155 464.2 153.7 450.6 159.3 455.7 173.8 448.6 147 460.3 159.8 462.9 120 465 152.6 455.6 152.5 451.5 152.3 448.9 149 454.6 155.6 473.8 159.9 461.3 142.5 460.7 163.7 460.1 131.3 479.4 152.4 469.6 164.8 452.5 149.9 463.9 146.5 449.4 153.4 449.1 149.9 447.5 149 456.6 147.4 464.5 149.3 454.5 145 461 139.1 462.3 150.5 472.5 143.4 466.1 156.1 463.5 140.3 468.5 148.3 458.9 142 463.2 151.9 465 156.7 476.5 159.7 463.3 150.3 461.5 163.7 454.1 160.4 473.1 132.5 467.5 150.6 483.5 134.1 469.1 152.4 468.6 136.2 474 134.7 462.7 142.8 472.5 148.9 458 147 463.4 150.9 470.2 127 454.2 139.5 466.2 154 466.9 147.1 462.1 157.7 466.6 145.9 445.6 139.7 468 149.3 454.1 146.9 445.7 148.2 457.6 140.6 466.2 155.3 470.3 150.9 479 128.9 456 159.8 480.1 140.3 473.7 139 475.2 147.8 454.7 163.9 466 130.5 465 126.5 469.4 157.2 469.4 145.6 465.8 145.6 464.9 133.1 451.4 139.1 464.5 155.2 458.6 121.9 465.2 134.2 465.9 134.5 473.6 154.2 467.1 145.1 458.4 151.3 468.6 146.5 472.9 138.1 460.3 148.2 434.8 138.8 456.2 159.1 462.4 164.8 469.3 143.7 463.9 160.6 467 158.5 465.3 132.9 443 152.7 466.2 169.9 453.6 151.2 456.1 141.8 465.5 149.1 455 145.3 474.3 154.1 467.8 151.9 460.8 132.2 461.7 137.6 454.9 149 462.6 146 467.7 151.2 466.7 159.1 447.4 145.1 470.7 124.9 454.7 130.2 457.5 144.7 465.5 134.1 468.1 150.1 464.6 163.4 442.2 139.1 453.7 165.4 473.7 160.7 457.9 135.1 468.7 146.6 464.5 140.7 453 142.9 466.9 141.9 458.9 144.3 462.4 146.6 469 145.6 458.8 142.4 466.7 154.2 471.5 156.1 468 159.7 453.5 155.8 467.3 144.3 469.5 150 459.7 146.8 481.9 148.2 463.8 141.9 460.7 145 469.4 148.1 456.5 151.1 464.1 148.9 464.6 143.7 448.8 138.9 460.9 134.6 451.5 128.2 474.1 140.4 477.2 151.4 468.9 152.9 470.1 162.4 446.3 146 463 139.4 460.6 161.4 470.3 134.4 477.4 149.6 461.5 154.5 467.9 141.9 461.1 140.3 466 140.4 451.7 156.5 447.9 143.1 451.7 136.6 463.9 159.2 462.7 142.4 472 165.2 454.5 150.9 451.3 154.8 471.4 149.6 455.4 141.8 462.3 138.3 466.1 156.8 461.5 164.2 448.6 163.5 468.5 148.8 469.5 156.7 462.3 166.9 490.4 163.1 465.5 158.5 467.7 154.1 458.7 138.3 452.4 131.3 466.7 145.6 469.7 163.1 482 143.7 453.5 152 471.1 167.3 452.3 150.7 468.8 145.2 456.5 158.7 469 123.2 456.3 145.1 464.8 133.1 455.7 145.9 472.9 126.5 467.9 139.4 464.6 145.3 475.1 128.5 446 180.7 475.3 145.1 467.7 146.5 462.8 159.3 461.7 155.2 477 131.4 460.3 140.5 457.5 149.8 456.3 141.5 453.7 143.4 457.5 156.8 465.7 137.1 456.5 135.8 464.6 152.7 448.9 153.5 446.8 136.3 464.7 153.9 463.4 138.4 463.6 145.9 461 142.6 461.7 154.3 464.5 145.8 462.8 151.4 451.9 152 453.4 157.4 473.3 156 465.8 127.1 455.8 144.4 457.6 131.2 451.8 149.9 468.4 147.7 462.8 146.4" marker-start="url(#ctr)" marker-mid="url(#ctr)" marker-end="url(#ctr)"/>
<path class="p" d="M501.4 141.2 506 148.7 504.7 153.2 491 149.5 496.4 155.5 507.4 134.6 510 133.4 503.9 152.1 503.3 184.2 501.6 156.4 501.5 141.4 497.1 166.3 506.2 151 509.3 145 510.1 156.5 504.8 149 494.8 150.8 505.6 143.6 510.8 156.1 507.6 162.7 503.3 154.3 502.3 160.2 503.1 165.4 502 146.8 502.7 159 505.2 156.2 498.8 159.5 506.8 145.5 499.9 155.9 495.2 146.9 487.1 160.6 490.7 183.6 492.7 158.4 493.6 152.7 510.5 148.6 506.9 156.6 504.2 149.4 492.5 134.2 506.7 137.6 496.1 141.2 498.2 142.7 501.1 159.8 499.6 154.6 492 147.7 498.5 150 503.9 160.3 484.5 155.8 504.1 138.5 499.8 155.7 497 135.3 493.4 162.8 489.1 156.7 499.7 158.5 499 135.8 505.2 137.7 491.4 148.2 494.3 157.8 499.9 161.2 497.6 175.1 497.8 159 505.5 145.4 502.1 138.6 492.1 160.9 503.5 159.5 496.6 159.6 502.5 160.8 502.5 162.2 507.1 154.5 496.9 164.3 498.8 143.7 505.9 153.8 501.7 145.6 495.6 153.3 497.6 158.4 491.9 145.8 500.8 148.6 510.1 138.2 497.9 163.1 504.1 155.3 499.4 148.5 492.9 160.5 507.6 153.8 493 154 493.2 163.9 490.2 156.3 498.2 149.1 507.6 148.5 502.8 167.8 503.5 160.3 495.9 151.8 503.1 152.1 518.5 152.7 504 148.9 496.9 145.3 487.9 167.5 509 153.6 509 147 513.3 130.7 493.6 139 499.8 149 501.5 142.1 496.7 154 508.1 154.1 501.4 136.3 502.9 146.8 491.7 141.2 487.7 142.8 504.4 142.2 508.5 164.4 503.8 159.1 497.4 157.1 505.6 180.8 493.7 154.1 499 161 505.4 158.3 488.5 157.4 502.9 150 505.7 143.4 502.1 133.9 496.6 149.4 510.6 152.5 498.2 164 492.9 147.8 495.2 170.1 492.4 157.2 493.2 157.2 496.7 173.6 498.9 147.6 502.6 133 496.5 163.4 492.4 155.1 497 149.9 495.7 147 495.9 146 489.3 152 508.6 148.7 488.1 153.7 504.5 146.7 496.4 167.2 495.4 161.5 506.3 147.4 496.2 147.6 503.7 155.5 481.6 145.5 500.7 147 501.7 146.9 501.8 141.6 500.1 151.4 499.9 162.2 495.9 142.9 502.4 173.9 497.4 152.5 494.3 152.1 506.8 155 504.7 140.6 511 145.4 493.5 153.6 501.5 148.8 499.1 143.5 496.7 156.9 491.1 165.7 498.6 171.1 488.2 164.6 501.4 138.6 490.9 142.1 501.7 168.1 513 151.5 498.2 145 499.5 151.6 507.8 142.3 496.7 159.3 493.6 159.9 504.5 151 503.4 135.4 503.9 169.6 496.6 145.9 518.6 165.3 500.2 163 498.3 153.9 513.3 160.6 497.5 158.5 494.2 155.9 500 146.6 502.5 143.9 501.1 149.7 503.9 148.5 498 140.8 498.1 140.1 500.3 163.5 508.1 163 505.6 145.3 499.3 160.2 500.6 158.2 505.3 138.2 505.3 163 505.9 149.5 500.8 143.7 503.2 155.1 509.1 146.9 499.6 159 501.9 145 501.2 168.3 492.8 163.4 504.5 159 504.6 168.6 511 151.3 494.5 146.4 498.4 154.8 495.7 163.5 499.3 150.7 508.6 146.1 503.6 155.1 496.8 159.5 500.6 157.2 493.9 153.5 498.3 153.3 502.3 167.1 506.9 169.7 506.6 133.4 504.8 157.3 503.4 149.9 500.5 162.6 499.3 141.7 507.6 147.6 510.5 158 498.6 139.5 503.3 163.2 492.3 165.1 493.9 135.6 497.9 142.3 506.4 144.1 497.1 153.8 496.6 157 497.4 147.9 504.4 143.6 507.2 149.8 510 154.5 490.9 143.3 501.8 149.7 504.2 156.9 492.7 150 504.5 152.5 492.1 143.1 492.6 159.3 495.7 152.3 498 158.5 493.3 139.1 503.2 166.8 498 142.8 498.4 168.6 493.5 136 499 161.3 500 155.9 495 145.8 494.5 165 501 140.8 493 164.1 498.7 136.4 502 163.9 492.8 138.5 492.6 149.3 504.4 141.8 496.7 154.3 496.3 161.7 502.5 149.8 488.6 161.9 497.1 156.7 511.8 149.9 496.2 162.4 497.9 155.4 496.6 149.6 498.1 152.4 499.1 166 498.9 140 478.3 159.4 489.4 149.8 508.6 156 496.3 146.8 502.8 156.5 504.1 137.7 497.5 139 497.3 149.6 506.6 155.2 512.4 158.2 502.6 141.1 500.9 141.9 509.3 161.9 509.9 158.3 494.5 154.6 505.8 162.8 500.5 151.8 501.9 160.2 491.8 152.6 508.9 154 502.6 155.6 502.1 142.6 495.2 157.9 495.8 158.7 498.4 160.9 504 136.5 510.8 153.9 503.5 136.8 496.1 156.6 497.1 160.5 504.8 143.5 501 153.5 498.4 145.1 502.2 157.3 503.4 136.5 499.7 149.2 510.3 156.4 502.5 159.8 499.6 150 503.1 158.9 504.4 143.3 498.7 165.9 496.8 153.6 496.4 151.2 500.4 148.9 501.4 150.9 496.3 140.2 498 141.5 499.1 127.9 498.7 168.7 504.6 127 505 154.4 498.9 140 501.4 148.8 498.1 150.1 497.8 156.4 503.5 155.1 497.3 155.4 496.7 161.2 502.3 176.3 504 149 498.6 152.5 498.2 156.8 501.2 156.4 502.9 155.3 498.7 153.8 505.9 152.9 488.6 146.1 496.6 155.1 506.2 167.2 511.4 155.7 504.2 147 504.6 159.5 501.5 153 493.1 136.5 490.6 164.2 500.3 152.3 492.7 160.5 491.4 154.8 502.5 166.5 505.5 157.8 495.4 149 500.4 147.1 510.8 155.5 499.2 169.8 502 149.3 501.6 151.4 502.2 152.2 492 153.2 499.5 149.6 497.6 156 496.7 149 495.4 156.3 501.7 150.5 485.5 158.8 502.2 167.8 503.8 158.3 496.2 153 494.8 135.1 497.6 161.1 495.3 154.9 503.4 140.4 499.8 145.8 500 148.7 497 147.5 498.9 163.3 485.4 152 509 145.8 487.7 170.5 505.3 147.6 504.8 147.6 512.2 144 497.3 152.5 500.8 139.1 496.6 154.4 500.9 138.5 503.7 142.6 506.5 146.1 499.5 142.5 494.9 161.9 498.7 136.5 509.9 149.4 493.2 142.4 510.2 159.9 505.9 166.9 503.8 171.1 500.3 153.6 499.7 146.6 499 144.8 495.6 145.6 504.9 150.9 494.4 154.1 505.1 159 493.9 150.1 497.9 164.6 501.2 160.3 500.3 146.8 496.3 149.3 503.9 139.8 504.9 156.3 506.5 149 499.9 152.2 509.1 165.3 506.2 154.5 512.4 165.9 501.5 160.8 499.6 160.6 494.3 145.7 505.4 167.7 500.9 149.9 495.3 162.5 499.4 148.8 502 136.4 500.8 166.4 505 162 499.9 151.9 494.5 156.4 498.5 171.2 512 146.3 507.2 171.7 501.3 144.1 497.6 139.4 495.9 144.4 499.9 142.1 490.9 163.3 504.3 155.2 502.1 152.2 501.7 158 492 151.1 506.9 145.2 494.4 164.3 500.7 158.8 518.9 169.1 502.7 146.9 504.2 159.4 491.5 135.5 505.4 136.8 497.7 165.8 490.1 156.7 498.9 149.6 504.2 153.5 505.2 153 502.5 154.7 506.5 150.3 495.8 166.3 501 159.6 502.3 152.5 503.9 160.4 503.2 171.1 502.3 168.4 500.3 148 493.1 158 498.1 152.1 497.3 150.3 497.6 160.9 497.7 139.6 489.7 168 498.1 168.7 495.2 157.7 505.9 153.8 496.1 167.3 498.4 153.2 493 148.8 498.3 151.2 500.5 166.3 492.9 152.6 517.1 168.5 517.1 144.2 504.7 140.2 493.7 147.4 499.2 147 506.3 151.9 496.4 167.5 504.6 159 497.9 157.6 499.3 161.7 490.7 151.3 501.6 155.3 502.8 155.6 504.6 155.3 510.3 152.4 500 159.4 494.2 152.9 491.7 162.5 500.7 168.9 498.6 160.7 499.8 151 504.4 155.9 483 154 499.7 159.2 498.6 147.6 510.5 162.8 494.1 145.4 496.2 164.5 515.8 164.2 512.4 148.7 502 142.5 501.2 141.1 497 137.6 511.9 136.4 486.3 141.7 498.7 154.4 491.7 151.5 507.2 164.7 510.2 143.1 498.7 160.1 500.6 156.3 493.6 137.5 494.7 154.8 492.9 142.1 494.3 153.1 507.3 136.9 507.5 164.7 505.4 127.4 499 161.1 500.3 157.5 504.9 139 505.7 142.7 496.6 151.9 502.9 145.2 499 147.2 491.9 154.3 511.4 163.8 505.6 155.4 496.6 139.5 497.2 157 495.8 152.5 494.8 161.3 496.6 167.4 501.4 142.4 508.5 141.6 492.9 152.9 494.4 159.4 500.7 154.8 505.9 159.8 504.7 145.6 501.9 151.1 499 141.4 503.1 153.3 501.2 152.2 504.3 144.6 494.8 152.4 490.8 152.8 499.8 163.9 501.7 137.4 506.7 157 494.3 158.2 492.9 133.7 504.9 133.2 507.9 162.3 499.3 138.5 498.8 138.4 515.8 158.1 497.6 152.4 496.9 167.2 505.3 153.4 503.5 156.7 492.1 154.2 504 153.1 500.4 161.8 497 174 505.5 138.8 503.2 153.3 498.6 160.4 504.3 170.9 504 148 507.5 158.4 497.7 153.9 497.2 150.8 499.5 148.9 501.2 155.1 499.4 153.7 498.9 155.3 489.6 166 496.6 148.5 497 139.1 499.5 156.9 497.1 157.3 496.3 163.7 503.5 145.4 501.7 158.5 509.3 149.3 497.3 157.8 498.7 152.3 509.1 149.8 509.4 164.5" marker-start="url(#cpl)" marker-mid="url(#cpl)" marker-end="url(#cpl)"/>
<path class="p" d="M506.4 110.7 503.7 118.5 510.5 109.1 501.7 124.1 506.8 118.9 503.3 117.5 490 111.4 498.4 123.2 506.5 116.3 505.9 98.8 500 136.3 499 118.1 507.5 111.2 496 123.1 515.5 105.6 514.8 114.1 506.5 116 517.7 106.8 503.4 119.6 505.9 131.2 501.1 115.8 500.4 116.8 507.3 105.9 510.8 112.6 510.9 109.7 497.7 104.7 505.8 120.2 508.9 123.9 511.6 102.1 506.2 112.2 508.7 115.7 503.6 120.5 501.8 136.7 504.3 105.4 506.6 126.2 515.6 121.2 495.7 112.9 508.3 113.2 509.2 118.2 507 115.3 514 97 492.6 114.6 517.7 116.5 510.2 127.4 516.2 91.4 509.3 99.9 515 101.5 506.2 103.8 513.7 106.8 503.1 111.7 512.1 100.1 502.3 97.5 514.1 130.9 506.3 110 513.7 101.3 507.2 127.3 502.8 103.2 509.9 119.7 504.6 115.2 494.9 111 506.2 103.7 489.8 121.3 508.5 120.7 499.3 106 498.3 119.2 503 125.1 506.3 105.2 512.5 95.9 504.8 155.3 505.9 100.3 508.2 105.8 514.7 110.9 503.3 111.5 519.2 125.6 507.1 117.8 507.5 104.2 507.5 111.2 500.3 115.3 497 101.9 504.2 130.2 503.8 104.9 503.2 116 497.5 112.3 502.4 108.8 500.3 127.1 510.8 122.8 502.4 135.8 496 125.6 500.3 97.6 503.3 113.8 518.3 113.7 502.3 116.5 504.7 98 502.8 119.3 515.7 106.8 496.8 121.9 507.5 109.1 506 106.9 507.4 117.5 515.1 107.4 508.9 108.1 501.2 127.1 509.4 94 496.5 122.5 503.7 115 493.4 94.1 499.4 122.6 512.9 99.2 509.5 115.4 510.5 100.3 504.4 102 520.3 75.2 510.6 115 517.7 97.9 500.3 127.6 514 120.9 517.1 99.8 520.1 125.5 500.5 105.8 504.3 102.4 515.9 124 502 118.4 508.3 134.5 516.2 117.4 516.3 97.2 506.9 100 512.1 107.4 518.1 85.1 508.8 102.2 496.6 129 516.1 98.3 502.7 111.8 499.6 121.4 514.5 126.8 512.1 103.3 506.9 103.9 497.7 112.9 505 108.6 513.1 115.1 511.1 93.5 501.8 132 513.4 102.7 505 104.8 504.5 123.3 503.7 114.2 508.1 115.7 484.3 111.9 512.3 115.4 509.3 110.5 501.1 122.5 504.3 115.6 496.1 104.6 499.4 97.7 519.1 123.6 516.2 115 510.9 105.6 507.6 119.8 526.3 98.3 494.8 118.5 498.5 117.8 502 126.5 518.5 106.2 504.3 110 523.7 96.8 506.1 104.3 514.4 101.6 503.1 127.5 496 106.7 502.5 99.6 502 108.8 502.6 121.3 507.6 119 503.9 97 515.9 98.6 506 125.2 507.4 118.9 506.4 92.3 500.2 105.2 515 115.2 509.6 111.4 501.3 100.6 512.9 116 507.9 116.3 503.4 109.3 504.8 95.6 508.8 98.8 516.2 103.3 504.8 99.9 509.3 112.8 503.5 132.6 511.3 121.3 511.5 104.4 507.5 109.1 505 98.4 495.3 127.5 501.3 101.2 510 116 501.1 131.9 500.9 117.5 512.2 116.4 501 120.8 492.9 115.7 507.9 104.2 515.7 108.3 507.7 108.8 520.4 102.4 504.2 124.4 507.8 92.1 508.2 108.5 509.5 104.5 504.2 133.6 503.6 105.8 514.3 120.9 506 82.7 498 125.8 514.5 116.9 523.3 127.5 520 101.8 510.3 97.8 510.1 114 508.2 113.1 498.7 122.7 502.6 107.4 512.2 123.3 506.3 105.7 499.2 110.1 509.8 97.1 517.1 87.2 515 124.6 505.8 114.3 502 113.5 502.2 112.7 528.7 105.9 504.1 116.8 496.2 117.9 491.8 121.5 501.7 98.3 498.8 127.4 517.8 106.8 512.8 116 504.3 99.4 495.6 114.6 511.7 123.8 500.1 115.5 494.5 125.8 493 108.4 505.3 119.1 503.6 120 505.8 127.6 494.4 99.5 500.8 124.8 506 119.2 503.1 122.7 512.5 106.1 497.6 100.9 499.1 107.1 506.3 107.3 507.4 123.9 517.2 99 508.2 109.6 501 101.8 514.5 101.1 492 113.4 514.6 109.8 504.1 102.5 512.5 89.7 512.4 97.6 499.4 102.1 496 114.5 498.4 129.1 507.6 91.2 493.1 123 506.3 100.7 494.8 106.7 514 105.2 505.1 118.3 502.9 106.8 510.4 131.7 492.4 107.5 507.8 112.3 494.5 108.8 495.6 125 514 117 498.7 105.7 486.2 130.8 507.9 100.7 512.4 114 514.2 105.8 504.4 119.6 496 121.3 513.2 116 504.5 110.1 518.9 112.6 509.1 106.4 504 110.7 506.8 133.6 519.3 136.7 500.2 122.7 510.6 122.9 505.9 127.6 525.6 89.8 522.7 100.1 509.7 132.1 523.3 92 509.3 125.7 504.1 107.8 508.7 108.6 509.1 127.4 515.4 100.4 508 87.2 511.6 121.6 522.2 111.6 502 110 504.9 123.1 509.2 87.8 501.5 110.4 521.7 120.7 514 96.5 513.7 102.4 513.6 100.2 493.7 117.5 502.5 111.7 508.7 104.5 499.7 123.5 507 116.3 507.9 122.4 508.3 115.6 511.9 108.3 502.3 122.8 508.1 120.6 514.2 102 520.7 109.6 499.8 116.9 506.2 107.9 504.5 115 500 129.5 499.7 106.8 504.1 117.4 509.7 126.9 507 105.7 502.7 113.3 509.1 95.9 507.7 105.4 506.3 110.2 500.2 105.2 506.6 114.7 503.4 113.8 505.7 122.4 500.1 105.7 508.1 102.1 509.9 112.7 495.3 129.6 499.7 116.1 509.1 108.8 501.5 121 512.8 110.6 508.4 103.1 513.4 99.8 496.4 95.3 505 112.6 507.8 114.2 499.1 98.4 502.6 131.4 514.6 101.2 509.5 101.3 503.8 100.4 515.5 122.3 505 117.1 510.4 118.1 507.7 106.2 505.2 109.5 496.9 118.1 507 94.1 510.6 103 504.8 137.1 501.9 134.4 518.8 114.8 506.2 110.8 509.2 107.6 497.7 111.4 503.2 116.4 498.5 106.3 511.6 114.3 524.9 125.3 488.7 125.4 522.8 95.7 498.3 107.2 509.2 123.7 497.1 113.8 502 106.7 510.9 97.2 517.3 117.6 513.8 108.7 510.4 107.6 508 109.5 509.7 103.5 493.7 98.3 506.4 95 507.9 115.5 510.2 104.6 496.7 116.4 506.2 122.2 510.8 107.3 510.7 128.7 520.9 117.1 505.3 119 517.4 111.2 494.3 118.8 508.5 101.9 511.3 115.2 508.7 102.5 505.1 136.5 525.5 88.2 506.1 122.9 514.5 125.3 507.8 109.3 517.3 106.7 493.6 113.4 516 120 507.9 114.5 515.7 131.6 515.6 102.2 512.4 124.1 513.4 106.8 509.7 112.3 501.4 135.7 510.1 104.3 508.5 98.4 508 114.4 510.9 101.6 513.4 114.7 511 111 501.9 100.6 503.4 130.8 504.4 111 515.7 130.2 506.3 105.5 508 106 499.8 132.2 502 95.6 508.8 125.8 507.3 98 507 99.2 502.2 102.7 503.1 117.5 492.4 118.4 506.8 121.3 500.1 123 502.3 96.2 507.9 104.7 504.5 116.8 502.9 91.8 513.2 113.6 494.6 131 497.4 130.1 508.6 98.9 506 96.7 507.1 118.8 501.2 120.8 506.1 100.4 510.1 107.7 497.6 116.5 512.1 112.2 519.1 105.9 495.3 121 505.5 131.3 502.2 117.5 508.8 115.9 503.8 110.3 510.1 120.8 515.4 103.9 503.1 98.3 505.6 126 502.8 122.4 503.2 133.7 498.5 100.4 511.9 109.8 510.1 102.8 513.7 105.4 507.5 109.4 510.7 105.7 497.9 109.3 515.8 102.3 509.4 117.5 499 126.1 509.3 101.5 512.5 118.1 508.5 103.3 505.3 109.3 511.4 93.9 502.5 108 501.4 116.8 511.6 117.8 494.2 138.3 505.6 118.6 496.9 120.5 509 124.2 499.9 112.4 504.4 121 508.6 124.6 503.4 118 514.6 133.9 510.7 96.6 506.2 117.5 513.3 136.5 501.3 96.2 501 112.5 502.3 107.1 496.7 93.2 506.8 103 505.6 115.4 507.5 116.3 509.5 126.2 505.5 101.9 508 111.6 503.9 119.1 507.1 104.6 510.9 124.3 513.9 109 505.3 101.2 505.3 120.8 498.7 124.5 504.4 102.7 524.8 82.9 505.4 125.2 518.6 107.8 505.3 111.8 507.9 117.1 507.1 102.3 510.9 131.3 494.1 121.2 502.3 123.4 507.4 107.2 511.1 112 501.2 122.7 511.6 86.6 517.7 114.5 497.5 105.9 505.6 110.4 501.2 118.3 491 99.2 505.1 94 505.2 105.9 498.5 116.6 509.2 110.8 513.2 122.3 509.7 101.5 509.4 113.9 511.1 105.8 521.1 79.3 523.2 101.8 515.3 107.7 503.7 96.5 503 132.7 512.8 121.2 510.2 117.7 515.5 106 506.5 115.7 501.5 110.7 493.2 113.9 509 119.8 511.6 103.1 507.7 120.6 500.7 119.2 508.3 123.4 505.8 96.7 503.2 106.8 509.9 107.8 507.8 131.2 505.5 90.1 503.5 120.8 509.2 103.7 500.2 110.5 510.7 110 507.2 108 508.9 103.2 507.1 93.7 510.6 127.1 514.1 100.3 503.3 118.3 505.8 122.1 506.2 116.3 506.5 94.1 499.4 123 515.7 104.2 503.2 96.6 505.4 124.8 506.6 115.2 511.6 101.4 512.5 109 502.4 102.5 501.1 119.7 508.5 130.2 496 110.9 501.7 105.8 504 108.7 502 126.6 510.4 105.9 502.2 105.1 502 108.7 502.4 118.8 522.8 88.4 515.1 120 501.1 122.8 520.7 122.9 502.8 135.3 506.3 117.2 501.1 129.1 502.3 123 504.2 124.8 517.1 114 521 100.8 512.4 114 500.5 119.9 496.1 126.4 513.7 104.6 520.6 102.5 505.1 126 500.6 123.1 515.1 73 506.7 127.9 513.2 109.9 497.4 128.5 502.3 126.1 508.7 125.4 510.9 79.4 514.2 122.3 508.5 127.9 515.3 109.8 513.1 99.4 508.3 105.9 506.9 128.8 514.7 123.8 506.8 121.9 511 89.4 498.2 119.1 511.3 118.5 505.7 125.7 507.9 131 516.6 84.4 503.4 116.6 517.7 107.9 509.6 105.8 512.4 98.9 503.5 114.5 513.9 112.8 503.1 95.1 515.2 111.6 517.2 118.8 507.7 99.1 510.8 116.1 513.4 115.5 505.3 104.9 498.5 115.3 507.4 99.1 515.5 106.7 503 104.5 505.4 90.8 509 124.6 518.2 99.9 510.9 131.1 513.7 111.4 502.9 110 507.9 102 500.3 110.7 520.4 111.2 508 108.9 507 96.1 502.2 130.6 503.5 110.4 512.8 112.5 500.1 128.7 503.8 111 503.9 110.8 510.9 101.8 513.6 102.8 502.5 117.8 522.3 110.8 502.8 109.1 512.1 113.5 506.5 129.6 494.7 122 504.5 113.6 508 127.7 500.8 93.8 510.5 120.3 503.6 107.9 506.5 90.3 500 117.5 504.7 122.8 504.9 110.6 507.2 112.6 518.7 111.3 503.6 102 500 105.5 503.2 112.8 511.4 129.5 513.7 90.7 514.3 109.1 507.5 124.7 491.3 99.8 510.8 132.5 503.1 131.5 510.4 100.4 521.8 92.7 511.7 106.6 504.9 124.2 501.9 96.2 504.6 114 502.1 125.7 512.4 108.5 507.1 103.2 515 100.6 509.6 115.1 506.5 118.1 499.5 122.9 507.5 99 504.7 117 508.9 105.4 505.6 111.1 511.6 111.6 510.7 104.4 500.5 116.4 503.4 127.2 506.6 102 521.9 103.2 494.6 116.6 513.1 106.9 501.5 120.2 508.7 106.7 493.2 140.8 495.6 125.7 524.9 113.3 507.8 126.7 511.8 118.1 513.4 93.9 508 105.1 512 82.2 507.6 103 503.5 112.9 500.7 124.5 519.3 110.3 517.1 128 500.9 111.3 505.1 115.9 504.4 117.9 501.2 96.2 502.2 117.1 508.1 108.6 507 113.3 516.1 124.6 510 104 501.1 96.5 505.3 94.3 508.9 115.9 513.9 104.1 516.1 92.9 504.9 107.5 495.6 116.8 500.9 113.6 511.7 108.1 519.3 101.5 517 100 503 116.2 513.6 134.5 498 111.3 496.8 108.9 509.9 116.5 512.4 120 513.9 97.1 497.4 106.5 510.7 116.7 507.1 125.4 499.5 123.1 504.8 114.3 514.5 109.4 506.4 102.5 515.9 115.4 512.9 115.9 509.3 116.4 511.9 114.3 509.9 115.2 509.3 102.2 504 95 510.7 114.9 507.2 113.2 508.1 104.5 498.6 132.5 497.4 122.9 508.4 126.4 508.5 122 503.2 122.4 496.4 107.1 513.7 121.6 515.1 126.5 515.3 115.9 501.4 121.5 496.9 115.7 505.2 122.3 511.6 98.6 509.1 114.6 512.4 115.7 507.3 131.2 503.7 120.4 506.1 128 507.1 121.3 502.2 103.3 494.4 145.7 508.2 130 495.4 111.8 498.5 113.5 503 98.3 509.3 112.4 512.4 120.1 513.1 111.5 499 111.6 510.9 107.4 499.6 131.9 514.3 121.8 504 99.6 515.4 114.5 511.6 110.8 502.9 127.2 512.5 112.9 510 109.3 519.2 123.9 502.4 113.2 503.7 100.4 507.4 121.1 509.2 87 506 112.5 512 113.4 514.1 118.7 503.4 124.3 505.3 119.5 501.1 131.4 530.9 120.1 512.9 117.6 504.9 109.2 507.8 138.4 498 121.9 504.9 110.6 509.1 116.5 510.9 118.4 500 124.8 510.3 112.2 500.8 119.4 506.2 117.6 508.7 102 504.5 98.3 512.8 108.7 499.7 101.4 508.2 106.7 517 115.4 513.9 105.6 515.7 108.5 508.9 132.8 512.1 119.2 512.4 103.6 495.4 105.7 513.3 123.5 510.1 118.7 508.2 120.3 500 115.9 508.4 128.6 507 105.6 520.2 95.6 505.7 117.4 510.5 119.6 503 104.5 509.4 112.8 517.9 98.5 510.4 126.2 510.5 121.5 495.4 110.5 506.3 123.4 508.4 117.1 513.5 118 512.5 110.9 496.3 117.1 512.8 104.3 506.3 100 518.7 113 499.5 118.1 517.4 119.2 497.3 117.3 507.8 95.4 496.3 119.4 495.6 113.8 511 123.8 513.6 115.6 509.4 111.8 512.5 93.9 499.7 105.6 524.7 110.1 508.7 125.4 509.8 117.2 514.4 133.4 511 109.5 511.5 112.5 502 111 510.5 96.4 509.7 127.5 513.7 94.2 496.2 120.1 511.3 114.2 511 99 495.8 118.1 507.6 101.2 515.6 117.1 493.8 113.9 503.6 135.2 508.8 120.7 506.3 124.7 496.2 96.4 511.5 109.8 496.3 126.3 501.5 122 505.2 120.3 494.7 108.3 510.3 131.7 503.3 129.7 506 107.6 518.5 98.3 501.8 118.2 506.3 122.7 511 126.1 511.7 127.7 494.8 106.7 511 112 498.9 120.2 508.3 103.5 518.1 105.8 510.6 119.9 502.6 107.1 497.5 122 511.2 112.5 502.7 104.9 514.4 104.6 505 97.1 518.7 104.2 515.3 93.1 498.1 133.3 519.3 96.9 509.4 98.3 513.5 88.4 501.5 98.8 507.2 124.3 508.6 114.9 507.8 116.2 509.5 124.3 509.6 113.2 499.5 117.9 496.5 122.9 518.1 112.4 507.7 122.2 498.6 103.9 506.4 115.7 502.6 109.1 503.3 111.6 515.2 122 509.7 102.5 500.5 105.8 516.1 109.7 506.4 124 504.3 116.1 507.3 113.3 512.4 103.7 513.1 122.2 496.9 122.9 497.7 123 509.4 109.6 505.6 108.1 506.3 127.3 500 103.8 506.2 125.7 510.5 116.4 500.4 121.2 502 102.8 503.1 134.2 512.4 95.6 510.7 112.9 512.3 131.1 508 100.7 506.9 119.7 500 107.2 505.5 105.7 514.6 96.1 490.5 114.5 511.7 100.7 516.3 105.1 503.7 115.4 492.8 121 492 112.5 511.4 113.7 500.1 104.2 516.2 114.2 504.6 99.8 500.4 112.6 501.8 122.6 504.1 114.6 515.2 122 514.6 124.1 500.4 122.4 515.2 98.5 499.4 112.9 500.9 111.9 510.1 124.7 499.9 117.7 513.7 98.5 507.2 135.4 501.7 119.2 517.2 108 503.7 127.5 496.3 126.2 502.8 114.9 498.6 91.8 508.1 117.2 498.8 109.9 506.9 110.9 515.7 118.6 503.7 107.7 502.2 122.2 502.5 106.2 514 118.8 497 113.3 511.3 119.7 511.3 96.3 506.6 101 494.9 117.6 502.1 104.8 510.6 114.6 496 111.5 506.7 119.5 506.1 117.8 516.3 125.7 512.9 107.3 504.4 137.8 505.5 108.1 502.9 107.6 505.1 91.6 499.9 104.3 504.7 119.6 506.6 122.5 495.5 105.9 502.9 124.1 509.9 111.2 517 109.1 513.7 117.1 504 114.1 515.1 114 525.4 86.4 507.4 107.8 505.3 115.3 496.6 127.3 513.4 129.1 506.5 91.5 498.5 107.8 515.1 116.7 504.8 120.2 496.8 100 505.3 105.5 507.4 114.9 501.1 127.3 518.2 101.2 508 106.2 506 135.5 493.6 114.6 505.1 112.3 514.1 108.5 505.3 123.7 507.8 119.3 507.1 108.4 506.1 139.8 516.2 101.8 518.8 116.4 513.6 106.5 507 116.1 508.1 113.6 505.4 124.6 514.5 110 503.5 124.1 492.4 108.1 510.8 101.4 507.3 113 510.9 107.7 498.7 106.9 499.9 109.4 511.6 115.6 523.6 80.1 501.2 127.7 500.3 109.2 504.5 120.7 510.7 136.5 508.3 124 499.7 104.5 507.9 135.8 513.5 121.6 505.4 102.5 515.7 105.3" marker-start="url(#ccr)" marker-mid="url(#ccr)" marker-end="url(#ccr)"/>
<path class="p" d="M429.9 109.4 454.5 113.8 476.2 106.7 460.5 120.5 448.4 112.4 431.9 105.7 449 105.2 448.4 118.4 467.2 106.4 460.8 98.4 452.7 104.5 447.6 93.8 463.4 120.7 461.6 110.9 447.7 92.1 464.1 120.1 469 104 450.6 108.9 485.4 98.1 449.6 107.2 462 104.1 468.7 107.5 442.8 116 442.6 110.1 453.5 115 436.8 108 437.7 104 473 119.4 484.5 104.5 428.2 95.3 451.9 105.1 447.3 108.1 442.4 121.1 466.9 116.4 437.7 113.3 446.6 105.4 475.2 104.8 453.8 110.9 466.4 113.5 473 104.3 454 113.8 457.6 105.2 462.1 119.3 427.8 103.1 457.6 114.4 440 112.8 475.9 109 433.7 106.8 463.9 102.9 450.7 108.7 452.7 103 444.7 102.3 452 115.6 457.5 98.5 484.9 111.5 439.5 104.3 438.1 119.7 452.8 112.6 466.9 101.5 443.9 107.2 476.4 105.6 442.2 110.5 473.9 106.4 449.8 107.3 455.9 94.8 444.9 99.4 453.5 121.9 451.3 95.5 437.1 116.9 453.1 109.6 468.2 99.1 466.7 113.3 469.8 115.7 459.8 104.3 462.9 119.6 461.3 100.9 456.2 102.2 454.9 106.1 468.2 100.6 464.7 109.4 431.9 107.6 456.2 108.8 455.8 108.8 444.7 96.7 454.5 103 446 109.6 450 86.7 431.2 109.7 467.7 101.1 447.2 79.5 449.7 116.8 470.9 109.5 468.9 104.4 465 96.8 461.5 98.8 455.6 97.7 460.1 113.2 474.2 102.1 449.8 101.2 459.6 112.4 457.2 109.4 443 113.5 468.5 104.8 474.5 112.4 455.6 114.7 440.7 105.2 455.3 99.4 455.2 112.4 463.6 98.6 448.4 115 452 105.1 430.8 120.3 440.9 101.9 431.7 109.4 459.4 105.3 441 92 466.3 103 452.3 99.5 436.7 108.8 459.7 98.8 453.8 104.3 431.6 106.1 455.1 101.4 461.3 113.6 441.5 106.6 451.5 114.5 424.2 94.9 466.1 111.7 437.2 106.4 456.3 116.2 450.7 114 468.7 112.4 436.7 97.9 453.9 103.5 467.8 100.4 462.5 113.7 474.8 103.4 472.9 99.7 410.4 107.2 410.4 102.8 456.9 112.5 463.8 111.3 450.1 122.6 472.2 129.5 460.6 112.8 452.9 106.4 454.8 107.7 470 102.9 446.5 122.7 433.3 111.2 464.9 114.9 444.6 97.9 463.3 94.5 453.3 98.5 458.5 108.5 460.4 96.9 450 115 459.8 103.1 436.2 107 454.5 102.6 446.7 103.5 435.4 105 455.9 109.9 440.6 108.3 500.4 118.5 465 112.3 435.9 102.4 472.9 98.9 468.9 94.7 440.6 93.7 444.6 110.6 426.6 109.1 424.9 108.5 451.3 116 455.5 102 463.9 98.7 449.3 112.7 456.4 100.4 459.3 112.3 447.3 118.7 456.4 113.9 459.1 111.8 431.5 104.8 466.3 108 460.9 95.9 464.3 107.8 456.2 95.8 459.9 97.5 433.9 110.8 447.3 107.7 451.8 107.9 457.6 116.4 453.3 98.1 438.4 115.9 450.5 100.5 454.2 112.1 458.4 110.5 471.8 121 450.1 104.6 436 114.8 434.2 103.3 434.8 102.5 457.2 114.4 475.4 117.5 485.9 101.7 449.2 106.7 446.2 103.6 433.4 101.7 454.5 110.5 450.8 109.6 468.2 112.6 481.1 94.3 458.9 120.2 440.7 108.3 458 110.3 433.5 92.1 455.4 108.1 450.2 113.2 464.2 107 456.4 92.3 473.6 99.8 465.9 130.9 463.9 98.5 467 98.1 446.2 112.6 461.6 112.1 454.3 112.5 457.1 115 477.5 100.3 464.2 104.6 466.7 101.8 467.5 96.4 451.8 102.6 422.1 112.8 453.3 92.5 433.3 96.1 457.4 108.1 436.6 85.2 469.6 102.2 444.1 100.2 461 110.5 433.8 119.2 452 106.7 454.8 109.7 463.9 110.3 453.9 110.7 450 112.3 481.2 100.3 449.7 111.2 437.9 108.6 460.3 97.9 449.9 109.3 445.3 118.3 454.6 104.4 470.6 109.2 437.7 110.7 461.1 109.2 452 105.8 453.7 112.7 466.8 103.9 479 107.8 449.4 118.2 441.5 109.5 447.1 102 475.6 98.6 469.6 97.3 443.8 103 444.2 104 457.8 99.6 467.7 104.9 467.9 111.7 450.6 105 459 113 465 103.3 463.1 111 481.1 102.2 450.3 103.5 455 105.4 458.4 108.1 434.9 110.3 458.6 117.2 472.9 108.2 460.5 111.2 457 107.1 470.7 98 451.1 101.4 451.3 105.4 463.6 114.9 436 124.9 442.5 119.7 458.1 86.7 458.4 94.7 446.5 109.6 449.9 108.7 447.5 105.2 459.7 116.4 442.8 115.5 456.8 104.2 441.8 102 452.4 113.1 463.7 112.4 442.9 120.1 458.5 114.1 451.9 127.2 458.6 104.4 459.2 114.9 444.9 96.9 432.4 97.8 470.7 101.2 443.3 112.4 467.7 102.4 455.9 103.3 445.4 107.1 467.3 111.4 472 122 456 101.8 473.3 116.5 445.3 101.6 448.1 95.7 448 97.1 460.6 95.9 440.9 101.3 443.8 109.1 466.1 103.6 454.3 96.9 462.3 114.3 463.6 99.1 471.6 117.9 468.5 100.2 461.1 107.4 438.5 106 456.6 117.4 451.8 118.8 449.5 92.1 475.2 116.3 464.8 106.4 451.6 104 444.6 101.6 468.3 84 459.5 111.5 467.6 95.2 444 105.9 456.1 113.1 483.2 110.7 467.2 117.8 460.6 106.3 443 105.4 432.7 106.5 443.9 101.8 466.4 119.1 476.3 121.3 452.8 103.7 447.1 101.6 458.8 112.4 454 120.2 429.7 125.3 468.5 105.9 467.8 114.3 455 99.5 460.8 111.7 452.3 113.1 448.7 104.2 458.9 122.8 437.1 102.1 455 103.9 461.2 109.5 452.2 110.3 451.3 106.3 444.7 119.1 481 91.5 466.5 119 462.2 95.7 464.1 101.6 483.4 109.8 443.3 101 466.6 113.8 461.6 114.3 460.3 99.7 456.7 105.2 476.2 115.3 456.6 102 452.8 100.5 475.3 108.3 435.5 106 443.7 106.6 442.4 106.4 449.1 100.4 475.1 99.3 443.8 106.6 459.5 103.9 451 102 476.9 107.4 452.3 109.4 449.1 98.1 465.4 98.6 442.5 117.6 456.6 110.9 506 113 440.2 123.4 469.2 111.8 473.9 113.1 446.2 116.2 481.5 105.1 445.5 105.9 431.2 109.4 450 105.5 457.5 105.4 456.4 94.3 447.8 109.6 460.9 94.8 454 109 463.7 111.4 463.8 88.1 476.3 108.1 457.9 111.3 480.9 117 468.3 109.8 447.3 100.1 465.4 92 453.4 126.9 470.1 121.4 433.8 110 460.9 111.5 454.4 100.6 460.9 111.9 466.5 108.4 476.1 111.3 461.4 121.2 487.8 106.3 446.3 116.3 454.1 122.3 450.6 106.4 466.6 113 434 117.1 445.5 105.9 453.4 106.2 447.3 112.5 447.5 96.3 449.6 105.5 458.3 113.7 450.2 98.8 430.7 101.4 469.2 95 463.2 105.4 413.5 98.6 456.7 104.4 444.3 99 461.3 108.9 458.9 105.4 450.3 100.3 433 110.6 441.4 105.2 462.1 110.2 452.6 116.1 466.4 107.6 455.2 98.3 475.6 109.6 450 104.6 454.4 102.9 464.5 111 449.2 111 449 98.1 447 113.5 458.7 111.4 459.2 114.6 459.4 99.2 431.3 103.2 460 100 456.7 98.6 475.8 108.3 433.7 97.9 466.9 108.9 455.8 107.9 463.5 106.4 456.1 111.4 465.7 102 454.5 105.1 446.1 112.8 459.8 101.5 451.5 103.6 454.3 110.8 466.4 110.2 443.5 111.4 449.7 120.3 446.4 106.3 458.3 104.2 449.5 103.8 472.2 106.4 452.2 107.6 466.3 97.5 466.7 113.5 466.9 113.6 447.2 107.1 460.9 116.1 470.6 110 447.5 106.4 485 110 443.5 100.5 438.4 98.9 448.3 111.5 455.1 103.2 433.6 105.5 448.8 102.8 462.4 91.6 454.6 88.7 443.5 107.4 479.4 114.2 468.4 101.4 445.3 103.2 479.3 109.3 473 108.9 432.2 106.2 425.1 108 431 115.7 445.7 109.6 457.9 116.1 458.3 114 450.1 112 469.6 114.1 462.4 93.2 456.2 92.5 471.7 110.7 420.6 97.6 449.4 107.3 468.4 101.6 433.1 119.5 456.6 115.6 464.2 117.5 462.7 98.7 454.1 119.4 440.3 111.8 445.6 112.5 455.1 116.6 430.9 111.5 460.6 115.3 451.2 115.7 436.8 111.6 475.6 99.2 449.9 103.5 441.3 94.2 480.3 125.1 478.4 111.7 471.5 125.6 451.2 105.3 481.9 101.9 461.6 110.4 448.8 105.7 454.6 96.9 446 104.2 445 109 453.4 95.2 443.2 119.2 466.1 90.3 461.2 103.2 452.4 104.4 457.8 107.4 461.3 106.3 456.6 113 463.6 114.1 444.5 101.3 470.8 100.2 446.3 108.6 467.8 90.8 446.3 116.5 443.5 107.8 462.5 104.6 415.4 106.6 462.7 115.7 440.4 100.4 447.8 104.2 459.9 113.9 456.8 109.9 460.9 105.8 464.2 100.7 446.1 102.1 447.5 96.1 451.5 114.7 436.9 106.8 431 111.2 467.8 111.2 457.3 99.3 476 105.4 434.1 89.4 426.1 106.1 446.5 106.7 449.3 102 440.4 105.7 473.4 107.4 448.5 105.7 467.2 114.8 456.7 108.3 444.7 116 467 96.2 470.7 110 474.1 116.2 440.9 92.3 453.2 112.3 450.8 113.6 445.5 97.8 460.1 106.5 454.5 102.5 441.4 113.6 488.5 116.4 443.7 91.9 452.9 98.2 439.8 121.6 452.1 106.7 463.1 98.9 441.6 104.8 451.2 111.9 442.5 103.5 449.6 110.1 458 92.3 458.9 103 472.2 115.3 479.1 106.4 451.5 91.4 453.5 109.8 435.4 111 455.7 118.9 454.9 100.3 457.7 98.9 440.8 97 456.2 101.3 459.8 92.4 469 114 441.1 103.8 467.3 107 455.6 107.7 454.2 99.8 471.7 89.5 445.2 108 472.7 96.2 450.8 100.2 463.8 116.9 455.9 118.6 452.1 115.1 472.5 79.8 443.3 95.9 448.8 107.9 450.4 111.8 447 101.7 470.3 117.3 435.6 104.1 459 102.1 442.4 99.5 468.1 104.1 453.5 98.4 465.4 99 464.8 119.3" marker-start="url(#cst)" marker-mid="url(#cst)" marker-end="url(#cst)"/>
<path class="p" d="M558.5 178 537.4 195.7 526.2 189.2 549.4 203.5 541 187.7 556.4 191.7 555.6 180.4 561 194.4 536.8 190 540.8 187.2 532.4 181.1 562.6 190.8 554 191.2 529 185.7 573.5 184.9 555.6 182.8 538.6 185.1 527.1 192.1 542.2 195.4 529.6 186.3 553.8 188.5 531.6 185.6 518.8 188.8 564.6 186.1 532.2 194.8 571.5 167.8 548.2 202.1 566.6 193 553.4 193 539.7 185.7 531.9 182.5 532.9 182.3 568.6 196.2 550 191.6 524.3 182.7 544.1 190.6 541.3 188.6 546.6 168.6 515.8 195.4 543.3 185.1 546.1 190.3 550.1 184.2 515.9 183.8 550 197.9 533.8 183.5 512.2 195.7 506.3 188.6 566.2 197.6 538.1 198.2 557.9 196.3 562 185.8 524.1 197.7 537.1 187.7 571.6 193.2 528.5 189.5 506.8 192.1 558.1 192 535.1 202.3 532 193.9 548.2 196.9 541.2 183.4 541.1 187.1 555.4 186.1 528.1 174.2 545.3 193.3 555.8 189.9 533.8 186.1 527.7 194 556.6 192.5 541 177 547.6 199.3 572.3 203.7 552.5 177.1 542.8 178.8 525.2 193.3 534.4 192.7 552.6 186.8 536.5 181.7 527.5 178.6 576.5 212.8 552.2 190.5 581.7 187.1 569.1 188.9 543.6 177.1 551.6 186.6 542.2 190.9 572.9 192.6 532.4 184.7 537.3 187.1 525.5 188.2 568 182 542.2 185.3 546.6 184.3 554.2 192 567.9 187.6 543.5 190.2 539.7 185.5 607.5 187.5 537.6 182 524.1 182.1 505.2 176.9 548.2 191.7 510.3 203.9 546.6 192.2 513.5 181.2 535 184.4 549.8 190.1 555.9 192.8 527.9 186.8 534.3 184.3 545.5 202.5 560.2 181.7 539.9 194.5 565.2 191.9 568 192.8 525.5 180.2 566.1 190.5 537.7 180.9 533.6 186 547 189.6 549.1 189.6 597.4 190.8 573.9 186.3 549.2 195.2 528.8 192.6 556.2 183.1 528.5 186 527.8 179.3 541.9 191.5 511.7 187.2 546.4 187.4 523.6 203.1 561.6 191.9 565.7 198.1 563.4 177.1 537.2 179.7 576.8 191 544.8 189.3 566 190 535.6 182.5 565.7 188.6 543.9 194.8 529 191 515.5 184.3 551.7 195.9 531.9 179.4 542.4 182.8 539.9 185.5 528.6 189.8 542.2 185.6 535.1 181 558.4 192.1 552.6 191.8 533.4 187.8 542.7 183 509.1 179.8 550.3 191.7 552.2 184.9 537.4 179.4 541.5 188.2 549.9 189.9 533.2 178.3 532.1 191.6 575.8 180 556.7 201.9 565.8 187.8 559.2 182.3 535.5 169.2 547.9 194 534.7 193.3 553.1 184.4 548.3 175.7 538.8 177.3 564.9 190.1 541.7 185.8 592 207.7 525.2 201.2 589.2 200.6 535.8 195.9 535.2 198.3 552.8 202 538.5 186.2 545.1 196.3 534.7 184.4 534.7 192.6 567.9 194 538.1 182.6 535.7 204.1 544.6 200 534.4 181.7 554.4 192 530.7 195.7 564.7 202.3 522.1 195.2 526.3 183.2 567.5 189.8 535.9 200 568.7 187.2 547.6 186.8 523.2 190.7 572.1 193.8 539.5 185.3 528.2 183.1 566.7 191.8 574.7 182.9 601.9 189.5 542.4 201.7 545.8 196.8 551.5 186.9 542.8 192.5 544.9 189.2 507.5 180.8 534.4 174.5 568.3 199 543.4 192.9 549.7 186.3 576.9 181.7 563.9 191.2 540.2 189.3 541.1 188.8 551.6 190.7 525.4 186.1 537.3 189.6 538.7 168.7 529.9 177.2 514.4 184.7 552.2 185.3 539.1 197.6 515.6 175.2 542.2 182.3 540.7 189.5 565.3 195.2 558.6 189.8 539.1 184.2 527.9 183.5 533.2 197.5 522.7 194.3 539.8 196.9 558 189.4 568.8 185.7 593.6 200.9 550.5 197 572.8 195.7 576.2 193.9 533 199.4 541.4 187.7 559.5 186.2 509.4 188.4 543.4 195.6 568.9 181.6 549.1 174.9 549.8 196.1 528.7 184.8 550.6 185.6 564.3 179.9 541.3 192.2 529.7 198.6 527.7 185.9 522.4 187.8 568 178.5 525.5 191.4 570.9 181.4 515.2 178 569.1 183 572.2 190.3 538.6 182.4 532.3 175.4 528.4 184.9 554.1 193 525.3 180.2 533.6 183.1 550.2 192 548.7 182.9 542.1 179.2 554.2 184 550.8 189.9 541.7 182.9 544.6 183.1 533.3 189 572.4 186.7 540.6 189.5 567.5 197.1 567.1 178.9 548.9 178 523.2 201.3 529.9 194.1 548.1 197.4 540.4 185.5 542.3 187.1 537.7 176.9 558.1 185.7 561 196.1 575.9 189 544.3 184.8 559.3 183.9 535 187.3 538.3 188.5 523.8 193 558.9 179.4 543.6 190.6 533.9 193.7 539.5 194.9 539.6 179.8 531.2 184.4 563.4 188 561.1 191.9 545.2 190.8 555.1 187.4 535.4 184.8 574.9 189 554.2 190.9 544.6 185.5 558 188.2 559.9 176.7 553.9 196.8 560.7 188.1 518.8 186.4 557.3 180.3 535.5 181.3 534.1 178.4 568.5 168.7 542.3 196.3 546.9 195.5 549.9 182.6 532.3 192.1 546.5 202.7 537.1 190.4 538.5 178.7 552.6 190.6 551 197.2 553.4 179.2 530.1 201.4 558.8 184.3 569.5 192.3 534.2 188.7 522.5 194.4 523.1 177 557.2 194.1 560 200.7 556.8 206.5 536.5 176.8 563.5 191.6 552.1 194.9 535.9 195 536.1 186.7 533.9 181.4 537.8 188.4 557.1 185.5 522.9 191.9 568.5 196.2 543.9 167.9 550.9 185.6 562.9 187.7 515.2 190.8 562.5 199.2 545.6 203.8 551.7 182.8 520.6 195.9 546 185.7 545.9 187.4 578.9 186.6 535.4 175.1 552.8 180.7 504.6 185.2 551 179.2 565.1 184.3 571.1 176.4 550.3 182.8 542 191.4 558.8 189.5 537.9 175.3 499 190.7 543.2 188.2 576.8 185.5 531.2 188.4 557.4 184.4 545.6 181.9 552.9 180.7 554.2 189.9 524.3 183.7 534.7 180.5 530.6 192.3 522.4 192.6 547.5 185.8 548.3 187.2 543.4 181.5 521.5 188.1 530.1 183.8 568.2 184.1 526.6 193.4 557.1 191.5 586.8 189.2 544 189.4 510.9 179.5 536 181.2 527.7 180 546.4 186.7 540.2 192.4 536.1 185 556.3 188.5 542.5 191.9 559.6 182.6 576.6 198.6 524.4 184.7 575.1 194.6 554.5 184.5 580.8 196.4 557.9 185.5 548.5 190.7 543.8 194.6 562.9 179.7 557.5 178.6 552.9 197.5 522 188.1 539.3 196.2 550 197.1 533.6 191.1 556.5 186.5 571.6 190 528.5 200.4 535 189.8 540.7 193.4 559 199.8 518.2 179.4 572.3 188.8 534.9 185.6 572.4 199.1 541.9 196.2 560 183.4 537.3 183.3 528.5 190.6 533.3 195.5 533.7 196.4 497.9 194.2 517.8 192 531 191.6 525.6 183.2 528.9 189.1 573.2 187 535 196.9 533.9 189.1 536.7 180.5 496.3 185 547.9 194.6 551.9 189.2 549.6 182.9 507.3 184.3 541.9 182.5 517.8 184.8 523.2 186.5 519.5 180 571.9 188.7 538.2 193.6 527.5 187.7 535.3 184.5 539.2 195.6 552.9 198.5 540.9 186.1 556.7 179.5 557.8 187.9 532.4 188.8 570.6 196.3 563.7 187.7 551.8 185.1 537.9 190.4 571.2 191.4 542.5 177.5 570.3 194.5 551.2 182 531.1 186 534.8 190.5 556.3 173.1 583.4 186.1 560.2 196.6 544.3 186.9 539.1 185.7 546.3 187.8 561.9 186.8 540.7 197.5 533.3 179.8 542.2 183.1 545.5 183.3 528.8 195.4 560.4 184.8 561.6 185.8 559.8 190 571 193.1 557.9 180.9 529.8 175.7 526.4 189.9 535.6 193.3 545.6 185.4 554 197.7 519.4 186 572.5 202.5 533.3 184.5 500.4 198.8 533.7 186.3 549.5 178 582.2 188.7 535.6 188 563.6 192 534.8 179.6 533.4 188.9 552.9 196.9 590.1 187.3 539.3 185.5 555.9 197.5 562.6 189 537.3 192.8 516 193.8 537.7 189 568.1 195.3 528.9 189.7 556.4 196.1 533.7 197.6 527 185.3 562.3 191.5 527.3 180.3 550.9 187.3 543.8 187.5 549.5 200.9 534 189.7 525.6 190.7 565.2 197.2 514.8 192 549.9 190.3 532.3 184.1 523.7 189.9 513.9 187.4 560.1 188 540.8 193.9 548 191 587.1 171.7 562.5 190.3 549.2 176.9 562.1 185.1 567.1 182.8 527 174.9 546.7 191.3 552.1 187.4 519.5 183.6 603.7 190.5 525.4 180.2 578.6 187.1 532.7 183.4 511.6 181.4 545.5 186.6 524.5 181.3 546.4 185.1 525.5 194.1 550.9 178.9 583 194.1 530.7 175.9 580.2 192.8 569.7 172.1 531.6 199.4 538.4 187.4 548.2 179.1 532.8 192 540.3 192.4 536.1 196.9 571.4 180.7 540.6 195.7 548.6 197.8 555.7 179.1 541 185.9 556.9 186.9 576.3 188.6 569.8 192.4 529.3 190.4 532.5 193.4 520.9 183 551.5 208.7 553 203.3 560.9 198.4 564.3 182.4 530 184.4 545.8 197.7 540.4 193.6 561.3 189.6 573.5 188.9 553.9 190.8 573.9 186.2 556.2 180.4 532.2 186.6 574.1 188.9 540.5 198.6 544.8 179.1 518.8 197.7 547.9 192.2 522.2 200 564.8 178.3 523 177.9 548.5 182.5 542.2 186 532.7 189.5 557.5 184 515.1 180.5 569.4 174.4 578.3 189.1 542.3 201.5 568.3 179.7 557.6 182.6 539.7 196.7 521.7 178.4 511.2 170.8 553.7 187.2 569.6 188 553.9 192.5 535 190.2 545.9 178.3 527.8 196 550.6 186.1 578.6 187.1 555.1 194 527.1 178.6 551.5 190.6 523.4 184.4 576.2 191.4 549.1 180.9 550.3 189.8 551.5 204.7 546.3 178.7 547.2 186.7 534.7 186.5 530.6 184.4 526.6 183.6 520.3 180.1 523.8 193 517.1 192.4 552.8 198 536.8 194.2 556.5 194.2 563.3 190.8 520.5 185 545 188.7 567 195.3 548.9 181.4 534.2 185.1 550.4 188.9 550.6 194.7 552.9 186 549.8 184 531.3 191.3 551.8 184.5 559.2 190.7 544.1 181.6 527.9 188.5 541.4 195.8 533.2 181.3 543.5 180.4 517.9 192.4 541.5 168.9 551.5 184.2 559.4 189 541.2 190.3 550.6 197 565.1 196.8 536.3 176.2 562.2 196.3 569.9 182.5 563.5 202.9 547.2 190.8 561.5 188.5 545.8 181.8 558.8 181.1 558.4 180.2 527.2 178.6 544.5 184.5 548.9 172.1 575.3 191.5 569.6 176.9 561.3 187.6 533.7 186.7 552 187.4 557.1 186.4 539.9 202.3 548.2 192.2 545 189.1 544.6 195.7 537.9 190.8 533.7 184.3 527.7 195.8 493.3 193 543.6 182 540.4 190.3 602.4 188.4 525.3 183.7 538.1 191 562.3 187 544.5 189.4 539 192 553.5 178 534.2 196.6 517.4 184.6 516 184.3 585.9 188.8 520.1 178.2 519.7 190 554.4 192.7 547.9 184.3 569.9 192.2 527.8 175.6 544.4 191 520.2 183.6 547.9 187.2 536.5 182.4 554.1 174.1 572.3 176.8 550 203.4 532.6 174.2 535.8 182.8 558.3 179.5 542.6 192.1 551.8 177.4 522 186.5 526 193.4 564 179 547.4 191.2 526.1 196.7 553.4 186.6 559.1 185.9 524.8 188.6 531.8 190.9 541.5 183.2 523.6 183.6 523.8 189.1 527 185.2 557.1 182.8 557.8 182.6 531 173.1 529.5 186.9 551.9 180.1 512.5 186 532.1 184.6 537 183.7 533.2 191.2 537.1 182.9 567.2 194.8 539.7 189.6 569.3 187.7 544.5 187.1 536.6 191.1 530.1 193.2 508.4 188 529.8 192 540.9 202 520.9 188.7 550.9 192.1 540 192.4 537 175.4 561.6 193.7 560.4 191.4 553.2 198.7 554.5 190.7 540.3 192.2 519.6 197.8 541 190.5 573.3 194.4 533.2 184.4 576.3 184.3 548.2 192 540.7 186.4 544.5 186.1 541.3 184.8 551.6 182.4 537.9 178.2 551 189.1 538.4 191.5 530.5 196.1 545 192.6 534.8 186.6 539.6 195.2 587.4 185.9 539.1 202.4 571.8 201.6 536.1 193 560.5 196.5 544.8 190.1 536.4 180.9 553.3 178.6 538.5 191.2 571.7 180.1 555.6 194.5 530.4 193.2 573.2 189.4 534.9 175 542.4 200.6 527.5 182.9 572.6 192.1 553.9 186.3 520 189.8 531.3 193.2 555.2 194.8 530.7 186.9 534.4 178.1 544.8 175.9 540.5 182 554.2 185.3 535.2 189.3 536.4 182.2 542.9 198.6 549.1 186.7 556 177.6 535.1 176.8 555.7 176.2 522.9 187.5 571.6 191.3 549.3 190.2 514.2 193.7 537.3 181.1 563.1 187.4 539.6 193.6 545 179 552.4 186.5 546.4 185.4 546.6 191.5 513.4 176.4 507.7 180.6 543.6 190.6 544.1 191.8 523.1 186.2 529.7 186.3 550 175.5 546.9 191.8 548 196.9 547.4 197.8 552 197.2 497.1 191.5 530.7 187.9 600.4 180.3 543.4 198.8 550.2 201.9 562.3 191.1 545 188.9 531.3 192.5 546.6 184.4 557.5 187.3 545.9 184 565.9 172.7 557.2 184.3 551.2 182.2 554.9 197.4 554.8 183 552.4 193.1 532.2 193.7 571 188.4 560.8 180.1 521.1 184.5" marker-start="url(#cci)" marker-mid="url(#cci)" marker-end="url(#cci)"/>
<path class="p" d="M365.4 209.4 389.8 222.6 393 219 398.8 232.6 338.7 204.9 382.2 219.2 397.7 230.6 392.4 224.3 395.3 222.5 396.7 232 354.7 216.9 342.2 217.9 402.5 244.2 341.3 231.8 387.6 223.9 350.4 224 406.5 205.7 369.5 234.9 382.5 239.1 368.9 204.5 358.5 223 375.3 224.9 391 229.9 369 239.8 388.5 216.3 356.8 218.6 336.6 232.9 399.9 238.3 357.8 232.7 407 242.7 363.7 243.7 406.8 236.8 368.2 247.3 327.3 234.2 441.4 229.9 364.6 229.9 402.4 250.2 375.8 231.4 410.5 221.6 387.5 241.3 395.8 232.1 405.2 224.1 361.1 243.7 384.4 210 342.2 219.9 358.4 233.7 400.3 216.1 396.6 240.7 380.6 248.3 364.9 228.2 370.2 209.1 364.6 227.1 388.3 226.7 349 217.9 352.3 237.6 400.6 233.5 387.7 229.4 367.9 214.8 392.5 240 359.5 245.8 354.5 206.7 400.9 233.7 369.6 222.4 356.6 239.5 387.5 223.6 376.5 241.9 367.4 234.1 422.7 238.9 365.8 220.6 384.8 216.5 410.1 227.8 377.1 226.2 375.5 215.3 416 225.6 371.5 218.8 415.2 234.2 357.6 243.4 355.6 221.4 385 225 377.4 203.4 340.3 214.8 366.1 217.6 392.3 224.9 388.2 245.8 399 217.9 366.2 228.5 355.7 243.1 390.1 226 382.1 214.6 354 230.7 385.8 234.1 397.1 215.9 371.6 254.8 406.3 229.6 351.1 203.1 358.1 233.8 377.4 232.4 392.6 239.2 388.2 259 402.5 248.2 384.6 237.6 390 232.4 339.1 224.8 362.2 260.5 367.4 220.5 351.8 218.8 359.8 239.1 365.1 238.3 368.2 215.1 402.5 188.1 322.5 216.7 390.2 245.8 407.3 226.5 399.3 255 366.8 259.5 361.9 209.6 337.9 228.1 364.1 236 416.2 236.5 358 229.2 378.7 232.1 380.2 220.9 371.8 225.2 334.9 205.8 372 226.2 347.2 236.9 368.7 216.6 350.8 230.3 418 257.3 389.3 228.3 369.7 223.2 384.7 236 392.1 214.3 400.4 216.2 406.9 231.5 372.9 222.4 356.6 195.1 402.6 218.1 350.7 214.1 432.2 237.4 391.8 210.1 377.2 221.2 383.3 219.4 388.5 232.5 393 234.3 373.2 222.2 347.9 210 389.5 241.6 375.4 233.1 366.8 239.5 400 228.3 362.9 233.4 386.1 226.9 373.4 224.5 407.3 216.7 399 230.6 381.3 248.2 387.3 219.2 352.3 223.9 393.4 204.5 352.5 218.8 376.6 257.4 361.1 225.8 407.8 229.4 371 216.8 362.7 226.8 368.7 240.1 390.9 229.2 342.5 228.2 389.1 189.8 367.8 203.7 403.6 228.3 372.5 238.2 359.5 217.2 383.9 244.8 341.9 245.2 357.2 219.6 416.7 221.1 348.3 206.7 370.8 232.7 354.7 222.6 354.6 218 341.7 229.8 397 231.3 376.2 232.4 348 242.9 387.6 246.3 350.5 228 388.6 204.5 386.6 214.4 377.5 229.4 384.8 224.7 345.6 222.1 332.6 219.8 420.3 231.3 345.2 204.3 352.9 236.9 363.1 232.8 393.5 186.5 326.5 237.9 377.2 236.7 410 206.4 399.5 222.2 344.7 222.7 396.4 233.6 351.7 235 379.4 213.4 325.9 234.6 335.8 230.9 387.6 227.6 383 215.2 340.5 202.8 378.9 213.4 404.4 243 360.7 219.6 382 211.9 395.5 237 352.1 209.8 389.7 242.1 368.3 243.9 408.4 221.7 365.7 212.2 388.1 223.2 402.8 235.3 397.2 202.1 342.4 217.6 377.4 250.5 395.3 236.4 381 230.1 388.5 238.3 348.6 236 352.3 211.3 373.4 242.9 366.7 219.9 362.3 205.8 358.4 218.2 419.3 234 352.1 200.6 398.2 248 357.7 244 368.2 245.7 347.9 247 356.2 219.4 399.1 226.8 370.1 203.6 364.9 245.3 337.2 241.9 368.2 233.8 386.3 233.1 356.9 221.7 371.9 208.2 348.5 245.6 363.5 232.7 360.1 221.2 393.8 221.9 379 220.2 385.9 213 370 251.5 421.1 245.6 391.3 233.3 403.4 233.3 360.9 219.1 421.5 229.7 397.3 222.3 373.6 217 383.8 246.2 367.3 225.4 368.8 244.5 376.7 215 388.3 223.5 363.5 191.6 384.7 219.6 330.9 221.2 369.9 230.2 407.1 212.3 393.4 215.9 340.8 244.9 391.4 195.4 372.5 235.3 390.9 233.6 359.1 223.7 357.1 213.4 382.8 224.3 366.1 214.8 390.7 235.1 397 214.2 378.1 226.4 379.1 215.8 395.3 231.9 366.9 228.3 398 235.7 375.6 243.6 387.9 213.1 388.1 218.4 326.4 210.3 408.4 233 355.8 223 396.9 249.3 387.9 234.1 354 235.6 374.8 226.4 374.2 220.5 335.5 236.1 365.3 235.3 390.8 224.5 379.5 240.8 399.2 242.3 382.8 242.4 378.3 218.4 377.3 226.1 415 223.4 341.1 207.4 377 227.8 379 249.8 361.4 223.7 375.3 228.2 364.8 241.3 360.2 249.9 369.9 227.6 395.1 212.7 352.6 228.1 341.9 236.6 338.3 209.7 396.3 243.6 377.8 218.6 371.9 220.3 408.9 242.9 364.2 242.3 381.5 220.7 353.1 228 381.9 198 406.5 244.1 374.2 208.3 397.3 242.2 355.8 231.5 361.4 228.7 386.5 237.3 366.6 199 361.9 225.9 356 252.1 388.3 204.8 383 216.6 385.3 215.7 379.7 200 395.1 226.1 393.6 228.9 364.6 226.1 375.4 244 345.5 241.4 374.5 215.5 370.7 223.5 377 220.1 355.2 234.4 402.1 241.3 367.8 223.1 340.9 240.9 363.9 216.9 385.6 225.1 374.1 220.1 400.9 215.6 391.5 213.2 355.5 224.4 370.7 251.6 325.9 229.3 391.7 235.8 374.6 220.5 360.9 219.3 338.9 246.1 326.2 227.8 371 222.9 367.2 231.6 399.9 220.6 380.5 233.4 396.8 239 363.6 230.3 342 242.7 404.5 231.9 390.2 234.7 374.4 236.7 381.2 235.6 388.3 233.1 395.7 208.3 387.7 252.8 377.8 230.3 368.6 228.8 403.3 205.6 363.9 220.3 382.8 225 333.2 208.4 396.2 235 363.1 214.9 361.5 241.2 376.8 224.9 389.2 211.3 324.3 226.2 374 234 384.3 208 361.8 247 329.1 217.6 371.6 219.3 386 238.9 381.7 229.6 399.1 243.1 399 241.6 362.2 230 380.2 203.2 356.6 227 354.1 233.9 367.9 227.4 333.3 234.2 374.9 212.2 411.7 213.1 368.8 227.5 411 227.5 371.8 243.7 397.6 223.6 375.4 190.6 389.3 227.9 393.2 217.1 369.7 224.6 406.2 229.7 402.3 229.1 401.6 232.1 348.6 230.6 371.2 233.3 404.8 261.7 375 239.3 387.6 226.4 352.8 199.7 352.9 221.8 399.8 229.9 367.6 216 340.2 211.6 377 205.3 376.3 237.9 365.5 251.4 371.4 226.7 356.7 226.4 363.1 217.4 373.1 238.1" marker-start="url(#cas)" marker-mid="url(#cas)" marker-end="url(#cas)"/>
<path d="M307.2 323.5V8M307.2 323.5L595.6 351.8L664.8 238.4" stroke="#000" stroke-width="1.3" fill="none"/>
<path d="M307.2 2.5L304.6 9.5H309.8z" fill="#000"/>
<path d="M668.6 232.2L660.9 236.9L666.4 240.2z" fill="#000"/>
<text x="302.3" y="122.4" class="tc" text-anchor="end">4</text>
<text x="302.3" y="156.6" class="tc" text-anchor="end">2</text>
<text x="302.3" y="191.3" class="tc" text-anchor="end">0</text>
<text x="302.3" y="224.4" class="tc" text-anchor="end">-2</text>
<text x="302.3" y="257.9" class="tc" text-anchor="end">-4</text>
<text x="302.3" y="292.3" class="tc" text-anchor="end">-6</text>
<text x="302.3" y="326.8" class="tc" text-anchor="end">-8</text>
<text x="332.4" y="340.3" class="tc" text-anchor="middle">-3</text>
<text x="369.6" y="344.2" class="tc" text-anchor="middle">-2</text>
<text x="405.7" y="347.6" class="tc" text-anchor="middle">-1</text>
<text x="446.6" y="351.4" class="tc" text-anchor="middle">0</text>
<text x="482.8" y="354.5" class="tc" text-anchor="middle">1</text>
<text x="520.5" y="358.6" class="tc" text-anchor="middle">2</text>
<text x="556.7" y="362.4" class="tc" text-anchor="middle">3</text>
<text x="616.0" y="339.8" class="tc" text-anchor="middle">4</text>
<text x="630.0" y="316.4" class="tc" text-anchor="middle">2</text>
<text x="645.8" y="292.5" class="tc" text-anchor="middle">0</text>
<text x="659.7" y="270.0" class="tc" text-anchor="middle">-2</text>
<text x="430" y="362.3" class="g9">γ<tspan class="sub9" dy="1.3">2</tspan></text>
<text x="644" y="307" class="g9">γ<tspan class="sub9" dy="1.3">1</tspan></text>
<text transform="translate(299.4 86.5) rotate(-90)" class="g9">γ<tspan class="sub9" dy="1.3">3</tspan></text>
<text x="320.8" y="34.8" class="lbl3">C</text>
<path class="p" d="M356.8 10.8h.01" marker-start="url(#csq)"/>
<text x="368.3" y="13.9" class="tlc">MR</text>
<path class="p" d="M395.1 10.8h.01" marker-start="url(#ctr)"/>
<text x="406.6" y="13.9" class="tlc">MS</text>
<path class="p" d="M432.2 10.8h.01" marker-start="url(#cpl)"/>
<text x="444.2" y="13.9" class="tlc">ASD</text>
<path class="p" d="M474.6 10.8h.01" marker-start="url(#ccr)"/>
<text x="486.1" y="13.9" class="tlc">NM</text>
<path class="p" d="M513.5 10.8h.01" marker-start="url(#cst)"/>
<text x="525" y="13.9" class="tlc">AS</text>
<path class="p" d="M549.5 10.8h.01" marker-start="url(#cci)"/>
<text x="561" y="13.9" class="tlc">AR</text>
<path class="p" d="M585.4 10.8h.01" marker-start="url(#cas)"/>
<text x="597.4" y="13.9" class="tlc">VSD</text>
</svg>
</body></html>
